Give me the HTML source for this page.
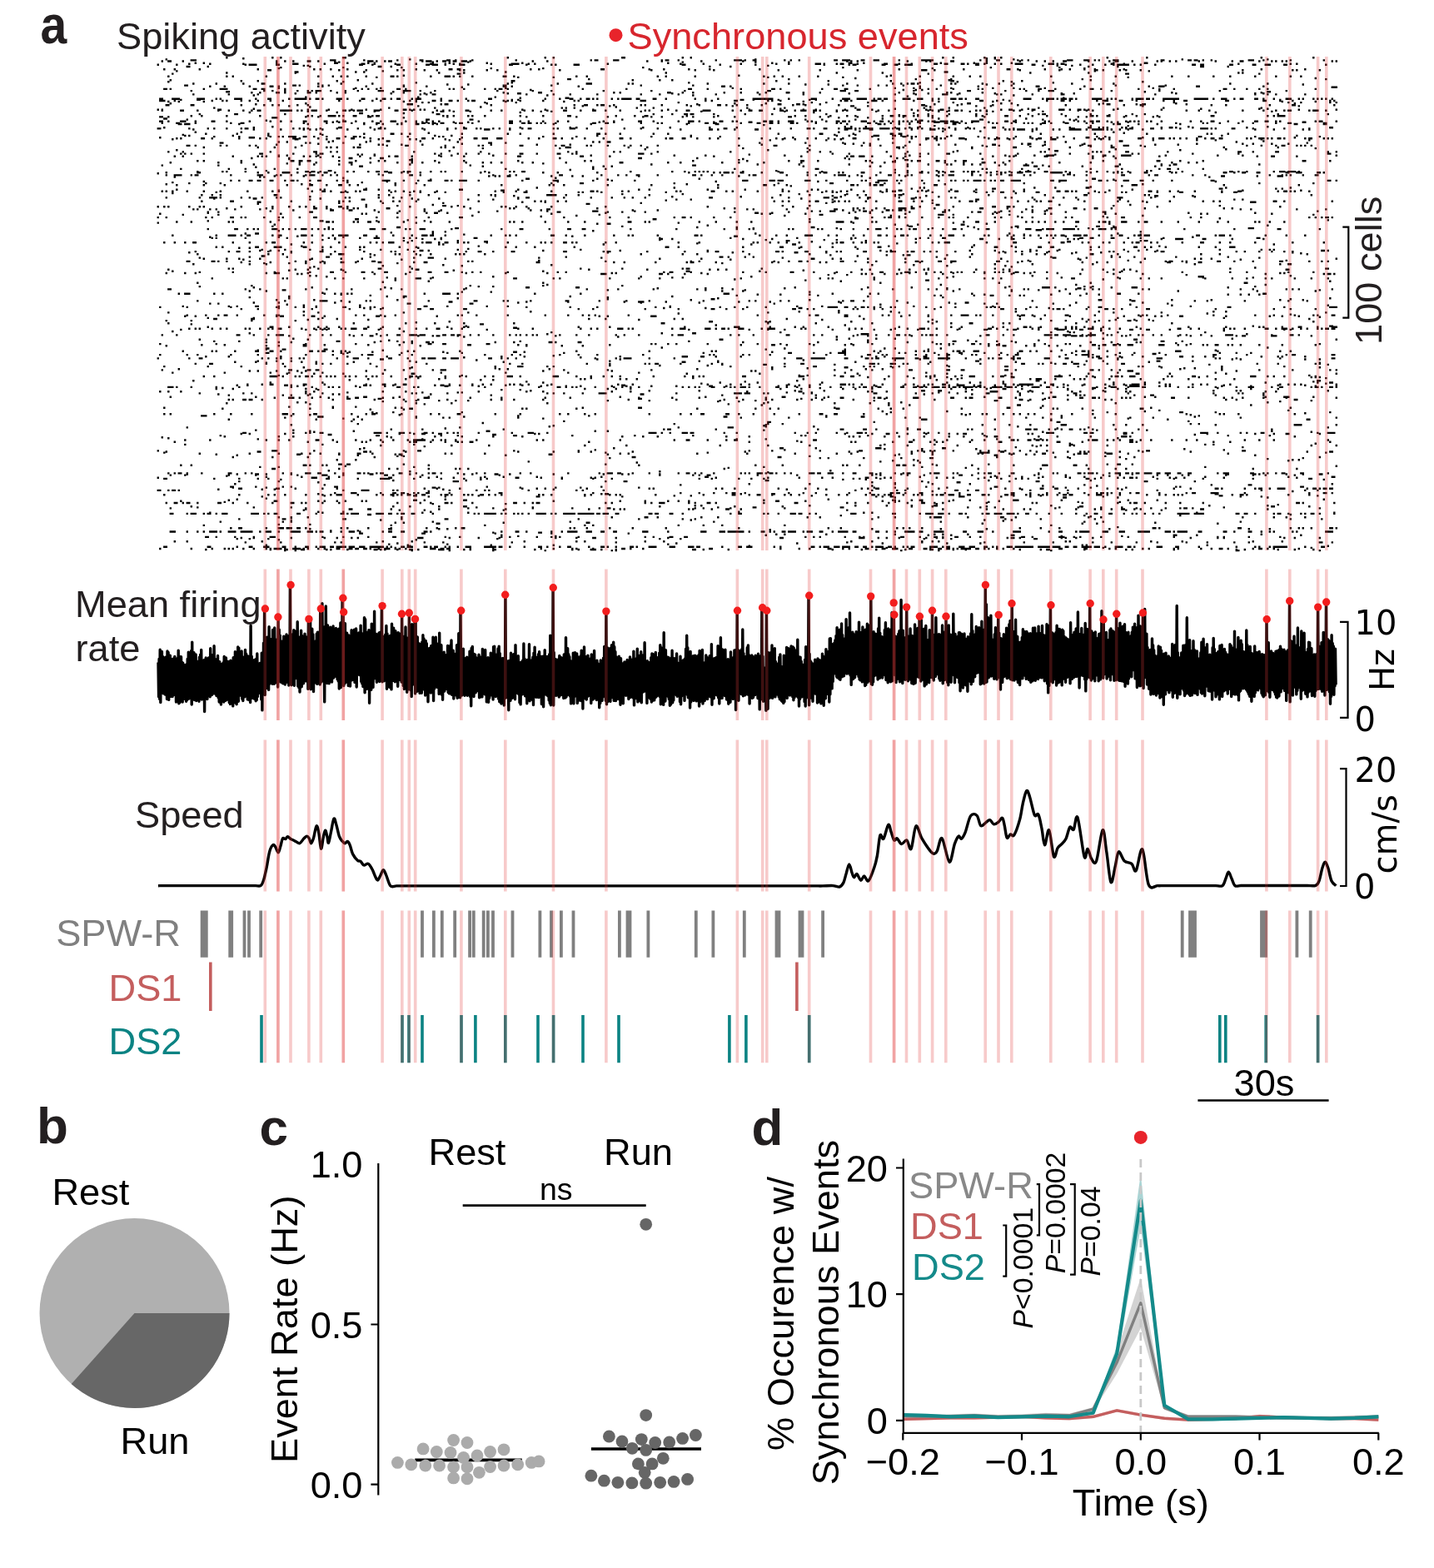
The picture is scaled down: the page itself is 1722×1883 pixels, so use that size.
<!DOCTYPE html><html><head><meta charset="utf-8"><title>Figure</title><style>html,body{margin:0;padding:0;background:#fff;}svg text{white-space:pre;}</style></head><body><svg width="1722" height="1883" viewBox="0 0 1722 1883" style="display:block">
<rect width="1722" height="1883" fill="#fff"/>
<g transform="translate(188.6 69.2)"><path d="M82.5 0h2.4m52.6 0h2.4m7.6 0h2.4m72.6 0h4.9m192.6 0h2.4m42.6 0h2.4m7.6 0h2.4m80.1 0h4.9m67.6 0h2.4m7.6 0h2.4m300.1 0h2.4m10.1 0h2.4m35.1 0h2.4m10.1 0h2.4m5.1 0h2.4m125.1 0h2.4m45.1 0h2.4m135.1 0h2.4m60.1 0h2.4M102.5 1.1h2.4m890.1 0h2.4m7.6 0h2.4M10 2.2h2.4m290.1 0h2.4m412.6 0h2.4m275.1 0h2.4m30.1 0h2.4m200.1 0h2.4m100.1 0h2.4M40 3.2h7.4m160.1 0h7.4m32.6 0h2.4m37.6 0h2.4m25.1 0h4.9m27.6 0h4.9m5.1 0h2.4m17.6 0h2.4m50.1 0h2.4m87.6 0h2.4m2.6 0h4.9m17.6 0h7.4m50.1 0h2.4m2.6 0h4.9m10.1 0h2.4m42.6 0h2.4m20.1 0h9.9m2.6 0h2.4m7.6 0h4.9m32.6 0h2.4m5.1 0h2.4m7.6 0h2.4m40.1 0h4.9m5.1 0h9.9m12.6 0h4.9m10.1 0h7.4m22.6 0h2.4m25.1 0h14.9m55.1 0h2.4m17.6 0h4.9m20.1 0h2.4m2.6 0h2.4m5.1 0h2.4m45.1 0h7.4m12.6 0h7.4m5.1 0h2.4m2.6 0h2.4m15.1 0h7.4m50.1 0h4.9m27.6 0h4.9m2.6 0h4.9m5.1 0h2.4m7.6 0h2.4m42.6 0h7.4m10.1 0h2.4m30.1 0h2.4m37.6 0h2.4M5 4.3h2.4m5.1 0h4.9m12.6 0h2.4m110.1 0h2.4m7.6 0h2.4m7.6 0h2.4m15.1 0h4.9m7.6 0h2.4m17.6 0h2.4m37.6 0h7.4m2.6 0h2.4m7.6 0h2.4m2.6 0h4.9m35.1 0h2.4m2.6 0h7.4m5.1 0h2.4m5.1 0h4.9m2.6 0h2.4m2.6 0h4.9m5.1 0h7.4m2.6 0h2.4m72.6 0h2.4m15.1 0h2.4m117.6 0h2.4m15.1 0h2.4m45.1 0h2.4m47.6 0h2.4m122.6 0h2.4m2.6 0h2.4m5.1 0h2.4m57.6 0h2.4m20.1 0h2.4m2.6 0h2.4m22.6 0h4.9m37.6 0h2.4m37.6 0h2.4m17.6 0h2.4m7.6 0h2.4m7.6 0h2.4m10.1 0h4.9m25.1 0h2.4m22.6 0h2.4m5.1 0h4.9m15.1 0h2.4m27.6 0h2.4m2.6 0h2.4m7.6 0h2.4m5.1 0h2.4m25.1 0h2.4m17.6 0h2.4m17.6 0h2.4m7.6 0h4.9m17.6 0h2.4m12.6 0h2.4m2.6 0h2.4m5.1 0h2.4m2.6 0h2.4m52.6 0h2.4m2.6 0h2.4M217.5 5.4h2.4m110.1 0h2.4m40.1 0h2.4m255.1 0h2.4m85.1 0h2.4m37.6 0h2.4M45 6.5h2.4m7.6 0h2.4m85.1 0h2.4m67.6 0h4.9m10.1 0h2.4m22.6 0h2.4m5.1 0h2.4m87.6 0h2.4m42.6 0h2.4m40.1 0h2.4m172.6 0h2.4m122.6 0h2.4m90.1 0h4.9m12.6 0h2.4m90.1 0h2.4m37.6 0h2.4m12.6 0h2.4m27.6 0h2.4m120.1 0h2.4m35.1 0h4.9M37.5 7.5h2.4m22.6 0h2.4m37.6 0h2.4m57.6 0h7.4m30.1 0h2.4m42.6 0h4.9m10.1 0h2.4m22.6 0h2.4m22.6 0h2.4m15.1 0h4.9m12.6 0h2.4m7.6 0h2.4m5.1 0h2.4m35.1 0h2.4m22.6 0h9.9m10.1 0h2.4m5.1 0h2.4m85.1 0h2.4m85.1 0h2.4m25.1 0h2.4m42.6 0h2.4m40.1 0h2.4m12.6 0h2.4m30.1 0h7.4m2.6 0h2.4m12.6 0h2.4m2.6 0h4.9m15.1 0h2.4m30.1 0h4.9m12.6 0h2.4m12.6 0h2.4m25.1 0h4.9m7.6 0h4.9m15.1 0h4.9m2.6 0h2.4m7.6 0h4.9m5.1 0h2.4m10.1 0h2.4m5.1 0h2.4m15.1 0h9.9m30.1 0h7.4m2.6 0h2.4m2.6 0h4.9m55.1 0h2.4m12.6 0h2.4m135.1 0h2.4m60.1 0h2.4m5.1 0h2.4M0 8.6h2.4m20.1 0h2.4m80.1 0h2.4m2.6 0h9.9m22.6 0h4.9m95.1 0h4.9m10.1 0h2.4m27.6 0h4.9m30.1 0h4.9m2.6 0h7.4m7.6 0h2.4m15.1 0h7.4m52.6 0h4.9m15.1 0h2.4m27.6 0h2.4m2.6 0h2.4m20.1 0h7.4m122.6 0h4.9m40.1 0h2.4m40.1 0h2.4m80.1 0h2.4m27.6 0h2.4m2.6 0h4.9m30.1 0h4.9m10.1 0h4.9m7.6 0h9.9m75.1 0h4.9m62.6 0h4.9m35.1 0h2.4m15.1 0h2.4m12.6 0h2.4m12.6 0h2.4m7.6 0h2.4m2.6 0h14.9m5.1 0h2.4m5.1 0h2.4m15.1 0h2.4m42.6 0h4.9m5.1 0h4.9m30.1 0h4.9m22.6 0h4.9m10.1 0h7.4m15.1 0h4.9m45.1 0h2.4M175 9.7h2.4m2.6 0h2.4m550.1 0h2.4m327.6 0h2.4m15.1 0h2.4m15.1 0h2.4M35 10.8h4.9m20.1 0h2.4m120.1 0h2.4m80.1 0h4.9m10.1 0h2.4m380.1 0h2.4m22.6 0h2.4m427.6 0h2.4m32.6 0h2.4m97.6 0h4.9m27.6 0h2.4M147.5 11.9h2.4m72.6 0h2.4m67.6 0h2.4m287.6 0h2.4m237.6 0h2.4m175.1 0h2.4m80.1 0h2.4M145 12.9h2.4m252.6 0h2.4m60.1 0h2.4m465.1 0h2.4m180.1 0h2.4M7.5 14h2.4m10.1 0h2.4m27.6 0h2.4m67.6 0h2.4m65.1 0h2.4m5.1 0h2.4m10.1 0h2.4m17.6 0h2.4m80.1 0h2.4m37.6 0h4.9m5.1 0h4.9m82.6 0h2.4m7.6 0h2.4m72.6 0h4.9m52.6 0h2.4m15.1 0h2.4m27.6 0h2.4m22.6 0h2.4m57.6 0h2.4m165.1 0h2.4m75.1 0h2.4m50.1 0h4.9m7.6 0h2.4m30.1 0h2.4m17.6 0h2.4m7.6 0h2.4m15.1 0h2.4m10.1 0h2.4m32.6 0h2.4m162.6 0h2.4m50.1 0h2.4M132.5 15.1h4.9m80.1 0h2.4m30.1 0h2.4m35.1 0h2.4m5.1 0h2.4m22.6 0h2.4m12.6 0h2.4m25.1 0h2.4m2.6 0h2.4m25.1 0h2.4m10.1 0h2.4m72.6 0h2.4m107.6 0h2.4m50.1 0h2.4m20.1 0h2.4m75.1 0h2.4m47.6 0h2.4m42.6 0h2.4m75.1 0h7.4m7.6 0h2.4m100.1 0h2.4m45.1 0h2.4m42.6 0h2.4m5.1 0h2.4m17.6 0h2.4m5.1 0h2.4m15.1 0h2.4m120.1 0h2.4m57.6 0h2.4m2.6 0h2.4m25.1 0h2.4M22.5 16.2h2.4m245.1 0h2.4m852.6 0h2.4m62.6 0h2.4M165 17.3h4.9m67.6 0h2.4m7.6 0h2.4m167.6 0h2.4m525.1 0h4.9M82.5 18.3h2.4m80.1 0h2.4m170.1 0h2.4m27.6 0h2.4m240.1 0h2.4m202.6 0h2.4m52.6 0h2.4m175.1 0h2.4m67.6 0h2.4m177.6 0h2.4m2.6 0h2.4M17.5 19.4h2.4m340.1 0h4.9m560.1 0h2.4m235.1 0h4.9m155.1 0h2.4M295 21.6h2.4m400.1 0h2.4m180.1 0h2.4M12.5 22.6h2.4m67.6 0h2.4m5.1 0h2.4m37.6 0h2.4m60.1 0h2.4m15.1 0h2.4m7.6 0h2.4m5.1 0h2.4m20.1 0h2.4m27.6 0h4.9m2.6 0h2.4m37.6 0h2.4m15.1 0h7.4m2.6 0h2.4m5.1 0h2.4m12.6 0h2.4m35.1 0h4.9m7.6 0h2.4m72.6 0h2.4m10.1 0h2.4m82.6 0h2.4m7.6 0h2.4m32.6 0h2.4m80.1 0h2.4m10.1 0h2.4m7.6 0h2.4m17.6 0h2.4m20.1 0h2.4m80.1 0h2.4m37.6 0h2.4m37.6 0h2.4m17.6 0h2.4m10.1 0h2.4m82.6 0h2.4m45.1 0h2.4m27.6 0h2.4m65.1 0h2.4m17.6 0h2.4m27.6 0h2.4m17.6 0h2.4m27.6 0h2.4m22.6 0h2.4m15.1 0h2.4m10.1 0h2.4M262.5 23.7h2.4m167.6 0h2.4m40.1 0h2.4m255.1 0h2.4m87.6 0h2.4m340.1 0h2.4M837.5 24.8h2.4m550.1 0h2.4M492.5 25.9h4.9m20.1 0h2.4m237.6 0h2.4m150.1 0h2.4m40.1 0h2.4m155.1 0h2.4m290.1 0h2.4M15 27h2.4m222.6 0h2.4m327.6 0h2.4m30.1 0h2.4m12.6 0h2.4m310.1 0h2.4m17.6 0h2.4m167.6 0h2.4M100 28h2.4m17.6 0h2.4m92.6 0h2.4m207.6 0h4.9m312.6 0h2.4m60.1 0h2.4m72.6 0h2.4m70.1 0h4.9m57.6 0h2.4m20.1 0h2.4M12.5 29.1h2.4m207.6 0h2.4m735.1 0h2.4m62.6 0h2.4m155.1 0h2.4M310 30.2h2.4m112.6 0h2.4m210.1 0h2.4m275.1 0h2.4m157.6 0h2.4M42.5 31.3h2.4m25.1 0h2.4m30.1 0h2.4m20.1 0h4.9m22.6 0h2.4m37.6 0h2.4m25.1 0h2.4m35.1 0h2.4m160.1 0h2.4m57.6 0h2.4m32.6 0h7.4m42.6 0h2.4m2.6 0h2.4m87.6 0h2.4m65.1 0h2.4m27.6 0h2.4m67.6 0h2.4m52.6 0h2.4m7.6 0h2.4m5.1 0h2.4m2.6 0h4.9m2.6 0h2.4m37.6 0h2.4m2.6 0h2.4m30.1 0h2.4m17.6 0h2.4m15.1 0h2.4m67.6 0h2.4m47.6 0h2.4m137.6 0h2.4m42.6 0h2.4M347.5 32.3h2.4m22.6 0h2.4m402.6 0h2.4m25.1 0h2.4m187.6 0h2.4m377.6 0h2.4M32.5 33.4h4.9m125.1 0h4.9m2.6 0h2.4m25.1 0h2.4m5.1 0h2.4m87.6 0h2.4m117.6 0h4.9m52.6 0h2.4m105.1 0h2.4m60.1 0h2.4m177.6 0h2.4m15.1 0h2.4m22.6 0h2.4m7.6 0h2.4m17.6 0h2.4m42.6 0h2.4m82.6 0h2.4m122.6 0h2.4m57.6 0h2.4M62.5 34.5h2.4m15.1 0h2.4m27.6 0h2.4m22.6 0h4.9m5.1 0h2.4m45.1 0h2.4m2.6 0h2.4m50.1 0h2.4m42.6 0h2.4m25.1 0h2.4m90.1 0h4.9m5.1 0h2.4m77.6 0h2.4m170.1 0h4.9m5.1 0h2.4m225.1 0h2.4m67.6 0h2.4m67.6 0h4.9m52.6 0h2.4m75.1 0h2.4m10.1 0h7.4m37.6 0h4.9m75.1 0h2.4M365 35.6h2.4m547.6 0h2.4m492.6 0h7.4M145 36.7h2.4m90.1 0h2.4m27.6 0h2.4m147.6 0h2.4m270.1 0h2.4m192.6 0h2.4m20.1 0h2.4m5.1 0h2.4m35.1 0h2.4m47.6 0h2.4m22.6 0h2.4m35.1 0h2.4m127.6 0h2.4M7.5 37.7h4.9m2.6 0h2.4m37.6 0h2.4m17.6 0h9.9m30.1 0h4.9m5.1 0h4.9m22.6 0h2.4m80.1 0h2.4m7.6 0h2.4m5.1 0h2.4m7.6 0h2.4m22.6 0h4.9m5.1 0h2.4m50.1 0h2.4m2.6 0h2.4m10.1 0h2.4m22.6 0h2.4m10.1 0h2.4m2.6 0h4.9m5.1 0h2.4m87.6 0h2.4m50.1 0h2.4m72.6 0h4.9m17.6 0h2.4m37.6 0h2.4m35.1 0h4.9m5.1 0h2.4m47.6 0h2.4m12.6 0h4.9m7.6 0h4.9m25.1 0h2.4m67.6 0h2.4m7.6 0h2.4m17.6 0h2.4m27.6 0h2.4m2.6 0h2.4m42.6 0h2.4m2.6 0h2.4m15.1 0h4.9m15.1 0h2.4m27.6 0h2.4m10.1 0h4.9m7.6 0h2.4m42.6 0h2.4m22.6 0h2.4m15.1 0h2.4m57.6 0h4.9m7.6 0h2.4m12.6 0h2.4m12.6 0h2.4m7.6 0h2.4m55.1 0h2.4M447.5 38.8h2.4m445.1 0h2.4m12.6 0h2.4m5.1 0h2.4M40 39.9h2.4m85.1 0h2.4m7.6 0h2.4m12.6 0h2.4m12.6 0h2.4m10.1 0h2.4m2.6 0h2.4m2.6 0h7.4m10.1 0h2.4m15.1 0h2.4m12.6 0h2.4m22.6 0h7.4m22.6 0h9.9m10.1 0h2.4m15.1 0h2.4m72.6 0h2.4m40.1 0h2.4m20.1 0h2.4m60.1 0h2.4m55.1 0h2.4m37.6 0h2.4m97.6 0h4.9m82.6 0h7.4m10.1 0h4.9m65.1 0h2.4m62.6 0h4.9m40.1 0h2.4m22.6 0h2.4m12.6 0h2.4m10.1 0h7.4m67.6 0h2.4m55.1 0h2.4m70.1 0h2.4m77.6 0h2.4M82.5 41h4.9m195.1 0h2.4m900.1 0h2.4m145.1 0h4.9M112.5 42h2.4m7.6 0h2.4m17.6 0h4.9m5.1 0h2.4m25.1 0h4.9m5.1 0h2.4m22.6 0h2.4m7.6 0h2.4m67.6 0h2.4m30.1 0h2.4m85.1 0h2.4m40.1 0h4.9m85.1 0h2.4m5.1 0h2.4m55.1 0h4.9m12.6 0h2.4m10.1 0h2.4m35.1 0h2.4m17.6 0h2.4m17.6 0h2.4m7.6 0h2.4m22.6 0h4.9m15.1 0h2.4m17.6 0h2.4m92.6 0h2.4m55.1 0h2.4m2.6 0h2.4m35.1 0h2.4m225.1 0h2.4m105.1 0h2.4M165 43.1h2.4m112.6 0h2.4m37.6 0h2.4m97.6 0h2.4m10.1 0h4.9m180.1 0h2.4m210.1 0h2.4m75.1 0h2.4m15.1 0h2.4m35.1 0h2.4m40.1 0h2.4m77.6 0h2.4m12.6 0h2.4m120.1 0h2.4m92.6 0h2.4m7.6 0h2.4M42.5 44.2h2.4m40.1 0h2.4m32.6 0h2.4m192.6 0h2.4m5.1 0h2.4m5.1 0h4.9m107.6 0h2.4m30.1 0h2.4m17.6 0h2.4m30.1 0h2.4m50.1 0h2.4m20.1 0h2.4m20.1 0h2.4m42.6 0h2.4m50.1 0h2.4m50.1 0h2.4m107.6 0h2.4m22.6 0h2.4m30.1 0h7.4m10.1 0h2.4m45.1 0h2.4m2.6 0h2.4m35.1 0h2.4m32.6 0h4.9m107.6 0h2.4m117.6 0h2.4m12.6 0h2.4m7.6 0h2.4m32.6 0h2.4M115 45.3h2.4m350.1 0h2.4m172.6 0h2.4m382.6 0h2.4M900 46.4h2.4M177.5 47.4h2.4m132.6 0h2.4m90.1 0h2.4M435 48.5h2.4m52.6 0h4.9m592.6 0h2.4M2.5 49.6h4.9m10.1 0h9.9m20.1 0h9.9m12.6 0h2.4m2.6 0h2.4m15.1 0h9.9m15.1 0h2.4m12.6 0h4.9m20.1 0h2.4m5.1 0h14.9m2.6 0h2.4m5.1 0h4.9m2.6 0h2.4m15.1 0h7.4m5.1 0h2.4m15.1 0h4.9m12.6 0h2.4m5.1 0h4.9m5.1 0h2.4m5.1 0h4.9m12.6 0h2.4m2.6 0h7.4m22.6 0h2.4m27.6 0h2.4m25.1 0h4.9m62.6 0h2.4m15.1 0h2.4m10.1 0h4.9m7.6 0h2.4m5.1 0h4.9m2.6 0h2.4m2.6 0h2.4m15.1 0h2.4m5.1 0h2.4m2.6 0h12.4m5.1 0h4.9m15.1 0h4.9m10.1 0h2.4m32.6 0h2.4m10.1 0h2.4m12.6 0h2.4m40.1 0h24.9m17.6 0h2.4m25.1 0h7.4m17.6 0h2.4m10.1 0h9.9m7.6 0h12.4m7.6 0h2.4m2.6 0h4.9m2.6 0h4.9m17.6 0h9.9m7.6 0h7.4m10.1 0h2.4m5.1 0h2.4m12.6 0h7.4m2.6 0h4.9m2.6 0h2.4m10.1 0h4.9m52.6 0h9.9m12.6 0h2.4m2.6 0h9.9m2.6 0h2.4m2.6 0h7.4m2.6 0h4.9m2.6 0h2.4m17.6 0h12.4m5.1 0h2.4m2.6 0h2.4m2.6 0h2.4m17.6 0h2.4m2.6 0h9.9m2.6 0h4.9m2.6 0h2.4m10.1 0h19.9m17.6 0h17.4m5.1 0h2.4m7.6 0h7.4m7.6 0h2.4m5.1 0h4.9m12.6 0h4.9m5.1 0h2.4m10.1 0h2.4m12.6 0h7.4m7.6 0h2.4m2.6 0h2.4m10.1 0h2.4m2.6 0h2.4m2.6 0h2.4m2.6 0h2.4m5.1 0h2.4M27.5 50.7h2.4m17.6 0h4.9m372.6 0h2.4m5.1 0h2.4m265.1 0h4.9m10.1 0h2.4m27.6 0h2.4m35.1 0h2.4m5.1 0h2.4m222.6 0h2.4m152.6 0h2.4m175.1 0h2.4M2.5 51.8h7.4m10.1 0h2.4m42.6 0h2.4m10.1 0h2.4m2.6 0h2.4m15.1 0h2.4m7.6 0h2.4m7.6 0h2.4m12.6 0h2.4m12.6 0h2.4m65.1 0h2.4m22.6 0h2.4m12.6 0h2.4m7.6 0h2.4m32.6 0h2.4m5.1 0h2.4m17.6 0h4.9m5.1 0h2.4m7.6 0h4.9m5.1 0h2.4m10.1 0h2.4m2.6 0h4.9m32.6 0h2.4m2.6 0h2.4m2.6 0h2.4m7.6 0h2.4m25.1 0h2.4m35.1 0h2.4m2.6 0h2.4m72.6 0h7.4m70.1 0h2.4m5.1 0h2.4m25.1 0h4.9m35.1 0h2.4m2.6 0h2.4m7.6 0h2.4m70.1 0h2.4m2.6 0h4.9m2.6 0h2.4m22.6 0h7.4m5.1 0h2.4m12.6 0h2.4m20.1 0h2.4m20.1 0h2.4m55.1 0h4.9m15.1 0h2.4m12.6 0h2.4m42.6 0h2.4m15.1 0h4.9m5.1 0h2.4m30.1 0h2.4m5.1 0h7.4m12.6 0h4.9m15.1 0h2.4m30.1 0h2.4m10.1 0h2.4m10.1 0h4.9m45.1 0h4.9m40.1 0h4.9m15.1 0h2.4m12.6 0h2.4m42.6 0h2.4m2.6 0h2.4M12.5 52.8h2.4m10.1 0h2.4m27.6 0h2.4m237.6 0h2.4m12.6 0h2.4m105.1 0h2.4m67.6 0h2.4m285.1 0h2.4m160.1 0h2.4m62.6 0h2.4m345.1 0h2.4m37.6 0h2.4M317.5 53.9h2.4m5.1 0h2.4m65.1 0h2.4m35.1 0h2.4m192.6 0h2.4m157.6 0h2.4m15.1 0h2.4m47.6 0h2.4m100.1 0h2.4m262.6 0h2.4m135.1 0h2.4m12.6 0h2.4m32.6 0h2.4m5.1 0h2.4M15 55h2.4m160.1 0h2.4m215.1 0h2.4m295.1 0h2.4m35.1 0h2.4m240.1 0h4.9m35.1 0h2.4m10.1 0h2.4m107.6 0h2.4m85.1 0h2.4m140.1 0h2.4M117.5 56.1h2.4m180.1 0h7.4m32.6 0h2.4m2.6 0h4.9m297.6 0h2.4m95.1 0h4.9m17.6 0h4.9m2.6 0h2.4m17.6 0h2.4m135.1 0h2.4m30.1 0h2.4m162.6 0h2.4m7.6 0h4.9m30.1 0h2.4m5.1 0h4.9m47.6 0h2.4M10 57.1h4.9m25.1 0h4.9m55.1 0h2.4m25.1 0h2.4m7.6 0h2.4m5.1 0h2.4m20.1 0h2.4m10.1 0h2.4m217.6 0h2.4m97.6 0h2.4m10.1 0h4.9m10.1 0h2.4m2.6 0h4.9m10.1 0h2.4m30.1 0h2.4m2.6 0h2.4m17.6 0h2.4m27.6 0h2.4m12.6 0h2.4m20.1 0h4.9m5.1 0h2.4m10.1 0h2.4m10.1 0h2.4m15.1 0h2.4m35.1 0h2.4m12.6 0h2.4m37.6 0h2.4m97.6 0h4.9m37.6 0h2.4m40.1 0h2.4m27.6 0h2.4m55.1 0h2.4m67.6 0h2.4m17.6 0h2.4m82.6 0h2.4m15.1 0h2.4m50.1 0h2.4m25.1 0h4.9m45.1 0h2.4M157.5 58.2h2.4m152.6 0h2.4m195.1 0h2.4m30.1 0h2.4m95.1 0h2.4m47.6 0h2.4m140.1 0h4.9m15.1 0h2.4m67.6 0h2.4m57.6 0h2.4m15.1 0h2.4m180.1 0h2.4m185.1 0h2.4M182.5 59.3h2.4m202.6 0h2.4m160.1 0h2.4m375.1 0h2.4M67.5 60.4h2.4m207.6 0h2.4m52.6 0h2.4m150.1 0h2.4m2.6 0h2.4m7.6 0h2.4m72.6 0h2.4m17.6 0h2.4m110.1 0h2.4m42.6 0h2.4m82.6 0h2.4m80.1 0h2.4m27.6 0h2.4m40.1 0h2.4m62.6 0h2.4m147.6 0h2.4m115.1 0h2.4M115 61.5h2.4m622.6 0h2.4m5.1 0h2.4m135.1 0h2.4m157.6 0h2.4m105.1 0h2.4m97.6 0h2.4m67.6 0h2.4m7.6 0h2.4M0 62.5h2.4m2.6 0h2.4m65.1 0h4.9m102.6 0h2.4m22.6 0h2.4m25.1 0h2.4m15.1 0h2.4m15.1 0h2.4m25.1 0h4.9m2.6 0h2.4m2.6 0h2.4m5.1 0h2.4m2.6 0h2.4m115.1 0h2.4m25.1 0h2.4m55.1 0h2.4m87.6 0h2.4m95.1 0h2.4m62.6 0h2.4m12.6 0h2.4m32.6 0h2.4m12.6 0h4.9m12.6 0h2.4m45.1 0h2.4m15.1 0h2.4m2.6 0h2.4m10.1 0h4.9m67.6 0h2.4m7.6 0h4.9m10.1 0h2.4m10.1 0h4.9m27.6 0h7.4m5.1 0h2.4m7.6 0h4.9m2.6 0h2.4m2.6 0h2.4m27.6 0h2.4m55.1 0h2.4m162.6 0h2.4m42.6 0h2.4M5 63.6h2.4m20.1 0h4.9m15.1 0h2.4m22.6 0h2.4m10.1 0h2.4m15.1 0h2.4m7.6 0h2.4m5.1 0h4.9m22.6 0h14.9m5.1 0h2.4m2.6 0h2.4m10.1 0h7.4m10.1 0h2.4m17.6 0h4.9m2.6 0h2.4m2.6 0h2.4m2.6 0h7.4m12.6 0h7.4m17.6 0h4.9m15.1 0h2.4m27.6 0h2.4m5.1 0h2.4m5.1 0h2.4m17.6 0h4.9m25.1 0h2.4m10.1 0h2.4m25.1 0h2.4m7.6 0h2.4m15.1 0h2.4m17.6 0h4.9m15.1 0h2.4m12.6 0h4.9m10.1 0h2.4m15.1 0h2.4m27.6 0h2.4m2.6 0h2.4m12.6 0h2.4m15.1 0h2.4m10.1 0h4.9m15.1 0h9.9m25.1 0h2.4m7.6 0h2.4m7.6 0h4.9m7.6 0h4.9m20.1 0h4.9m2.6 0h2.4m7.6 0h2.4m5.1 0h7.4m7.6 0h4.9m2.6 0h2.4m17.6 0h2.4m5.1 0h2.4m2.6 0h2.4m35.1 0h2.4m10.1 0h2.4m32.6 0h2.4m10.1 0h2.4m2.6 0h2.4m5.1 0h2.4m10.1 0h2.4m5.1 0h4.9m2.6 0h2.4m15.1 0h2.4m2.6 0h2.4m5.1 0h2.4m30.1 0h2.4m5.1 0h2.4m12.6 0h2.4m52.6 0h2.4m7.6 0h2.4m5.1 0h2.4m110.1 0h2.4m12.6 0h2.4m10.1 0h2.4m37.6 0h2.4m22.6 0h2.4m12.6 0h2.4m7.6 0h2.4m2.6 0h4.9m20.1 0h2.4m2.6 0h7.4m7.6 0h2.4M180 64.7h2.4m77.6 0h2.4m77.6 0h4.9m10.1 0h2.4m17.6 0h2.4m82.6 0h2.4m10.1 0h2.4m105.1 0h2.4m70.1 0h2.4m97.6 0h2.4m60.1 0h2.4m45.1 0h2.4m72.6 0h2.4m7.6 0h2.4m25.1 0h2.4m17.6 0h2.4m5.1 0h2.4m57.6 0h2.4m272.6 0h2.4M110 65.8h2.4m102.6 0h2.4m112.6 0h2.4m102.6 0h2.4m350.1 0h2.4m480.1 0h2.4M242.5 66.8h4.9m47.6 0h2.4m610.1 0h2.4M50 67.9h2.4m40.1 0h4.9m55.1 0h2.4m180.1 0h4.9m255.1 0h2.4m20.1 0h2.4m12.6 0h4.9m2.6 0h4.9m22.6 0h2.4m35.1 0h2.4m30.1 0h2.4m62.6 0h2.4m120.1 0h2.4m22.6 0h2.4m30.1 0h2.4m10.1 0h2.4m47.6 0h2.4m10.1 0h2.4m2.6 0h4.9m17.6 0h2.4m32.6 0h2.4m47.6 0h2.4m12.6 0h2.4m157.6 0h2.4m57.6 0h2.4M890 69h2.4m20.1 0h2.4m227.6 0h2.4M40 70.1h2.4m10.1 0h2.4m27.6 0h2.4m37.6 0h2.4m55.1 0h2.4m2.6 0h2.4m7.6 0h2.4m7.6 0h9.9m2.6 0h2.4m2.6 0h2.4m10.1 0h4.9m12.6 0h2.4m2.6 0h2.4m2.6 0h4.9m75.1 0h2.4m2.6 0h2.4m5.1 0h2.4m15.1 0h2.4m2.6 0h2.4m12.6 0h2.4m40.1 0h2.4m25.1 0h2.4m27.6 0h4.9m52.6 0h2.4m20.1 0h2.4m10.1 0h4.9m45.1 0h2.4m35.1 0h2.4m90.1 0h2.4m10.1 0h2.4m27.6 0h2.4m17.6 0h2.4m7.6 0h2.4m30.1 0h2.4m7.6 0h4.9m5.1 0h2.4m2.6 0h4.9m7.6 0h2.4m2.6 0h2.4m10.1 0h2.4m2.6 0h2.4m15.1 0h2.4m32.6 0h2.4m5.1 0h2.4m25.1 0h4.9m12.6 0h2.4m12.6 0h2.4m15.1 0h2.4m20.1 0h2.4m27.6 0h4.9m2.6 0h2.4m10.1 0h4.9m17.6 0h2.4m10.1 0h2.4m22.6 0h2.4m62.6 0h4.9m62.6 0h2.4m5.1 0h2.4m2.6 0h9.9M2.5 71.2h4.9m5.1 0h2.4m162.6 0h2.4m12.6 0h2.4m57.6 0h4.9m90.1 0h2.4m92.6 0h2.4m57.6 0h2.4m35.1 0h2.4m40.1 0h2.4m7.6 0h2.4m10.1 0h2.4m22.6 0h2.4m10.1 0h2.4m22.6 0h2.4m22.6 0h2.4m62.6 0h4.9m32.6 0h2.4m7.6 0h2.4m32.6 0h2.4m52.6 0h2.4m95.1 0h2.4m110.1 0h2.4m7.6 0h2.4m42.6 0h2.4m32.6 0h2.4m5.1 0h2.4M137.5 72.2h7.4m150.1 0h2.4m520.1 0h2.4m32.6 0h2.4m75.1 0h2.4M7.5 73.3h4.9m857.6 0h2.4m65.1 0h2.4m102.6 0h2.4M35 74.4h2.4m285.1 0h4.9m47.6 0h4.9m177.6 0h2.4m217.6 0h2.4m17.6 0h2.4m37.6 0h2.4m70.1 0h2.4m75.1 0h4.9m70.1 0h2.4m30.1 0h2.4m5.1 0h2.4M130 75.5h2.4m90.1 0h2.4m690.1 0h4.9m110.1 0h2.4m67.6 0h2.4M2.5 76.6h4.9m5.1 0h2.4m12.6 0h7.4m10.1 0h2.4m17.6 0h4.9m12.6 0h2.4m25.1 0h2.4m22.6 0h2.4m10.1 0h2.4m10.1 0h2.4m12.6 0h4.9m20.1 0h4.9m10.1 0h2.4m5.1 0h4.9m10.1 0h2.4m17.6 0h2.4m7.6 0h2.4m10.1 0h7.4m10.1 0h2.4m10.1 0h2.4m10.1 0h2.4m5.1 0h2.4m5.1 0h2.4m45.1 0h2.4m35.1 0h4.9m7.6 0h2.4m7.6 0h2.4m15.1 0h2.4m15.1 0h2.4m10.1 0h2.4m40.1 0h2.4m10.1 0h2.4m27.6 0h4.9m12.6 0h2.4m27.6 0h2.4m10.1 0h7.4m5.1 0h2.4m22.6 0h4.9m10.1 0h2.4m2.6 0h2.4m30.1 0h4.9m2.6 0h4.9m5.1 0h2.4m10.1 0h7.4m15.1 0h2.4m2.6 0h2.4m15.1 0h2.4m10.1 0h4.9m2.6 0h4.9m2.6 0h2.4m12.6 0h7.4m7.6 0h2.4m5.1 0h4.9m5.1 0h2.4m2.6 0h2.4m5.1 0h2.4m2.6 0h2.4m2.6 0h2.4m2.6 0h2.4m5.1 0h4.9m7.6 0h2.4m2.6 0h4.9m5.1 0h9.9m2.6 0h4.9m7.6 0h2.4m10.1 0h9.9m30.1 0h4.9m5.1 0h2.4m35.1 0h2.4m2.6 0h2.4m32.6 0h2.4m5.1 0h2.4m5.1 0h4.9m2.6 0h4.9m7.6 0h2.4m20.1 0h2.4m2.6 0h2.4m2.6 0h2.4m2.6 0h2.4m7.6 0h2.4m2.6 0h2.4m10.1 0h2.4m32.6 0h2.4m10.1 0h2.4m10.1 0h4.9m15.1 0h2.4m15.1 0h2.4m12.6 0h4.9m7.6 0h4.9m7.6 0h2.4m2.6 0h2.4m40.1 0h2.4m2.6 0h4.9m15.1 0h2.4M210 77.6h2.4m5.1 0h2.4m97.6 0h2.4m2.6 0h2.4m30.1 0h2.4m15.1 0h2.4m155.1 0h2.4m15.1 0h2.4m117.6 0h2.4m40.1 0h4.9m47.6 0h2.4m25.1 0h2.4m120.1 0h2.4m17.6 0h7.4m17.6 0h4.9m15.1 0h2.4m17.6 0h2.4m30.1 0h2.4m55.1 0h2.4m55.1 0h2.4m5.1 0h2.4m10.1 0h2.4m207.6 0h4.9M5 78.7h2.4m15.1 0h4.9m17.6 0h2.4m40.1 0h2.4m10.1 0h4.9m70.1 0h2.4m25.1 0h2.4m27.6 0h2.4m12.6 0h2.4m12.6 0h4.9m25.1 0h2.4m15.1 0h2.4m5.1 0h4.9m2.6 0h2.4m2.6 0h4.9m5.1 0h4.9m12.6 0h2.4m2.6 0h4.9m10.1 0h2.4m42.6 0h4.9m10.1 0h4.9m2.6 0h4.9m5.1 0h2.4m2.6 0h2.4m2.6 0h2.4m10.1 0h2.4m42.6 0h4.9m10.1 0h4.9m37.6 0h2.4m17.6 0h2.4m2.6 0h2.4m30.1 0h2.4m17.6 0h4.9m5.1 0h4.9m27.6 0h2.4m17.6 0h4.9m10.1 0h4.9m5.1 0h2.4m12.6 0h4.9m2.6 0h2.4m20.1 0h2.4m22.6 0h2.4m2.6 0h2.4m30.1 0h4.9m5.1 0h2.4m15.1 0h2.4m7.6 0h2.4m10.1 0h2.4m10.1 0h2.4m27.6 0h4.9m5.1 0h4.9m2.6 0h2.4m5.1 0h2.4m30.1 0h2.4m2.6 0h2.4m15.1 0h2.4m12.6 0h2.4m2.6 0h2.4m2.6 0h2.4m10.1 0h4.9m5.1 0h2.4m15.1 0h4.9m20.1 0h2.4m5.1 0h2.4m97.6 0h2.4m30.1 0h2.4m2.6 0h2.4m12.6 0h2.4m20.1 0h2.4m15.1 0h2.4m25.1 0h2.4m12.6 0h4.9m37.6 0h4.9M25 79.8h4.9m2.6 0h7.4m57.6 0h2.4m80.1 0h2.4m65.1 0h2.4m12.6 0h2.4m5.1 0h2.4m15.1 0h2.4m2.6 0h2.4m15.1 0h4.9m15.1 0h2.4m2.6 0h2.4m137.6 0h2.4m42.6 0h2.4m112.6 0h2.4m32.6 0h4.9m152.6 0h2.4m35.1 0h4.9m2.6 0h2.4m15.1 0h2.4m10.1 0h2.4m50.1 0h4.9m100.1 0h2.4m85.1 0h2.4m2.6 0h4.9m20.1 0h2.4m20.1 0h2.4m25.1 0h2.4m135.1 0h4.9m30.1 0h4.9M727.5 80.9h2.4M932.5 81.9h2.4m185.1 0h2.4m42.6 0h2.4M137.5 83h2.4m685.1 0h2.4m5.1 0h2.4m15.1 0h2.4m62.6 0h2.4m320.1 0h2.4m92.6 0h2.4M7.5 84.1h2.4m105.1 0h2.4m100.1 0h4.9m32.6 0h2.4m10.1 0h2.4m97.6 0h2.4m65.1 0h2.4m57.6 0h2.4m5.1 0h2.4m77.6 0h2.4m30.1 0h2.4m45.1 0h2.4m30.1 0h2.4m187.6 0h2.4m15.1 0h2.4m7.6 0h2.4m35.1 0h2.4m20.1 0h2.4m17.6 0h2.4m7.6 0h4.9m7.6 0h2.4m77.6 0h2.4m20.1 0h4.9m7.6 0h2.4m2.6 0h2.4m2.6 0h2.4m15.1 0h2.4m2.6 0h2.4m5.1 0h2.4m32.6 0h2.4m7.6 0h4.9m2.6 0h2.4m17.6 0h2.4m62.6 0h2.4m97.6 0h4.9M0 85.2h4.9m32.6 0h2.4m20.1 0h2.4m5.1 0h2.4m12.6 0h2.4m15.1 0h2.4m2.6 0h4.9m52.6 0h2.4m5.1 0h2.4m2.6 0h2.4m2.6 0h2.4m12.6 0h2.4m17.6 0h2.4m22.6 0h2.4m22.6 0h4.9m2.6 0h2.4m42.6 0h2.4m27.6 0h2.4m7.6 0h2.4m7.6 0h4.9m10.1 0h2.4m2.6 0h2.4m12.6 0h2.4m5.1 0h2.4m10.1 0h2.4m12.6 0h2.4m5.1 0h4.9m25.1 0h2.4m2.6 0h2.4m12.6 0h7.4m12.6 0h2.4m15.1 0h2.4m25.1 0h2.4m17.6 0h2.4m17.6 0h2.4m77.6 0h4.9m50.1 0h2.4m22.6 0h2.4m17.6 0h4.9m2.6 0h2.4m10.1 0h4.9m12.6 0h2.4m5.1 0h9.9m2.6 0h2.4m2.6 0h2.4m2.6 0h12.4m7.6 0h12.4m2.6 0h2.4m2.6 0h4.9m5.1 0h2.4m5.1 0h2.4m5.1 0h2.4m2.6 0h2.4m7.6 0h2.4m7.6 0h2.4m2.6 0h2.4m12.6 0h2.4m10.1 0h2.4m2.6 0h2.4m2.6 0h2.4m45.1 0h2.4m25.1 0h2.4m40.1 0h4.9m60.1 0h2.4m2.6 0h4.9m20.1 0h4.9m7.6 0h2.4m20.1 0h2.4m22.6 0h9.9m2.6 0h2.4m2.6 0h2.4m17.6 0h4.9m20.1 0h2.4m35.1 0h2.4m27.6 0h2.4M42.5 86.3h2.4m70.1 0h2.4m30.1 0h2.4m25.1 0h2.4m5.1 0h2.4m5.1 0h2.4m5.1 0h2.4m27.6 0h2.4m30.1 0h2.4m57.6 0h2.4m25.1 0h2.4m42.6 0h7.4m22.6 0h2.4m202.6 0h2.4m32.6 0h4.9m5.1 0h2.4m17.6 0h2.4m22.6 0h4.9m102.6 0h4.9m7.6 0h2.4m15.1 0h4.9m30.1 0h2.4m12.6 0h2.4m20.1 0h7.4m10.1 0h2.4m10.1 0h2.4m57.6 0h2.4m2.6 0h2.4m2.6 0h2.4m2.6 0h9.9m7.6 0h2.4m2.6 0h2.4m17.6 0h2.4m5.1 0h2.4m10.1 0h14.9m5.1 0h2.4m5.1 0h14.9m2.6 0h2.4m2.6 0h2.4m7.6 0h2.4m7.6 0h2.4m15.1 0h2.4m132.6 0h2.4m20.1 0h2.4m32.6 0h2.4m5.1 0h2.4M842.5 88.4h2.4m97.6 0h2.4m42.6 0h2.4m60.1 0h2.4M45 89.5h2.4m52.6 0h2.4m715.1 0h2.4m327.6 0h2.4M325 90.6h2.4m832.6 0h2.4M57.5 91.6h2.4m35.1 0h2.4m35.1 0h2.4m60.1 0h2.4m50.1 0h2.4m30.1 0h4.9m7.6 0h2.4m7.6 0h2.4m60.1 0h2.4m52.6 0h2.4m12.6 0h2.4m37.6 0h2.4m50.1 0h4.9m5.1 0h2.4m15.1 0h2.4m37.6 0h2.4m15.1 0h2.4m130.1 0h2.4m47.6 0h4.9m35.1 0h2.4m42.6 0h4.9m5.1 0h4.9m165.1 0h2.4m62.6 0h2.4m60.1 0h2.4m70.1 0h2.4m2.6 0h2.4m17.6 0h2.4M30 92.7h2.4m165.1 0h2.4m612.6 0h2.4m22.6 0h2.4M32.5 93.8h2.4m2.6 0h2.4m50.1 0h2.4m40.1 0h2.4m197.6 0h2.4m17.6 0h2.4m172.6 0h2.4m110.1 0h2.4m172.6 0h2.4m12.6 0h2.4m27.6 0h7.4m15.1 0h4.9m5.1 0h2.4m5.1 0h2.4m50.1 0h2.4m322.6 0h2.4m87.6 0h2.4M67.5 94.9h2.4m27.6 0h2.4m35.1 0h2.4m7.6 0h2.4m2.6 0h2.4m5.1 0h9.9m7.6 0h4.9m7.6 0h2.4m12.6 0h2.4m20.1 0h2.4m7.6 0h4.9m2.6 0h2.4m55.1 0h2.4m35.1 0h2.4m2.6 0h2.4m117.6 0h2.4m37.6 0h2.4m87.6 0h2.4m45.1 0h2.4m32.6 0h2.4m180.1 0h2.4m35.1 0h4.9m5.1 0h2.4m2.6 0h2.4m17.6 0h2.4m2.6 0h2.4m10.1 0h2.4m35.1 0h2.4m42.6 0h2.4m15.1 0h2.4m37.6 0h2.4m37.6 0h2.4m7.6 0h2.4m110.1 0h4.9m62.6 0h2.4m75.1 0h2.4M2.5 96h2.4m105.1 0h7.4m130.1 0h2.4m115.1 0h2.4m395.1 0h2.4m227.6 0h2.4m12.6 0h2.4m37.6 0h2.4m22.6 0h2.4m5.1 0h2.4m32.6 0h4.9m22.6 0h2.4m37.6 0h2.4m180.1 0h2.4M22.5 97h2.4m2.6 0h2.4m22.6 0h4.9m7.6 0h2.4m30.1 0h2.4m22.6 0h2.4m5.1 0h2.4m30.1 0h4.9m2.6 0h2.4m20.1 0h2.4m20.1 0h4.9m12.6 0h4.9m17.6 0h2.4m12.6 0h2.4m45.1 0h4.9m7.6 0h2.4m47.6 0h4.9m5.1 0h7.4m10.1 0h7.4m30.1 0h2.4m10.1 0h2.4m15.1 0h4.9m5.1 0h2.4m10.1 0h2.4m12.6 0h2.4m20.1 0h2.4m17.6 0h4.9m7.6 0h2.4m40.1 0h2.4m2.6 0h4.9m10.1 0h4.9m12.6 0h2.4m12.6 0h2.4m7.6 0h2.4m22.6 0h2.4m25.1 0h2.4m15.1 0h2.4m7.6 0h2.4m25.1 0h2.4m7.6 0h2.4m12.6 0h2.4m15.1 0h2.4m10.1 0h4.9m42.6 0h2.4m20.1 0h2.4m15.1 0h4.9m5.1 0h4.9m2.6 0h2.4m2.6 0h2.4m15.1 0h7.4m27.6 0h2.4m7.6 0h4.9m7.6 0h2.4m5.1 0h2.4m20.1 0h2.4m5.1 0h4.9m10.1 0h2.4m25.1 0h2.4m27.6 0h2.4m2.6 0h2.4m40.1 0h4.9m12.6 0h2.4m5.1 0h7.4m5.1 0h2.4m2.6 0h2.4m5.1 0h2.4m5.1 0h2.4m10.1 0h2.4m7.6 0h2.4m5.1 0h4.9m5.1 0h4.9m27.6 0h2.4m2.6 0h2.4m7.6 0h7.4m2.6 0h2.4m2.6 0h2.4m5.1 0h4.9m2.6 0h2.4m22.6 0h2.4m2.6 0h4.9m12.6 0h2.4m2.6 0h2.4m2.6 0h2.4M17.5 98.1h2.4m145.1 0h4.9m32.6 0h2.4m60.1 0h2.4m35.1 0h2.4m5.1 0h2.4m32.6 0h2.4m15.1 0h2.4m385.1 0h2.4m12.6 0h2.4m45.1 0h2.4m5.1 0h2.4m42.6 0h2.4m55.1 0h2.4m45.1 0h2.4m32.6 0h2.4m15.1 0h2.4m30.1 0h2.4m15.1 0h7.4m45.1 0h2.4m5.1 0h2.4m7.6 0h2.4m50.1 0h2.4m127.6 0h2.4M350 99.2h2.4m382.6 0h2.4m65.1 0h2.4m130.1 0h2.4m257.6 0h2.4m50.1 0h2.4m20.1 0h2.4m110.1 0h2.4M210 100.3h2.4m42.6 0h2.4m17.6 0h4.9m35.1 0h2.4m837.6 0h4.9m167.6 0h2.4M145 101.3h2.4m7.6 0h2.4m47.6 0h2.4m42.6 0h2.4m107.6 0h2.4m160.1 0h2.4m5.1 0h2.4m7.6 0h4.9m357.6 0h2.4m160.1 0h2.4m22.6 0h2.4m202.6 0h2.4M75 102.4h4.9m97.6 0h2.4m2.6 0h2.4m37.6 0h2.4m172.6 0h4.9m15.1 0h2.4m302.6 0h2.4m52.6 0h2.4m42.6 0h2.4m22.6 0h2.4m32.6 0h2.4m495.1 0h2.4M192.5 103.5h2.4m170.1 0h2.4m457.6 0h2.4m7.6 0h2.4m17.6 0h2.4m180.1 0h2.4m5.1 0h4.9m62.6 0h2.4m132.6 0h2.4m52.6 0h2.4m10.1 0h2.4m20.1 0h2.4m17.6 0h2.4M142.5 104.6h2.4m97.6 0h2.4m20.1 0h2.4m2.6 0h2.4m20.1 0h2.4m22.6 0h2.4m80.1 0h2.4m52.6 0h2.4m37.6 0h2.4m227.6 0h2.4m187.6 0h2.4m20.1 0h2.4m17.6 0h2.4m42.6 0h4.9m37.6 0h2.4m17.6 0h2.4m42.6 0h2.4m85.1 0h2.4m25.1 0h2.4M35 105.7h4.9m5.1 0h2.4m27.6 0h2.4m5.1 0h2.4m25.1 0h2.4m5.1 0h2.4m52.6 0h2.4m100.1 0h2.4m20.1 0h4.9m42.6 0h2.4m37.6 0h2.4m2.6 0h2.4m42.6 0h4.9m37.6 0h2.4m5.1 0h4.9m25.1 0h2.4m2.6 0h2.4m17.6 0h2.4m17.6 0h2.4m5.1 0h2.4m10.1 0h2.4m17.6 0h2.4m95.1 0h2.4m40.1 0h4.9m37.6 0h2.4m60.1 0h2.4m7.6 0h2.4m10.1 0h2.4m27.6 0h2.4m90.1 0h2.4m17.6 0h2.4m50.1 0h2.4m42.6 0h2.4m7.6 0h4.9m22.6 0h2.4m12.6 0h7.4m12.6 0h2.4m125.1 0h2.4m15.1 0h2.4m15.1 0h2.4m5.1 0h4.9m12.6 0h2.4m2.6 0h2.4m2.6 0h2.4m5.1 0h2.4M995 106.7h2.4m50.1 0h2.4m70.1 0h2.4m62.6 0h2.4M55 107.8h2.4m62.6 0h2.4m17.6 0h2.4m22.6 0h2.4m35.1 0h2.4m2.6 0h2.4m5.1 0h2.4m17.6 0h2.4m2.6 0h4.9m95.1 0h2.4m2.6 0h2.4m7.6 0h2.4m132.6 0h7.4m67.6 0h2.4m20.1 0h2.4m297.6 0h4.9m2.6 0h2.4m80.1 0h2.4m47.6 0h4.9m62.6 0h2.4m47.6 0h4.9m130.1 0h2.4m62.6 0h2.4M390 108.9h2.4m90.1 0h2.4m217.6 0h2.4m75.1 0h2.4m107.6 0h2.4m85.1 0h2.4m410.1 0h2.4M585 110h2.4m482.6 0h2.4m77.6 0h2.4m130.1 0h2.4M22.5 111.1h2.4m707.6 0h2.4m47.6 0h2.4m442.6 0h2.4M350 112.1h2.4m607.6 0h2.4m115.1 0h4.9M12.5 113.2h2.4m15.1 0h2.4m102.6 0h2.4m50.1 0h4.9m15.1 0h2.4m5.1 0h2.4m90.1 0h2.4m77.6 0h2.4m102.6 0h2.4m7.6 0h2.4m42.6 0h2.4m5.1 0h2.4m42.6 0h2.4m85.1 0h2.4m90.1 0h2.4m12.6 0h2.4m10.1 0h2.4m65.1 0h2.4m22.6 0h2.4m52.6 0h2.4m102.6 0h2.4m2.6 0h2.4m55.1 0h2.4m2.6 0h2.4m2.6 0h2.4m7.6 0h2.4m17.6 0h4.9m45.1 0h2.4m82.6 0h4.9m12.6 0h2.4m25.1 0h4.9m57.6 0h2.4m7.6 0h2.4M27.5 115.4h2.4m2.6 0h2.4m5.1 0h2.4m12.6 0h2.4m65.1 0h4.9m35.1 0h2.4m25.1 0h2.4m2.6 0h4.9m132.6 0h2.4m5.1 0h2.4m17.6 0h2.4m7.6 0h2.4m12.6 0h2.4m10.1 0h2.4m17.6 0h2.4m15.1 0h4.9m15.1 0h2.4m22.6 0h4.9m12.6 0h2.4m2.6 0h2.4m72.6 0h7.4m7.6 0h2.4m215.1 0h2.4m17.6 0h2.4m65.1 0h2.4m15.1 0h2.4m7.6 0h2.4m20.1 0h4.9m35.1 0h2.4m42.6 0h2.4m60.1 0h2.4m20.1 0h2.4m50.1 0h2.4m5.1 0h2.4m62.6 0h2.4m52.6 0h2.4m105.1 0h4.9M240 116.4h2.4m2.6 0h2.4m12.6 0h2.4m447.6 0h2.4m365.1 0h2.4M145 117.5h2.4m7.6 0h2.4m35.1 0h2.4m65.1 0h2.4m75.1 0h2.4m12.6 0h2.4m47.6 0h2.4m115.1 0h2.4m97.6 0h2.4m35.1 0h2.4m92.6 0h2.4m147.6 0h2.4m112.6 0h2.4m10.1 0h2.4m20.1 0h2.4m12.6 0h9.9m57.6 0h4.9m17.6 0h12.4m40.1 0h2.4m60.1 0h2.4m27.6 0h2.4m110.1 0h2.4M20 118.6h2.4m7.6 0h2.4m57.6 0h2.4m27.6 0h2.4m2.6 0h2.4m2.6 0h2.4m12.6 0h2.4m27.6 0h2.4m5.1 0h2.4m5.1 0h2.4m17.6 0h2.4m30.1 0h2.4m32.6 0h2.4m5.1 0h4.9m15.1 0h2.4m32.6 0h2.4m25.1 0h2.4m62.6 0h4.9m70.1 0h4.9m30.1 0h2.4m122.6 0h2.4m102.6 0h2.4m52.6 0h2.4m2.6 0h4.9m5.1 0h7.4m7.6 0h2.4m20.1 0h2.4m15.1 0h2.4m15.1 0h2.4m85.1 0h2.4m17.6 0h2.4m2.6 0h2.4m35.1 0h4.9m52.6 0h2.4m10.1 0h2.4m10.1 0h2.4m52.6 0h2.4m115.1 0h2.4m15.1 0h4.9m25.1 0h2.4M195 119.7h2.4m20.1 0h2.4M112.5 120.8h2.4m42.6 0h2.4m70.1 0h4.9m20.1 0h2.4m10.1 0h4.9m210.1 0h2.4m92.6 0h4.9m65.1 0h2.4m175.1 0h2.4m60.1 0h2.4m5.1 0h2.4m225.1 0h2.4m25.1 0h2.4M157.5 121.8h2.4m145.1 0h2.4m395.1 0h2.4m125.1 0h2.4m157.6 0h2.4M302.5 122.9h2.4m392.6 0h2.4m197.6 0h4.9M47.5 124h2.4m5.1 0h2.4m42.6 0h2.4m57.6 0h4.9m5.1 0h4.9m5.1 0h4.9m32.6 0h2.4m17.6 0h2.4m25.1 0h2.4m5.1 0h2.4m30.1 0h2.4m25.1 0h2.4m32.6 0h2.4m62.6 0h2.4m77.6 0h2.4m5.1 0h2.4m120.1 0h2.4m62.6 0h2.4m47.6 0h2.4m12.6 0h4.9m15.1 0h2.4m55.1 0h2.4m2.6 0h2.4m27.6 0h2.4m17.6 0h2.4m5.1 0h4.9m17.6 0h4.9m5.1 0h2.4m10.1 0h2.4m7.6 0h4.9m50.1 0h2.4m110.1 0h2.4m62.6 0h4.9m22.6 0h2.4m25.1 0h2.4m117.6 0h4.9m27.6 0h2.4M882.5 125.1h4.9M15 126.1h2.4m55.1 0h2.4m25.1 0h2.4m67.6 0h2.4m17.6 0h2.4m37.6 0h4.9m20.1 0h2.4m30.1 0h2.4m15.1 0h2.4m10.1 0h2.4m17.6 0h2.4m30.1 0h2.4m17.6 0h2.4m7.6 0h2.4m10.1 0h2.4m22.6 0h2.4m10.1 0h2.4m37.6 0h2.4m62.6 0h4.9m52.6 0h2.4m12.6 0h2.4m47.6 0h2.4m17.6 0h2.4m27.6 0h2.4m42.6 0h2.4m82.6 0h2.4m12.6 0h2.4m70.1 0h2.4m20.1 0h2.4m20.1 0h4.9m10.1 0h2.4m7.6 0h2.4m32.6 0h2.4m30.1 0h2.4m35.1 0h2.4m95.1 0h2.4m17.6 0h2.4m7.6 0h2.4M155 127.2h2.4m305.1 0h2.4M115 128.3h2.4m52.6 0h2.4m15.1 0h2.4m27.6 0h2.4m12.6 0h2.4m67.6 0h2.4m287.6 0h2.4m125.1 0h2.4m47.6 0h2.4m57.6 0h2.4m67.6 0h2.4m22.6 0h2.4m20.1 0h2.4m2.6 0h2.4m12.6 0h2.4m7.6 0h2.4m7.6 0h2.4m27.6 0h2.4m22.6 0h2.4m110.1 0h2.4m47.6 0h2.4m12.6 0h4.9m97.6 0h2.4M5 129.4h2.4m65.1 0h2.4m300.1 0h2.4m265.1 0h4.9m362.6 0h2.4m27.6 0h7.4m15.1 0h2.4m140.1 0h2.4m7.6 0h2.4M242.5 130.5h4.9m142.6 0h2.4m142.6 0h2.4m7.6 0h2.4m227.6 0h2.4m77.6 0h2.4m10.1 0h2.4m30.1 0h2.4m150.1 0h4.9m12.6 0h2.4m37.6 0h2.4m37.6 0h4.9m42.6 0h2.4M117.5 131.5h2.4m402.6 0h2.4M27.5 133.7h2.4m55.1 0h2.4m17.6 0h2.4m32.6 0h2.4m25.1 0h2.4m247.6 0h2.4m102.6 0h2.4m12.6 0h2.4m152.6 0h2.4m95.1 0h4.9m195.1 0h2.4m2.6 0h2.4m40.1 0h2.4m17.6 0h2.4m60.1 0h2.4m35.1 0h2.4m42.6 0h2.4m7.6 0h4.9m7.6 0h2.4m27.6 0h2.4M495 134.8h2.4m387.6 0h2.4M130 135.9h2.4m72.6 0h4.9m532.6 0h2.4m155.1 0h2.4m32.6 0h2.4m107.6 0h2.4m140.1 0h2.4m2.6 0h2.4M47.5 136.9h2.4m27.6 0h2.4m2.6 0h2.4m20.1 0h2.4m70.1 0h4.9m2.6 0h4.9m5.1 0h2.4m30.1 0h2.4m5.1 0h2.4m15.1 0h2.4m7.6 0h4.9m5.1 0h4.9m17.6 0h2.4m2.6 0h4.9m22.6 0h2.4m10.1 0h2.4m2.6 0h2.4m17.6 0h2.4m25.1 0h2.4m27.6 0h2.4m2.6 0h2.4m7.6 0h4.9m125.1 0h2.4m47.6 0h2.4m12.6 0h2.4m10.1 0h2.4m2.6 0h2.4m2.6 0h2.4m2.6 0h2.4m40.1 0h2.4m40.1 0h2.4m50.1 0h2.4m117.6 0h2.4m17.6 0h2.4m2.6 0h2.4m7.6 0h4.9m10.1 0h2.4m2.6 0h2.4m2.6 0h4.9m2.6 0h2.4m20.1 0h2.4m12.6 0h2.4m10.1 0h2.4m5.1 0h7.4m15.1 0h4.9m20.1 0h2.4m22.6 0h2.4m10.1 0h2.4m10.1 0h2.4m10.1 0h2.4m10.1 0h2.4m47.6 0h2.4m12.6 0h2.4m55.1 0h4.9m5.1 0h2.4m7.6 0h2.4m30.1 0h2.4m5.1 0h7.4m2.6 0h9.9m2.6 0h2.4M10 138h2.4m35.1 0h4.9m67.6 0h2.4m10.1 0h2.4m15.1 0h9.9m7.6 0h2.4m12.6 0h2.4m7.6 0h2.4m5.1 0h4.9m7.6 0h2.4m62.6 0h4.9m10.1 0h2.4m5.1 0h2.4m12.6 0h2.4m70.1 0h2.4m7.6 0h2.4m62.6 0h2.4m15.1 0h2.4m45.1 0h2.4m107.6 0h2.4m27.6 0h2.4m5.1 0h2.4m2.6 0h7.4m2.6 0h2.4m7.6 0h4.9m20.1 0h2.4m20.1 0h4.9m27.6 0h2.4m12.6 0h2.4m2.6 0h4.9m12.6 0h2.4m2.6 0h2.4m20.1 0h4.9m17.6 0h2.4m15.1 0h2.4m12.6 0h2.4m12.6 0h4.9m5.1 0h2.4m10.1 0h2.4m5.1 0h2.4m47.6 0h2.4m2.6 0h2.4m10.1 0h2.4m2.6 0h2.4m5.1 0h2.4m5.1 0h7.4m12.6 0h2.4m17.6 0h14.9m7.6 0h2.4m22.6 0h2.4m25.1 0h2.4m2.6 0h2.4m2.6 0h2.4m7.6 0h2.4m15.1 0h4.9m27.6 0h2.4m2.6 0h2.4m55.1 0h4.9m7.6 0h2.4m7.6 0h4.9m12.6 0h4.9m30.1 0h4.9m7.6 0h7.4m17.6 0h4.9m2.6 0h2.4M0 139.1h2.4m975.1 0h2.4M265 140.2h2.4m740.1 0h2.4m2.6 0h2.4m77.6 0h4.9M10 141.2h2.4m7.6 0h9.9m10.1 0h2.4m2.6 0h4.9m37.6 0h2.4m30.1 0h7.4m15.1 0h2.4m2.6 0h2.4m10.1 0h2.4m15.1 0h2.4m2.6 0h7.4m7.6 0h2.4m7.6 0h2.4m5.1 0h2.4m52.6 0h2.4m30.1 0h4.9m7.6 0h2.4m85.1 0h2.4m17.6 0h2.4m5.1 0h2.4m50.1 0h4.9m45.1 0h2.4m17.6 0h2.4m7.6 0h2.4m10.1 0h4.9m20.1 0h2.4m40.1 0h4.9m5.1 0h2.4m10.1 0h2.4m10.1 0h2.4m30.1 0h2.4m2.6 0h4.9m35.1 0h2.4m22.6 0h2.4m7.6 0h2.4m20.1 0h2.4m2.6 0h9.9m12.6 0h2.4m20.1 0h2.4m12.6 0h4.9m7.6 0h2.4m7.6 0h2.4m2.6 0h2.4m27.6 0h2.4m5.1 0h2.4m5.1 0h7.4m20.1 0h2.4m7.6 0h2.4m10.1 0h2.4m20.1 0h4.9m12.6 0h2.4m5.1 0h2.4m37.6 0h2.4m10.1 0h2.4m12.6 0h2.4m40.1 0h4.9m27.6 0h2.4m5.1 0h4.9m40.1 0h2.4m12.6 0h2.4m75.1 0h2.4m12.6 0h2.4m2.6 0h2.4m2.6 0h2.4m12.6 0h2.4m12.6 0h4.9M140 142.3h2.4m32.6 0h2.4m220.1 0h2.4m5.1 0h2.4m2.6 0h2.4m7.6 0h4.9m47.6 0h2.4m22.6 0h2.4m10.1 0h2.4m65.1 0h2.4m117.6 0h2.4m130.1 0h2.4m12.6 0h2.4m50.1 0h2.4m37.6 0h2.4m337.6 0h4.9m37.6 0h2.4m22.6 0h7.4M20 143.4h2.4m100.1 0h2.4m2.6 0h2.4m1132.6 0h2.4M222.5 144.5h2.4m252.6 0h2.4m375.1 0h2.4M442.5 145.6h4.9m80.1 0h2.4m120.1 0h2.4m470.1 0h4.9M327.5 146.6h2.4m210.1 0h2.4m605.1 0h2.4M87.5 147.7h2.4m7.6 0h2.4m10.1 0h4.9m5.1 0h4.9m10.1 0h4.9m12.6 0h2.4m5.1 0h4.9m2.6 0h2.4m12.6 0h2.4m7.6 0h4.9m17.6 0h2.4m5.1 0h2.4m2.6 0h2.4m40.1 0h9.9m15.1 0h2.4m15.1 0h2.4m10.1 0h4.9m15.1 0h4.9m2.6 0h2.4m7.6 0h9.9m12.6 0h2.4m50.1 0h2.4m35.1 0h7.4m40.1 0h2.4m20.1 0h2.4m25.1 0h2.4m127.6 0h7.4m25.1 0h7.4m2.6 0h7.4m25.1 0h7.4m17.6 0h2.4m22.6 0h2.4m15.1 0h2.4m2.6 0h2.4m12.6 0h12.4m10.1 0h2.4m2.6 0h2.4m22.6 0h2.4m17.6 0h2.4m12.6 0h2.4m2.6 0h2.4m7.6 0h2.4m2.6 0h2.4m5.1 0h9.9m2.6 0h2.4m5.1 0h2.4m2.6 0h2.4m5.1 0h4.9m7.6 0h12.4m35.1 0h4.9m5.1 0h9.9m22.6 0h2.4m12.6 0h4.9m5.1 0h2.4m7.6 0h2.4m7.6 0h7.4m12.6 0h4.9m10.1 0h2.4m20.1 0h2.4m45.1 0h4.9m135.1 0h4.9m5.1 0h2.4M55 148.8h2.4m217.6 0h2.4m202.6 0h2.4m187.6 0h2.4m120.1 0h2.4m287.6 0h2.4m185.1 0h2.4M17.5 149.9h2.4m207.6 0h2.4m15.1 0h2.4m615.1 0h4.9M37.5 150.9h2.4m17.6 0h2.4m15.1 0h2.4m207.6 0h2.4m22.6 0h2.4m160.1 0h2.4m32.6 0h4.9m107.6 0h2.4m122.6 0h2.4m60.1 0h4.9m42.6 0h2.4m15.1 0h2.4m15.1 0h2.4m27.6 0h2.4m117.6 0h2.4m280.1 0h2.4m62.6 0h2.4M10 152h2.4m160.1 0h2.4m7.6 0h2.4m450.1 0h2.4m307.6 0h2.4m235.1 0h2.4M22.5 153.1h2.4m30.1 0h2.4m22.6 0h2.4m72.6 0h2.4m25.1 0h4.9m15.1 0h2.4m12.6 0h4.9m7.6 0h2.4m7.6 0h2.4m42.6 0h2.4m32.6 0h2.4m90.1 0h2.4m55.1 0h2.4m2.6 0h2.4m10.1 0h2.4m50.1 0h2.4m50.1 0h2.4m77.6 0h2.4m52.6 0h4.9m7.6 0h2.4m12.6 0h2.4m75.1 0h4.9m2.6 0h2.4m12.6 0h2.4m2.6 0h4.9m2.6 0h4.9m60.1 0h4.9m232.6 0h7.4m102.6 0h2.4m87.6 0h2.4M760 154.2h2.4m395.1 0h2.4M1120 155.3h2.4M455 156.3h2.4m162.6 0h2.4m50.1 0h2.4m240.1 0h2.4m2.6 0h2.4m130.1 0h2.4m22.6 0h2.4m35.1 0h4.9m162.6 0h2.4m75.1 0h2.4M180 157.4h2.4m67.6 0h2.4m652.6 0h2.4m95.1 0h4.9m267.6 0h4.9m62.6 0h2.4m5.1 0h2.4M22.5 158.5h2.4m170.1 0h2.4m2.6 0h2.4m45.1 0h4.9m12.6 0h2.4m95.1 0h4.9m65.1 0h2.4m142.6 0h2.4m10.1 0h2.4m67.6 0h2.4m42.6 0h2.4m42.6 0h2.4m32.6 0h2.4m5.1 0h2.4m37.6 0h2.4m40.1 0h2.4m75.1 0h2.4m27.6 0h2.4m55.1 0h2.4m127.6 0h2.4M145 159.6h2.4m130.1 0h2.4m132.6 0h4.9m472.6 0h4.9m22.6 0h2.4m5.1 0h2.4m215.1 0h2.4m157.6 0h2.4m67.6 0h2.4M5 160.6h2.4m2.6 0h2.4m5.1 0h2.4m15.1 0h2.4m17.6 0h2.4m17.6 0h2.4m30.1 0h2.4m27.6 0h2.4m5.1 0h2.4m37.6 0h2.4m10.1 0h4.9m5.1 0h2.4m15.1 0h2.4m10.1 0h2.4m2.6 0h2.4m40.1 0h2.4m7.6 0h2.4m10.1 0h2.4m5.1 0h2.4m17.6 0h2.4m67.6 0h2.4m22.6 0h2.4m10.1 0h2.4m27.6 0h2.4m45.1 0h4.9m2.6 0h2.4m27.6 0h2.4m5.1 0h2.4m55.1 0h2.4m2.6 0h2.4m35.1 0h4.9m12.6 0h2.4m5.1 0h2.4m27.6 0h2.4m27.6 0h2.4m5.1 0h2.4m20.1 0h2.4m20.1 0h2.4m5.1 0h2.4m7.6 0h2.4m5.1 0h2.4m17.6 0h2.4m17.6 0h2.4m5.1 0h2.4m5.1 0h4.9m25.1 0h2.4m7.6 0h2.4m25.1 0h2.4m5.1 0h4.9m17.6 0h2.4m20.1 0h2.4m22.6 0h2.4m10.1 0h2.4m37.6 0h4.9m5.1 0h4.9m2.6 0h2.4m2.6 0h2.4m20.1 0h2.4m62.6 0h4.9m5.1 0h2.4m12.6 0h2.4m7.6 0h2.4m17.6 0h2.4m30.1 0h2.4m17.6 0h4.9m42.6 0h2.4m5.1 0h4.9m2.6 0h2.4m2.6 0h2.4m15.1 0h2.4M70 161.7h2.4m147.6 0h4.9m2.6 0h2.4m50.1 0h2.4m20.1 0h2.4m10.1 0h2.4m15.1 0h2.4m10.1 0h2.4m67.6 0h2.4m22.6 0h4.9m60.1 0h2.4m2.6 0h2.4m20.1 0h2.4m75.1 0h2.4m185.1 0h2.4m10.1 0h2.4m2.6 0h2.4m52.6 0h2.4m57.6 0h2.4m50.1 0h2.4m10.1 0h2.4m15.1 0h4.9m37.6 0h4.9m70.1 0h2.4m5.1 0h2.4m17.6 0h2.4m2.6 0h2.4m35.1 0h2.4m25.1 0h4.9m45.1 0h2.4m12.6 0h4.9M17.5 162.8h2.4m1010.1 0h2.4m85.1 0h2.4M557.5 163.9h2.4m70.1 0h2.4m137.6 0h2.4m55.1 0h2.4m65.1 0h2.4M52.5 165h2.4m10.1 0h2.4m7.6 0h2.4m62.6 0h4.9m120.1 0h2.4m10.1 0h2.4m22.6 0h2.4m20.1 0h2.4m57.6 0h2.4m12.6 0h2.4m2.6 0h2.4m60.1 0h12.4m10.1 0h2.4m12.6 0h2.4m82.6 0h2.4m155.1 0h2.4m32.6 0h2.4m40.1 0h2.4m12.6 0h2.4m7.6 0h2.4m32.6 0h2.4m2.6 0h4.9m102.6 0h2.4m65.1 0h2.4m45.1 0h4.9m67.6 0h2.4m2.6 0h2.4m192.6 0h2.4M405 166h2.4m20.1 0h2.4m380.1 0h2.4m72.6 0h2.4m35.1 0h2.4m272.6 0h4.9m40.1 0h2.4M182.5 167.1h2.4m432.6 0h2.4m80.1 0h2.4m117.6 0h2.4m115.1 0h2.4m257.6 0h2.4m20.1 0h2.4m22.6 0h2.4M10 168.2h2.4m37.6 0h2.4m10.1 0h9.9m2.6 0h2.4m22.6 0h2.4m7.6 0h2.4m12.6 0h2.4m15.1 0h2.4m2.6 0h2.4m75.1 0h2.4m2.6 0h2.4m32.6 0h2.4m15.1 0h2.4m7.6 0h2.4m137.6 0h2.4m7.6 0h4.9m40.1 0h2.4m30.1 0h2.4m22.6 0h2.4m12.6 0h2.4m7.6 0h2.4m12.6 0h2.4m75.1 0h4.9m70.1 0h2.4m17.6 0h2.4m40.1 0h7.4m5.1 0h4.9m25.1 0h2.4m7.6 0h4.9m32.6 0h2.4m17.6 0h2.4m2.6 0h2.4m35.1 0h2.4m2.6 0h2.4m57.6 0h2.4m5.1 0h2.4m22.6 0h2.4m22.6 0h2.4m10.1 0h2.4m12.6 0h2.4m47.6 0h7.4m32.6 0h2.4M67.5 169.3h2.4m45.1 0h4.9m75.1 0h2.4m107.6 0h2.4m30.1 0h2.4m92.6 0h2.4m337.6 0h2.4m77.6 0h2.4m50.1 0h4.9M182.5 170.4h2.4m60.1 0h4.9m62.6 0h2.4m57.6 0h2.4m27.6 0h2.4m217.6 0h2.4m15.1 0h2.4m167.6 0h2.4m170.1 0h4.9m65.1 0h2.4m50.1 0h2.4m47.6 0h2.4m135.1 0h2.4m7.6 0h2.4M610 171.4h2.4m317.6 0h2.4M52.5 172.5h2.4m32.6 0h4.9m67.6 0h2.4m55.1 0h2.4m2.6 0h2.4m5.1 0h2.4m35.1 0h2.4m12.6 0h2.4m5.1 0h2.4m17.6 0h2.4m72.6 0h2.4m65.1 0h2.4m5.1 0h2.4m2.6 0h2.4m12.6 0h2.4m7.6 0h2.4m247.6 0h2.4m7.6 0h2.4m5.1 0h2.4m22.6 0h2.4m5.1 0h4.9m17.6 0h2.4m2.6 0h2.4m5.1 0h2.4m2.6 0h2.4m17.6 0h2.4m10.1 0h2.4m25.1 0h4.9m12.6 0h2.4m7.6 0h2.4m42.6 0h2.4m10.1 0h4.9m2.6 0h2.4m47.6 0h2.4m10.1 0h2.4m7.6 0h2.4m2.6 0h2.4m7.6 0h4.9m37.6 0h2.4m37.6 0h2.4m10.1 0h2.4m15.1 0h2.4m30.1 0h2.4m37.6 0h2.4m10.1 0h2.4m5.1 0h2.4m62.6 0h4.9m7.6 0h2.4m55.1 0h2.4M120 173.6h4.9m312.6 0h2.4m25.1 0h2.4m342.6 0h2.4m375.1 0h2.4m122.6 0h7.4M217.5 174.7h2.4m50.1 0h2.4m70.1 0h2.4m235.1 0h2.4m220.1 0h2.4m125.1 0h2.4M120 175.7h2.4m392.6 0h4.9M250 176.8h2.4m77.6 0h2.4m602.6 0h4.9m142.6 0h2.4m82.6 0h2.4M287.5 177.9h2.4m52.6 0h4.9m12.6 0h2.4m387.6 0h2.4m30.1 0h2.4m362.6 0h2.4m125.1 0h2.4M0 179h2.4m5.1 0h2.4m2.6 0h2.4m22.6 0h2.4m10.1 0h2.4m2.6 0h2.4m42.6 0h2.4m35.1 0h2.4m17.6 0h2.4m10.1 0h2.4m5.1 0h2.4m7.6 0h2.4m12.6 0h2.4m12.6 0h4.9m5.1 0h2.4m20.1 0h2.4m50.1 0h2.4m47.6 0h2.4m12.6 0h2.4m42.6 0h2.4m2.6 0h2.4m10.1 0h2.4m10.1 0h2.4m27.6 0h2.4m62.6 0h2.4m120.1 0h2.4m100.1 0h2.4m140.1 0h2.4m7.6 0h2.4m37.6 0h2.4m45.1 0h4.9m12.6 0h4.9m2.6 0h2.4m20.1 0h2.4m147.6 0h2.4m145.1 0h2.4M82.5 181.1h2.4m45.1 0h2.4m5.1 0h2.4m47.6 0h4.9m10.1 0h2.4m17.6 0h2.4m2.6 0h2.4m5.1 0h2.4m2.6 0h2.4m32.6 0h4.9m95.1 0h2.4m45.1 0h2.4m2.6 0h2.4m15.1 0h2.4m80.1 0h2.4m150.1 0h2.4m10.1 0h2.4m85.1 0h2.4m52.6 0h2.4m2.6 0h2.4m5.1 0h2.4m12.6 0h2.4m7.6 0h2.4m15.1 0h9.9m5.1 0h4.9m22.6 0h2.4m52.6 0h4.9m27.6 0h2.4m47.6 0h4.9m25.1 0h4.9m20.1 0h4.9m15.1 0h2.4m37.6 0h2.4m92.6 0h2.4m7.6 0h2.4M42.5 182.2h2.4m2.6 0h2.4m12.6 0h2.4m5.1 0h2.4m20.1 0h2.4m27.6 0h2.4m82.6 0h2.4m110.1 0h2.4m145.1 0h4.9m235.1 0h2.4m5.1 0h2.4m37.6 0h2.4m55.1 0h4.9m225.1 0h2.4m67.6 0h2.4m185.1 0h2.4m10.1 0h2.4m52.6 0h2.4m32.6 0h2.4M162.5 183.3h2.4m42.6 0h4.9m17.6 0h4.9m25.1 0h2.4m77.6 0h2.4m105.1 0h2.4m10.1 0h2.4m107.6 0h2.4m27.6 0h2.4m220.1 0h2.4m10.1 0h2.4m5.1 0h2.4m12.6 0h2.4m15.1 0h4.9m2.6 0h2.4m5.1 0h4.9m2.6 0h2.4m45.1 0h2.4m2.6 0h2.4m97.6 0h2.4m15.1 0h2.4M135 184.4h2.4m152.6 0h2.4m27.6 0h2.4m15.1 0h2.4m67.6 0h2.4m57.6 0h2.4m52.6 0h7.4m42.6 0h2.4m210.1 0h2.4m7.6 0h2.4m10.1 0h7.4m32.6 0h4.9m160.1 0h2.4m7.6 0h2.4m40.1 0h2.4m325.1 0h2.4M60 185.4h2.4m10.1 0h2.4m107.6 0h4.9m77.6 0h2.4m117.6 0h2.4m92.6 0h4.9m55.1 0h2.4m15.1 0h2.4m25.1 0h2.4m105.1 0h2.4m62.6 0h2.4m77.6 0h2.4m15.1 0h2.4m12.6 0h2.4m30.1 0h2.4m37.6 0h4.9m30.1 0h2.4m5.1 0h4.9m15.1 0h2.4m2.6 0h2.4m25.1 0h2.4m10.1 0h2.4m37.6 0h2.4m42.6 0h4.9M60 186.5h2.4m225.1 0h2.4m32.6 0h2.4m7.6 0h4.9m10.1 0h2.4m187.6 0h2.4m177.6 0h4.9m15.1 0h2.4m90.1 0h2.4m22.6 0h2.4m150.1 0h2.4m227.6 0h2.4m77.6 0h2.4M2.5 187.6h2.4m142.6 0h2.4m95.1 0h2.4m2.6 0h2.4m220.1 0h2.4m250.1 0h2.4m7.6 0h2.4m40.1 0h2.4m117.6 0h2.4m102.6 0h2.4m60.1 0h2.4m5.1 0h2.4m62.6 0h2.4m10.1 0h2.4m100.1 0h2.4m5.1 0h2.4m75.1 0h2.4M30 188.7h2.4m40.1 0h2.4m455.1 0h2.4m262.6 0h4.9m137.6 0h7.4m10.1 0h2.4m65.1 0h2.4m362.6 0h2.4M377.5 189.8h2.4m122.6 0h2.4m247.6 0h2.4m125.1 0h2.4m300.1 0h2.4M460 190.8h2.4m427.6 0h2.4m140.1 0h2.4m100.1 0h2.4M0 191.9h2.4m7.6 0h2.4m45.1 0h2.4m5.1 0h2.4m20.1 0h4.9m7.6 0h2.4m2.6 0h2.4m20.1 0h2.4m15.1 0h2.4m2.6 0h2.4m17.6 0h2.4m15.1 0h4.9m70.1 0h2.4m22.6 0h2.4m20.1 0h2.4m12.6 0h2.4m35.1 0h4.9m120.1 0h2.4m52.6 0h2.4m20.1 0h2.4m52.6 0h2.4m7.6 0h4.9m5.1 0h2.4m25.1 0h2.4m17.6 0h2.4m147.6 0h2.4m17.6 0h2.4m12.6 0h2.4m2.6 0h4.9m7.6 0h2.4m5.1 0h2.4m17.6 0h2.4m17.6 0h2.4m10.1 0h2.4m2.6 0h2.4m15.1 0h2.4m30.1 0h2.4m5.1 0h2.4m22.6 0h2.4m10.1 0h2.4m37.6 0h2.4m5.1 0h2.4m40.1 0h2.4m15.1 0h4.9m77.6 0h2.4m10.1 0h2.4m127.6 0h2.4m5.1 0h2.4m5.1 0h2.4m2.6 0h4.9m2.6 0h2.4M837.5 193h4.9m432.6 0h2.4M237.5 194.1h4.9m352.6 0h4.9m182.6 0h2.4M145 195.2h2.4m152.6 0h2.4m1102.6 0h2.4M60 196.2h2.4m132.6 0h4.9m62.6 0h2.4m55.1 0h2.4M22.5 197.3h2.4m15.1 0h2.4m42.6 0h2.4m2.6 0h2.4m42.6 0h2.4m65.1 0h4.9m2.6 0h2.4m22.6 0h2.4m2.6 0h2.4m10.1 0h4.9m7.6 0h2.4m27.6 0h2.4m30.1 0h2.4m20.1 0h2.4m70.1 0h2.4m2.6 0h2.4m7.6 0h2.4m25.1 0h2.4m25.1 0h2.4m17.6 0h2.4m50.1 0h4.9m15.1 0h2.4m2.6 0h2.4m57.6 0h2.4m17.6 0h2.4m22.6 0h2.4m15.1 0h2.4m67.6 0h2.4m30.1 0h9.9m7.6 0h2.4m22.6 0h2.4m2.6 0h2.4m102.6 0h2.4m12.6 0h4.9m17.6 0h2.4m35.1 0h2.4m5.1 0h2.4m5.1 0h2.4m5.1 0h2.4m10.1 0h2.4m7.6 0h2.4m12.6 0h4.9m22.6 0h2.4m2.6 0h4.9m2.6 0h2.4m12.6 0h7.4m12.6 0h2.4m5.1 0h4.9m15.1 0h2.4m17.6 0h2.4m22.6 0h2.4m20.1 0h2.4m10.1 0h2.4m30.1 0h2.4m2.6 0h2.4m10.1 0h2.4m15.1 0h2.4M0 198.4h2.4m307.6 0h2.4m312.6 0h2.4m207.6 0h2.4m117.6 0h2.4M527.5 199.5h2.4m10.1 0h4.9m450.1 0h2.4m145.1 0h2.4M140 200.5h2.4m742.6 0h2.4m25.1 0h2.4m50.1 0h4.9M660 201.6h2.4m237.6 0h2.4m430.1 0h2.4M137.5 202.7h2.4m417.6 0h2.4m342.6 0h4.9m65.1 0h2.4m55.1 0h4.9m67.6 0h2.4m22.6 0h4.9m15.1 0h2.4M205 203.8h2.4m80.1 0h4.9m355.1 0h2.4m45.1 0h2.4m87.6 0h4.9m190.1 0h2.4m42.6 0h2.4m5.1 0h2.4m112.6 0h4.9M357.5 204.9h4.9m352.6 0h2.4m97.6 0h2.4m57.6 0h2.4m52.6 0h2.4m185.1 0h2.4m25.1 0h2.4m162.6 0h7.4M60 205.9h2.4m30.1 0h4.9m10.1 0h2.4m5.1 0h2.4m2.6 0h2.4m15.1 0h7.4m5.1 0h2.4m5.1 0h2.4m5.1 0h2.4m5.1 0h7.4m5.1 0h2.4m5.1 0h2.4m5.1 0h2.4m2.6 0h2.4m2.6 0h2.4m42.6 0h7.4m7.6 0h4.9m22.6 0h2.4m2.6 0h2.4m10.1 0h7.4m30.1 0h2.4m57.6 0h2.4m20.1 0h4.9m30.1 0h2.4m20.1 0h4.9m12.6 0h4.9m52.6 0h2.4m52.6 0h2.4m55.1 0h2.4m12.6 0h2.4m12.6 0h2.4m2.6 0h2.4m40.1 0h2.4m2.6 0h2.4m27.6 0h2.4m2.6 0h2.4m20.1 0h2.4m12.6 0h2.4m15.1 0h2.4m7.6 0h7.4m17.6 0h2.4m2.6 0h2.4m7.6 0h2.4m2.6 0h4.9m12.6 0h2.4m15.1 0h2.4m10.1 0h4.9m5.1 0h2.4m17.6 0h2.4m7.6 0h4.9m42.6 0h7.4m12.6 0h2.4m2.6 0h9.9m10.1 0h14.9m2.6 0h2.4m15.1 0h2.4m5.1 0h9.9m5.1 0h2.4m2.6 0h2.4m80.1 0h2.4m57.6 0h2.4m50.1 0h4.9m45.1 0h2.4M1055 207h7.4M145 208.1h2.4m375.1 0h2.4M330 209.2h2.4m12.6 0h2.4m832.6 0h2.4M280 210.2h2.4M105 211.3h2.4m10.1 0h4.9m207.6 0h2.4m385.1 0h2.4m302.6 0h2.4m127.6 0h2.4M367.5 212.4h2.4m670.1 0h2.4m137.6 0h2.4M17.5 213.5h2.4m50.1 0h2.4m12.6 0h9.9m5.1 0h2.4m5.1 0h4.9m25.1 0h2.4m5.1 0h4.9m22.6 0h7.4m5.1 0h2.4m10.1 0h2.4m10.1 0h2.4m5.1 0h12.4m17.6 0h4.9m30.1 0h2.4m20.1 0h2.4m10.1 0h7.4m2.6 0h4.9m12.6 0h2.4m52.6 0h2.4m15.1 0h2.4m2.6 0h2.4m5.1 0h2.4m40.1 0h4.9m12.6 0h2.4m20.1 0h2.4m32.6 0h2.4m15.1 0h2.4m2.6 0h2.4m27.6 0h2.4m42.6 0h4.9m2.6 0h2.4m67.6 0h2.4m17.6 0h2.4m10.1 0h2.4m20.1 0h9.9m17.6 0h2.4m7.6 0h2.4m17.6 0h2.4m10.1 0h2.4m15.1 0h4.9m5.1 0h2.4m15.1 0h4.9m2.6 0h2.4m25.1 0h2.4m10.1 0h2.4m7.6 0h7.4m10.1 0h2.4m22.6 0h2.4m2.6 0h2.4m20.1 0h2.4m5.1 0h2.4m10.1 0h2.4m5.1 0h2.4m7.6 0h2.4m7.6 0h2.4m2.6 0h2.4m2.6 0h2.4m5.1 0h4.9m10.1 0h9.9m2.6 0h4.9m12.6 0h2.4m12.6 0h2.4m7.6 0h4.9m12.6 0h2.4m2.6 0h4.9m2.6 0h7.4m55.1 0h4.9m17.6 0h2.4m2.6 0h7.4m5.1 0h2.4m40.1 0h2.4m22.6 0h2.4m20.1 0h2.4M167.5 214.6h2.4m92.6 0h2.4m232.6 0h2.4m192.6 0h4.9m187.6 0h2.4m202.6 0h2.4M62.5 215.6h2.4m80.1 0h2.4m75.1 0h2.4m37.6 0h2.4m760.1 0h2.4m215.1 0h2.4M65 216.7h2.4m2.6 0h2.4m32.6 0h2.4m47.6 0h2.4m47.6 0h2.4m5.1 0h2.4m27.6 0h2.4m15.1 0h7.4m27.6 0h2.4m5.1 0h2.4m5.1 0h2.4m27.6 0h2.4m37.6 0h4.9m217.6 0h2.4m82.6 0h2.4m77.6 0h2.4m62.6 0h2.4m2.6 0h2.4m75.1 0h2.4m7.6 0h2.4m15.1 0h4.9m92.6 0h2.4m17.6 0h2.4m12.6 0h2.4m30.1 0h4.9m7.6 0h4.9m20.1 0h4.9m15.1 0h2.4m12.6 0h2.4m25.1 0h2.4m110.1 0h4.9M212.5 217.8h2.4m102.6 0h2.4m12.6 0h2.4m5.1 0h2.4m262.6 0h2.4m10.1 0h2.4m82.6 0h2.4m32.6 0h2.4m92.6 0h2.4m75.1 0h2.4m75.1 0h4.9m17.6 0h2.4m12.6 0h4.9m62.6 0h2.4m5.1 0h2.4m2.6 0h2.4m97.6 0h2.4m15.1 0h9.9m22.6 0h4.9m30.1 0h2.4m35.1 0h2.4M197.5 218.9h2.4m402.6 0h2.4m125.1 0h2.4m67.6 0h2.4m12.6 0h2.4M295 219.9h2.4m7.6 0h2.4m52.6 0h2.4m392.6 0h4.9m90.1 0h2.4m327.6 0h2.4m2.6 0h4.9M392.5 221h4.9m387.6 0h2.4m305.1 0h4.9M7.5 222.1h2.4m10.1 0h2.4m10.1 0h2.4m7.6 0h4.9m42.6 0h2.4m17.6 0h2.4m17.6 0h2.4m5.1 0h4.9m32.6 0h2.4m7.6 0h2.4m30.1 0h2.4m35.1 0h2.4m5.1 0h2.4m5.1 0h2.4m5.1 0h7.4m15.1 0h2.4m15.1 0h2.4m2.6 0h7.4m7.6 0h2.4m5.1 0h4.9m10.1 0h2.4m5.1 0h2.4m2.6 0h2.4m20.1 0h2.4m22.6 0h2.4m20.1 0h2.4m15.1 0h2.4m2.6 0h2.4m5.1 0h2.4m12.6 0h4.9m5.1 0h2.4m2.6 0h2.4m32.6 0h2.4m10.1 0h2.4m72.6 0h2.4m22.6 0h2.4m62.6 0h2.4m2.6 0h2.4m12.6 0h2.4m7.6 0h2.4m7.6 0h2.4m12.6 0h2.4m42.6 0h2.4m2.6 0h4.9m10.1 0h2.4m7.6 0h2.4m2.6 0h2.4m7.6 0h2.4m2.6 0h2.4m42.6 0h2.4m17.6 0h2.4m5.1 0h2.4m5.1 0h7.4m42.6 0h2.4m30.1 0h4.9m37.6 0h2.4m12.6 0h4.9m20.1 0h2.4m5.1 0h2.4m15.1 0h2.4m5.1 0h2.4m15.1 0h2.4m7.6 0h2.4m2.6 0h4.9m12.6 0h2.4m5.1 0h2.4m27.6 0h2.4m20.1 0h4.9m17.6 0h2.4m10.1 0h2.4m27.6 0h2.4m42.6 0h2.4m35.1 0h2.4M647.5 223.2h2.4m160.1 0h2.4m75.1 0h2.4M160 224.3h2.4m175.1 0h2.4m2.6 0h2.4m190.1 0h2.4m175.1 0h2.4m47.6 0h4.9m572.6 0h2.4M980 225.3h2.4M172.5 226.4h2.4m210.1 0h2.4m490.1 0h2.4m145.1 0h2.4m175.1 0h2.4M70 227.5h2.4m5.1 0h2.4m37.6 0h4.9m17.6 0h9.9m25.1 0h4.9m17.6 0h2.4m7.6 0h2.4m15.1 0h2.4m15.1 0h2.4m2.6 0h2.4m40.1 0h2.4m17.6 0h2.4m105.1 0h2.4m10.1 0h2.4m20.1 0h2.4m45.1 0h2.4m107.6 0h4.9m10.1 0h2.4m75.1 0h2.4m42.6 0h4.9m20.1 0h2.4m20.1 0h2.4m12.6 0h2.4m25.1 0h2.4m25.1 0h4.9m107.6 0h2.4m25.1 0h4.9m20.1 0h2.4m25.1 0h4.9m10.1 0h4.9m42.6 0h2.4m7.6 0h2.4m40.1 0h4.9m7.6 0h2.4m5.1 0h2.4m15.1 0h2.4m37.6 0h2.4m17.6 0h2.4m15.1 0h7.4M97.5 228.6h2.4m10.1 0h2.4m200.1 0h2.4m455.1 0h2.4M372.5 229.7h2.4m465.1 0h2.4M125 230.7h2.4m25.1 0h2.4m27.6 0h2.4m12.6 0h2.4m42.6 0h2.4m22.6 0h2.4m30.1 0h2.4m57.6 0h2.4m145.1 0h2.4m537.6 0h2.4m32.6 0h2.4m35.1 0h2.4m37.6 0h2.4m25.1 0h2.4m85.1 0h2.4m47.6 0h2.4m7.6 0h2.4m2.6 0h2.4M122.5 231.8h2.4m10.1 0h2.4m7.6 0h2.4m167.6 0h4.9m5.1 0h2.4m135.1 0h2.4m90.1 0h2.4m102.6 0h2.4m205.1 0h2.4m10.1 0h2.4m92.6 0h2.4m27.6 0h2.4m47.6 0h2.4m22.6 0h2.4m95.1 0h2.4m20.1 0h2.4m195.1 0h4.9m2.6 0h2.4M45 232.9h2.4m37.6 0h2.4m7.6 0h4.9m10.1 0h2.4m20.1 0h2.4m25.1 0h2.4m32.6 0h4.9m12.6 0h2.4m32.6 0h2.4m30.1 0h2.4m2.6 0h2.4m20.1 0h2.4m60.1 0h2.4m12.6 0h4.9m12.6 0h2.4m20.1 0h4.9m57.6 0h4.9m42.6 0h2.4m2.6 0h4.9m42.6 0h2.4m42.6 0h2.4m25.1 0h2.4m7.6 0h4.9m27.6 0h2.4m37.6 0h4.9m2.6 0h2.4m25.1 0h4.9m20.1 0h2.4m10.1 0h2.4m2.6 0h2.4m25.1 0h4.9m22.6 0h2.4m2.6 0h7.4m12.6 0h2.4m2.6 0h4.9m10.1 0h2.4m5.1 0h2.4m5.1 0h2.4m20.1 0h2.4m55.1 0h2.4m12.6 0h2.4m5.1 0h2.4m7.6 0h2.4m20.1 0h2.4m70.1 0h2.4m2.6 0h2.4m15.1 0h2.4m30.1 0h2.4m5.1 0h4.9m85.1 0h2.4m7.6 0h2.4m15.1 0h2.4m12.6 0h2.4m12.6 0h2.4m7.6 0h2.4M37.5 234h2.4m120.1 0h2.4m377.6 0h2.4m147.6 0h2.4m72.6 0h4.9m32.6 0h2.4m205.1 0h2.4m5.1 0h2.4m47.6 0h2.4m32.6 0h2.4m27.6 0h2.4m227.6 0h2.4M1097.5 235h2.4m272.6 0h2.4M47.5 236.1h2.4m82.6 0h2.4m15.1 0h2.4m55.1 0h2.4m7.6 0h7.4m30.1 0h2.4m27.6 0h2.4m2.6 0h2.4m17.6 0h2.4m15.1 0h2.4m27.6 0h2.4m2.6 0h2.4m2.6 0h2.4m22.6 0h2.4m185.1 0h2.4m47.6 0h2.4m15.1 0h2.4m60.1 0h2.4m70.1 0h2.4m192.6 0h2.4m57.6 0h2.4m15.1 0h2.4m7.6 0h2.4m52.6 0h4.9m27.6 0h2.4m97.6 0h2.4m20.1 0h2.4m102.6 0h2.4M260 237.2h2.4m52.6 0h2.4m490.1 0h2.4m65.1 0h2.4m17.6 0h2.4m2.6 0h4.9m42.6 0h2.4M125 238.3h4.9m710.1 0h2.4m302.6 0h2.4M110 239.4h2.4m42.6 0h2.4m45.1 0h4.9m47.6 0h2.4m232.6 0h2.4m182.6 0h4.9m5.1 0h2.4m17.6 0h2.4m7.6 0h2.4m217.6 0h2.4m37.6 0h2.4m95.1 0h2.4m70.1 0h2.4m7.6 0h2.4m15.1 0h2.4m47.6 0h2.4m60.1 0h2.4M50 240.4h2.4m255.1 0h2.4m15.1 0h7.4m125.1 0h2.4m72.6 0h2.4m215.1 0h2.4m322.6 0h4.9m35.1 0h2.4m205.1 0h2.4M55 241.5h2.4m25.1 0h2.4m12.6 0h2.4m22.6 0h2.4m60.1 0h2.4m32.6 0h2.4m22.6 0h2.4m97.6 0h2.4m255.1 0h2.4m47.6 0h2.4m130.1 0h4.9m20.1 0h2.4m7.6 0h2.4m30.1 0h2.4m42.6 0h2.4m45.1 0h2.4m65.1 0h2.4m90.1 0h2.4m77.6 0h2.4m57.6 0h2.4m5.1 0h2.4m10.1 0h2.4m147.6 0h2.4M102.5 242.6h2.4m77.6 0h2.4m107.6 0h2.4m392.6 0h2.4m417.6 0h2.4m190.1 0h2.4M457.5 243.7h2.4m585.1 0h2.4m117.6 0h2.4m187.6 0h2.4M35 244.7h4.9m25.1 0h4.9m2.6 0h2.4m7.6 0h2.4m25.1 0h2.4m52.6 0h2.4m10.1 0h2.4m17.6 0h2.4m40.1 0h2.4m15.1 0h4.9m110.1 0h2.4m2.6 0h2.4m157.6 0h2.4m100.1 0h2.4m7.6 0h2.4m87.6 0h2.4m15.1 0h2.4m10.1 0h4.9m5.1 0h2.4m37.6 0h4.9m12.6 0h2.4m22.6 0h2.4m45.1 0h4.9m2.6 0h2.4m17.6 0h4.9m10.1 0h7.4m47.6 0h4.9m7.6 0h2.4m15.1 0h2.4m7.6 0h2.4m160.1 0h2.4m2.6 0h4.9m10.1 0h2.4m2.6 0h2.4m35.1 0h4.9m15.1 0h2.4m20.1 0h2.4m30.1 0h4.9m30.1 0h2.4m12.6 0h2.4m5.1 0h2.4M100 245.8h2.4m32.6 0h2.4m57.6 0h2.4m2.6 0h2.4m17.6 0h4.9m12.6 0h2.4m25.1 0h4.9m37.6 0h2.4m10.1 0h4.9m130.1 0h4.9m87.6 0h2.4m10.1 0h2.4m35.1 0h2.4m35.1 0h2.4m2.6 0h4.9m25.1 0h2.4m65.1 0h2.4m5.1 0h2.4m47.6 0h2.4m5.1 0h2.4m47.6 0h2.4m42.6 0h2.4m15.1 0h2.4m35.1 0h2.4m77.6 0h2.4m75.1 0h2.4m15.1 0h2.4m10.1 0h2.4m37.6 0h2.4m30.1 0h4.9m17.6 0h2.4m12.6 0h4.9M127.5 246.9h2.4m27.6 0h2.4m17.6 0h2.4m20.1 0h2.4m85.1 0h2.4m387.6 0h2.4M42.5 248h2.4m65.1 0h2.4m17.6 0h2.4m872.6 0h2.4m42.6 0h2.4m70.1 0h2.4m120.1 0h2.4m100.1 0h2.4m7.6 0h4.9M342.5 249.1h2.4m127.6 0h2.4m382.6 0h2.4m47.6 0h2.4M270 250.1h2.4m92.6 0h2.4m580.1 0h2.4m67.6 0h2.4M187.5 251.2h2.4m112.6 0h2.4m720.1 0h2.4M182.5 252.3h2.4m1132.6 0h2.4M85 253.4h2.4m2.6 0h2.4m100.1 0h2.4m70.1 0h4.9m35.1 0h2.4m200.1 0h2.4m47.6 0h2.4m70.1 0h2.4m2.6 0h4.9m85.1 0h2.4m197.6 0h2.4m77.6 0h2.4m280.1 0h2.4m112.6 0h4.9M12.5 254.5h2.4m150.1 0h2.4m12.6 0h2.4m37.6 0h2.4m87.6 0h4.9m202.6 0h2.4m67.6 0h2.4m72.6 0h2.4m7.6 0h2.4m7.6 0h2.4m160.1 0h2.4m7.6 0h2.4m32.6 0h2.4m10.1 0h2.4m15.1 0h2.4m2.6 0h2.4m55.1 0h2.4m30.1 0h2.4m5.1 0h2.4m85.1 0h2.4m22.6 0h2.4m10.1 0h2.4m10.1 0h2.4m5.1 0h2.4m185.1 0h4.9M157.5 255.5h2.4m62.6 0h2.4m130.1 0h2.4m417.6 0h2.4M17.5 256.6h2.4m442.6 0h2.4m170.1 0h4.9m82.6 0h2.4m297.6 0h2.4m132.6 0h2.4m15.1 0h2.4M50 257.7h2.4m37.6 0h2.4m47.6 0h2.4m40.1 0h2.4m22.6 0h4.9m12.6 0h2.4m17.6 0h4.9m7.6 0h2.4m12.6 0h4.9m25.1 0h2.4m20.1 0h4.9m15.1 0h4.9m15.1 0h2.4m10.1 0h2.4m7.6 0h2.4m30.1 0h2.4m57.6 0h2.4m7.6 0h2.4m115.1 0h2.4m5.1 0h4.9m20.1 0h2.4m60.1 0h2.4m25.1 0h2.4m27.6 0h4.9m22.6 0h2.4m25.1 0h2.4m15.1 0h2.4m32.6 0h4.9m25.1 0h7.4m5.1 0h2.4m20.1 0h2.4m5.1 0h2.4m10.1 0h2.4m5.1 0h2.4m2.6 0h2.4m12.6 0h2.4m10.1 0h2.4m10.1 0h2.4m2.6 0h2.4m2.6 0h2.4m12.6 0h4.9m17.6 0h2.4m12.6 0h2.4m70.1 0h2.4m12.6 0h2.4m72.6 0h2.4m55.1 0h2.4m17.6 0h2.4m47.6 0h2.4m27.6 0h2.4M10 258.8h2.4m20.1 0h2.4m10.1 0h2.4m82.6 0h2.4m7.6 0h7.4m32.6 0h2.4m187.6 0h2.4m45.1 0h2.4m47.6 0h2.4m75.1 0h2.4m2.6 0h2.4m100.1 0h2.4m157.6 0h2.4m77.6 0h2.4m7.6 0h2.4m17.6 0h2.4m30.1 0h2.4m35.1 0h2.4m32.6 0h2.4m10.1 0h2.4m5.1 0h2.4m30.1 0h2.4m265.1 0h2.4m2.6 0h2.4M167.5 259.8h2.4m2.6 0h2.4m85.1 0h2.4m35.1 0h2.4m232.6 0h7.4m62.6 0h4.9m5.1 0h2.4m17.6 0h2.4m25.1 0h2.4m182.6 0h2.4m2.6 0h2.4m5.1 0h2.4m12.6 0h2.4m12.6 0h2.4m32.6 0h2.4m17.6 0h2.4m80.1 0h2.4m80.1 0h2.4m37.6 0h2.4m32.6 0h2.4m145.1 0h2.4m67.6 0h2.4m2.6 0h4.9m2.6 0h2.4M805 260.9h2.4m20.1 0h2.4m405.1 0h2.4M182.5 262h2.4m5.1 0h2.4m857.6 0h2.4m307.6 0h2.4M202.5 263.1h2.4m197.6 0h2.4m175.1 0h2.4m130.1 0h2.4m240.1 0h2.4m292.6 0h7.4M275 264.2h2.4m52.6 0h2.4m285.1 0h2.4m10.1 0h2.4m227.6 0h2.4m85.1 0h2.4m135.1 0h2.4m65.1 0h2.4m100.1 0h2.4m57.6 0h2.4M65 265.2h2.4m82.6 0h2.4m2.6 0h2.4m55.1 0h2.4m7.6 0h2.4m22.6 0h2.4m35.1 0h2.4m22.6 0h7.4m10.1 0h2.4m97.6 0h4.9m42.6 0h2.4m5.1 0h2.4m57.6 0h2.4m32.6 0h2.4m22.6 0h2.4m95.1 0h2.4m92.6 0h2.4m7.6 0h2.4m2.6 0h2.4m125.1 0h2.4m52.6 0h2.4m7.6 0h2.4m7.6 0h2.4m52.6 0h2.4m27.6 0h4.9m52.6 0h2.4m22.6 0h2.4m7.6 0h2.4m12.6 0h2.4m50.1 0h2.4m30.1 0h2.4m15.1 0h2.4m20.1 0h2.4m5.1 0h2.4m25.1 0h2.4m17.6 0h2.4m17.6 0h2.4M692.5 266.3h2.4m165.1 0h2.4m272.6 0h2.4M285 267.4h2.4m490.1 0h2.4m142.6 0h4.9M325 268.5h2.4m492.6 0h2.4m585.1 0h2.4M270 269.5h2.4M47.5 270.6h2.4m412.6 0h2.4m402.6 0h2.4m140.1 0h2.4m107.6 0h2.4m182.6 0h4.9M467.5 272.8h2.4m470.1 0h2.4m160.1 0h2.4m225.1 0h2.4M112.5 273.9h2.4m260.1 0h2.4m85.1 0h2.4m92.6 0h2.4M50 274.9h2.4m332.6 0h2.4m15.1 0h2.4m617.6 0h2.4m87.6 0h2.4m7.6 0h2.4m192.6 0h2.4M115 276h2.4m67.6 0h2.4m85.1 0h2.4m167.6 0h4.9m55.1 0h4.9m257.6 0h2.4m85.1 0h2.4m50.1 0h2.4m110.1 0h2.4m42.6 0h9.9m5.1 0h2.4m40.1 0h2.4m22.6 0h2.4m22.6 0h7.4m107.6 0h2.4M280 277.1h2.4m87.6 0h2.4m227.6 0h2.4m55.1 0h2.4m17.6 0h2.4m72.6 0h2.4m192.6 0h2.4m155.1 0h4.9M12.5 278.2h4.9m87.6 0h2.4m15.1 0h2.4m52.6 0h2.4m22.6 0h2.4m27.6 0h2.4m32.6 0h2.4m22.6 0h2.4m72.6 0h2.4m145.1 0h2.4m35.1 0h2.4m40.1 0h2.4m50.1 0h2.4m40.1 0h2.4m152.6 0h2.4m35.1 0h2.4m40.1 0h2.4m7.6 0h2.4m10.1 0h2.4m12.6 0h2.4m75.1 0h2.4m2.6 0h2.4m42.6 0h2.4m10.1 0h2.4m7.6 0h2.4m7.6 0h2.4m5.1 0h2.4m50.1 0h2.4m5.1 0h2.4m107.6 0h2.4m12.6 0h2.4m37.6 0h2.4m5.1 0h2.4m5.1 0h2.4m37.6 0h2.4M150 279.2h4.9m385.1 0h2.4m115.1 0h2.4m45.1 0h2.4m317.6 0h2.4m30.1 0h2.4m335.1 0h2.4M110 280.3h2.4m17.6 0h2.4m545.1 0h2.4m22.6 0h2.4m250.1 0h2.4m67.6 0h2.4m55.1 0h2.4m140.1 0h2.4m92.6 0h2.4m67.6 0h2.4M365 281.4h2.4m32.6 0h2.4m380.1 0h2.4M197.5 282.5h2.4M25 283.6h2.4m5.1 0h7.4m27.6 0h2.4m7.6 0h2.4m120.1 0h2.4m10.1 0h2.4m5.1 0h2.4m5.1 0h2.4m2.6 0h2.4m85.1 0h2.4m20.1 0h9.9m7.6 0h2.4m90.1 0h2.4m52.6 0h2.4m170.1 0h7.4m122.6 0h2.4m42.6 0h2.4m7.6 0h2.4m110.1 0h2.4m115.1 0h2.4m17.6 0h2.4m35.1 0h4.9m20.1 0h2.4m147.6 0h4.9M220 284.6h2.4m497.6 0h2.4m25.1 0h2.4m32.6 0h2.4m207.6 0h2.4m77.6 0h2.4m55.1 0h2.4m152.6 0h2.4m12.6 0h2.4m7.6 0h2.4m10.1 0h2.4M255 285.7h2.4m437.6 0h2.4m95.1 0h2.4m137.6 0h2.4m5.1 0h2.4m37.6 0h2.4m17.6 0h4.9m17.6 0h2.4m10.1 0h2.4m2.6 0h2.4m65.1 0h2.4M157.5 286.8h2.4m115.1 0h2.4m17.6 0h4.9m195.1 0h2.4m120.1 0h2.4m232.6 0h2.4M110 287.9h2.4m182.6 0h2.4m242.6 0h2.4m400.1 0h2.4M157.5 289h2.4m200.1 0h2.4m310.1 0h2.4m732.6 0h2.4M540 290h2.4m122.6 0h4.9m690.1 0h2.4M142.5 291.1h2.4m42.6 0h2.4m97.6 0h2.4m350.1 0h2.4m140.1 0h2.4m345.1 0h4.9m32.6 0h2.4m47.6 0h2.4m45.1 0h2.4m80.1 0h2.4m25.1 0h2.4M47.5 292.2h2.4m102.6 0h2.4m40.1 0h9.9m15.1 0h2.4m27.6 0h2.4m2.6 0h2.4m67.6 0h2.4m52.6 0h4.9m30.1 0h2.4m2.6 0h2.4m25.1 0h2.4m40.1 0h4.9m35.1 0h2.4m30.1 0h2.4m25.1 0h2.4m62.6 0h2.4m52.6 0h2.4m5.1 0h2.4m27.6 0h2.4m7.6 0h2.4m62.6 0h2.4m7.6 0h4.9m10.1 0h2.4m37.6 0h2.4m160.1 0h2.4m117.6 0h4.9m70.1 0h2.4m12.6 0h2.4m42.6 0h2.4m50.1 0h2.4m20.1 0h2.4M230 293.3h2.4m117.6 0h4.9m87.6 0h2.4m47.6 0h2.4m65.1 0h2.4m15.1 0h7.4m25.1 0h2.4m85.1 0h2.4m35.1 0h2.4m80.1 0h2.4M115 294.3h2.4m27.6 0h2.4m65.1 0h2.4m217.6 0h2.4m145.1 0h2.4m67.6 0h2.4m167.6 0h2.4m77.6 0h2.4m47.6 0h2.4m17.6 0h4.9m127.6 0h2.4m77.6 0h2.4M62.5 295.4h2.4m7.6 0h2.4m225.1 0h4.9m70.1 0h4.9m360.1 0h2.4m215.1 0h2.4m32.6 0h2.4m12.6 0h2.4m65.1 0h2.4m135.1 0h2.4M155 296.5h2.4m710.1 0h2.4m297.6 0h2.4M175 297.6h2.4m65.1 0h2.4m850.1 0h2.4m120.1 0h2.4m185.1 0h2.4M30 298.7h2.4m52.6 0h2.4m7.6 0h2.4m20.1 0h4.9m22.6 0h2.4m42.6 0h2.4m127.6 0h4.9m22.6 0h2.4m45.1 0h2.4m22.6 0h2.4m192.6 0h2.4m150.1 0h2.4m27.6 0h2.4m107.6 0h2.4m92.6 0h2.4m235.1 0h2.4M2.5 299.7h2.4m30.1 0h2.4m50.1 0h2.4m52.6 0h2.4m20.1 0h2.4m7.6 0h2.4m12.6 0h2.4m30.1 0h4.9m15.1 0h2.4m10.1 0h2.4m2.6 0h2.4m180.1 0h2.4m50.1 0h2.4m30.1 0h2.4m67.6 0h2.4m15.1 0h2.4m57.6 0h2.4m15.1 0h2.4m12.6 0h2.4m20.1 0h2.4m72.6 0h12.4m7.6 0h4.9m7.6 0h2.4m5.1 0h4.9m2.6 0h2.4m5.1 0h2.4m5.1 0h2.4m10.1 0h2.4m2.6 0h2.4m35.1 0h2.4m15.1 0h2.4m15.1 0h2.4m35.1 0h2.4m2.6 0h2.4m2.6 0h2.4m2.6 0h2.4m35.1 0h2.4m5.1 0h2.4m60.1 0h2.4m10.1 0h4.9m40.1 0h2.4m107.6 0h4.9m62.6 0h2.4m52.6 0h9.9M145 300.8h2.4m100.1 0h2.4m20.1 0h2.4m335.1 0h2.4m47.6 0h2.4m110.1 0h4.9m295.1 0h2.4M100 301.9h2.4m17.6 0h2.4m62.6 0h2.4m42.6 0h2.4m22.6 0h2.4m10.1 0h2.4m42.6 0h4.9m10.1 0h4.9m35.1 0h4.9m132.6 0h2.4m15.1 0h2.4m60.1 0h2.4m37.6 0h2.4m37.6 0h4.9m12.6 0h2.4m17.6 0h2.4m57.6 0h4.9m12.6 0h2.4m5.1 0h2.4m45.1 0h2.4m2.6 0h2.4m17.6 0h2.4m7.6 0h2.4m60.1 0h2.4m77.6 0h4.9m12.6 0h2.4m10.1 0h2.4m30.1 0h2.4m2.6 0h4.9m2.6 0h2.4m25.1 0h2.4m20.1 0h4.9m5.1 0h2.4m7.6 0h2.4m27.6 0h4.9m77.6 0h2.4m67.6 0h2.4m17.6 0h2.4m27.6 0h2.4M817.5 304h2.4M175 305.1h2.4m270.1 0h2.4m320.1 0h2.4m107.6 0h2.4m147.6 0h2.4m97.6 0h2.4m135.1 0h2.4m12.6 0h2.4M12.5 306.2h2.4m177.6 0h2.4m100.1 0h2.4m75.1 0h2.4m357.6 0h2.4m82.6 0h2.4m70.1 0h2.4m255.1 0h2.4m55.1 0h2.4m195.1 0h2.4M625 307.3h2.4m632.6 0h2.4M1360 308.4h2.4M35 309.4h2.4m20.1 0h2.4m12.6 0h2.4m5.1 0h4.9m10.1 0h2.4m30.1 0h2.4m12.6 0h4.9m27.6 0h2.4m60.1 0h2.4m7.6 0h2.4m17.6 0h2.4m15.1 0h2.4m72.6 0h2.4m2.6 0h2.4m15.1 0h2.4m35.1 0h2.4m42.6 0h2.4m25.1 0h2.4m15.1 0h2.4m5.1 0h2.4m5.1 0h2.4m37.6 0h2.4m152.6 0h2.4m60.1 0h2.4m5.1 0h4.9m30.1 0h4.9m40.1 0h2.4m5.1 0h2.4m22.6 0h2.4m20.1 0h2.4m25.1 0h2.4m10.1 0h9.9m7.6 0h2.4m2.6 0h2.4m12.6 0h2.4m27.6 0h2.4m2.6 0h4.9m7.6 0h2.4m12.6 0h2.4m22.6 0h4.9m30.1 0h2.4m50.1 0h2.4m2.6 0h2.4m2.6 0h2.4m22.6 0h2.4m52.6 0h2.4m47.6 0h2.4m20.1 0h2.4m22.6 0h2.4m20.1 0h2.4m2.6 0h2.4m15.1 0h4.9M32.5 310.5h2.4m10.1 0h2.4m95.1 0h2.4m2.6 0h4.9m32.6 0h4.9m10.1 0h2.4m60.1 0h4.9m5.1 0h2.4m60.1 0h2.4m192.6 0h2.4m7.6 0h2.4m50.1 0h7.4m225.1 0h4.9m12.6 0h2.4m47.6 0h2.4m30.1 0h2.4m107.6 0h2.4m15.1 0h2.4m40.1 0h2.4m62.6 0h2.4m17.6 0h2.4m15.1 0h2.4m5.1 0h2.4m20.1 0h4.9m50.1 0h2.4m50.1 0h2.4m12.6 0h2.4m17.6 0h2.4M1395 311.6h2.4M60 312.7h2.4m52.6 0h2.4m80.1 0h2.4m952.6 0h2.4m125.1 0h2.4M67.5 313.8h4.9m40.1 0h4.9m75.1 0h2.4m20.1 0h2.4m300.1 0h2.4m17.6 0h2.4m80.1 0h2.4m7.6 0h2.4m122.6 0h2.4m90.1 0h2.4m185.1 0h2.4m22.6 0h2.4m47.6 0h2.4m270.1 0h2.4M180 314.8h2.4m70.1 0h2.4m322.6 0h2.4m217.6 0h2.4m130.1 0h2.4m185.1 0h2.4m30.1 0h2.4m20.1 0h2.4m15.1 0h2.4M10 315.9h2.4m27.6 0h2.4m70.1 0h2.4m50.1 0h2.4m905.1 0h2.4m15.1 0h2.4m37.6 0h2.4m10.1 0h2.4m20.1 0h4.9m5.1 0h2.4m17.6 0h2.4M350 317h2.4m310.1 0h4.9m62.6 0h2.4m2.6 0h2.4m95.1 0h2.4m90.1 0h2.4m7.6 0h2.4m177.6 0h2.4m7.6 0h2.4m260.1 0h2.4M310 318.1h2.4m420.1 0h2.4M12.5 319.1h2.4m220.1 0h2.4m60.1 0h2.4m32.6 0h2.4m32.6 0h2.4m57.6 0h2.4m175.1 0h4.9m122.6 0h2.4m55.1 0h2.4m65.1 0h2.4m70.1 0h2.4m20.1 0h2.4m20.1 0h4.9m35.1 0h2.4m5.1 0h2.4m77.6 0h2.4m112.6 0h2.4M40 320.2h2.4m345.1 0h4.9M670 321.3h2.4m152.6 0h2.4M370 322.4h2.4m942.6 0h2.4m90.1 0h4.9M60 323.5h2.4m72.6 0h4.9m17.6 0h2.4m32.6 0h2.4m7.6 0h2.4m12.6 0h2.4m32.6 0h2.4m15.1 0h2.4m75.1 0h2.4m17.6 0h2.4m2.6 0h2.4m130.1 0h2.4m35.1 0h2.4m87.6 0h2.4m57.6 0h7.4m35.1 0h2.4m27.6 0h2.4m7.6 0h2.4m27.6 0h2.4m82.6 0h2.4m60.1 0h2.4m10.1 0h2.4m35.1 0h2.4m10.1 0h2.4m22.6 0h4.9m2.6 0h2.4m10.1 0h2.4m27.6 0h2.4m5.1 0h2.4m2.6 0h2.4m7.6 0h2.4m7.6 0h2.4m10.1 0h2.4m37.6 0h2.4m60.1 0h2.4m42.6 0h2.4m37.6 0h2.4m2.6 0h2.4m20.1 0h2.4m17.6 0h4.9m17.6 0h2.4m15.1 0h7.4M427.5 324.5h4.9m625.1 0h2.4M37.5 325.6h2.4m5.1 0h2.4m2.6 0h2.4m12.6 0h2.4m7.6 0h2.4m5.1 0h2.4m20.1 0h2.4m2.6 0h2.4m10.1 0h2.4m7.6 0h2.4m2.6 0h2.4m5.1 0h4.9m22.6 0h2.4m12.6 0h2.4m5.1 0h2.4m2.6 0h2.4m2.6 0h2.4m12.6 0h2.4m2.6 0h2.4m5.1 0h7.4m7.6 0h4.9m15.1 0h2.4m20.1 0h2.4m17.6 0h2.4m10.1 0h2.4m10.1 0h4.9m12.6 0h2.4m10.1 0h2.4m65.1 0h2.4m15.1 0h2.4m55.1 0h2.4m10.1 0h2.4m5.1 0h2.4m22.6 0h7.4m5.1 0h2.4m2.6 0h2.4m45.1 0h2.4m7.6 0h7.4m22.6 0h7.4m5.1 0h2.4m5.1 0h4.9m2.6 0h2.4m10.1 0h7.4m20.1 0h2.4m5.1 0h9.9m30.1 0h2.4m2.6 0h2.4m50.1 0h2.4m5.1 0h2.4m5.1 0h2.4m37.6 0h2.4m12.6 0h2.4m12.6 0h7.4m2.6 0h2.4m7.6 0h2.4m25.1 0h2.4m32.6 0h4.9m5.1 0h2.4m22.6 0h2.4m15.1 0h2.4m25.1 0h4.9m7.6 0h2.4m5.1 0h2.4m2.6 0h2.4m12.6 0h7.4m7.6 0h2.4m7.6 0h2.4m10.1 0h2.4m22.6 0h2.4m42.6 0h4.9m10.1 0h2.4m7.6 0h2.4m27.6 0h2.4m5.1 0h2.4m2.6 0h2.4m10.1 0h2.4m22.6 0h4.9m7.6 0h2.4m5.1 0h7.4m5.1 0h2.4m7.6 0h2.4m5.1 0h2.4m10.1 0h2.4m2.6 0h2.4m2.6 0h4.9m2.6 0h4.9M27.5 326.7h2.4m147.6 0h2.4m10.1 0h2.4m5.1 0h2.4m2.6 0h2.4m60.1 0h2.4m127.6 0h2.4m240.1 0h2.4m70.1 0h2.4m20.1 0h2.4m17.6 0h2.4m55.1 0h2.4m17.6 0h2.4m27.6 0h2.4m17.6 0h2.4m30.1 0h2.4m45.1 0h2.4m30.1 0h4.9m22.6 0h2.4m5.1 0h4.9m25.1 0h2.4m20.1 0h9.9m17.6 0h4.9m55.1 0h4.9m15.1 0h4.9m22.6 0h2.4m135.1 0h2.4m5.1 0h2.4M1132.5 327.8h2.4m145.1 0h2.4M17.5 328.8h2.4m275.1 0h2.4m795.1 0h2.4M472.5 329.9h2.4m272.6 0h2.4m322.6 0h2.4m20.1 0h2.4m2.6 0h2.4m50.1 0h2.4m102.6 0h2.4M110 331h2.4m492.6 0h2.4m35.1 0h4.9m472.6 0h2.4m12.6 0h2.4M262.5 332.1h2.4m202.6 0h2.4m375.1 0h9.9m452.6 0h2.4M5 333.2h2.4m15.1 0h2.4m70.1 0h4.9m15.1 0h2.4m15.1 0h2.4m7.6 0h9.9m30.1 0h2.4m12.6 0h2.4m7.6 0h2.4m20.1 0h2.4m12.6 0h2.4m27.6 0h2.4m10.1 0h4.9m10.1 0h9.9m2.6 0h7.4m20.1 0h4.9m5.1 0h4.9m2.6 0h4.9m10.1 0h2.4m7.6 0h2.4m15.1 0h2.4m17.6 0h2.4m5.1 0h2.4m2.6 0h2.4m5.1 0h2.4m5.1 0h2.4m2.6 0h2.4m25.1 0h2.4m17.6 0h2.4m12.6 0h2.4m30.1 0h2.4m7.6 0h2.4m15.1 0h2.4m37.6 0h2.4m5.1 0h7.4m55.1 0h2.4m7.6 0h2.4m15.1 0h2.4m37.6 0h4.9m27.6 0h2.4m7.6 0h2.4m40.1 0h2.4m20.1 0h2.4m12.6 0h2.4m7.6 0h4.9m5.1 0h2.4m2.6 0h2.4m12.6 0h2.4m2.6 0h2.4m2.6 0h4.9m2.6 0h2.4m10.1 0h2.4m45.1 0h4.9m15.1 0h2.4m10.1 0h2.4m35.1 0h9.9m2.6 0h4.9m5.1 0h9.9m12.6 0h2.4m5.1 0h9.9m12.6 0h2.4m2.6 0h2.4m20.1 0h2.4m7.6 0h2.4m2.6 0h2.4m10.1 0h2.4m7.6 0h2.4m20.1 0h2.4m5.1 0h2.4m15.1 0h2.4m27.6 0h9.9m45.1 0h2.4m20.1 0h4.9m5.1 0h2.4M157.5 334.2h2.4m75.1 0h2.4m17.6 0h4.9m7.6 0h2.4m42.6 0h2.4m15.1 0h2.4m2.6 0h4.9m20.1 0h2.4m115.1 0h2.4m355.1 0h2.4m15.1 0h2.4m50.1 0h2.4m80.1 0h2.4m100.1 0h2.4m5.1 0h7.4m2.6 0h4.9m2.6 0h2.4m2.6 0h2.4m35.1 0h2.4m2.6 0h2.4m60.1 0h2.4m12.6 0h2.4m22.6 0h2.4m27.6 0h2.4m5.1 0h4.9m30.1 0h7.4m40.1 0h2.4M367.5 335.3h2.4m182.6 0h2.4m260.1 0h2.4M1072.5 336.4h2.4M162.5 337.5h2.4m665.1 0h2.4m30.1 0h2.4m20.1 0h2.4m247.6 0h2.4m152.6 0h2.4M50 338.5h2.4m77.6 0h2.4m47.6 0h2.4m492.6 0h4.9m135.1 0h2.4m355.1 0h4.9m237.6 0h2.4M277.5 339.6h2.4m572.6 0h2.4m117.6 0h2.4m82.6 0h2.4M67.5 340.7h2.4m27.6 0h2.4m115.1 0h4.9m47.6 0h2.4m17.6 0h2.4m15.1 0h2.4m127.6 0h2.4m200.1 0h2.4m315.1 0h4.9m22.6 0h2.4m22.6 0h2.4m15.1 0h2.4m177.6 0h4.9m20.1 0h2.4M130 341.8h2.4m12.6 0h2.4m12.6 0h2.4m97.6 0h2.4m32.6 0h2.4m25.1 0h4.9m2.6 0h2.4m72.6 0h2.4m20.1 0h2.4m40.1 0h4.9m2.6 0h2.4m25.1 0h4.9m192.6 0h2.4m87.6 0h2.4m57.6 0h2.4m45.1 0h2.4m27.6 0h2.4m97.6 0h2.4m87.6 0h2.4m22.6 0h2.4m27.6 0h2.4m2.6 0h2.4M305 342.9h2.4m915.1 0h2.4M2.5 343.9h2.4m65.1 0h2.4m105.1 0h2.4m57.6 0h2.4m85.1 0h4.9m12.6 0h4.9m47.6 0h4.9m192.6 0h2.4m2.6 0h2.4m12.6 0h2.4m7.6 0h2.4m35.1 0h2.4m57.6 0h2.4m25.1 0h2.4m32.6 0h2.4m47.6 0h2.4m22.6 0h2.4m75.1 0h2.4m2.6 0h2.4m7.6 0h2.4m2.6 0h2.4m20.1 0h4.9m5.1 0h2.4m7.6 0h2.4m10.1 0h2.4m40.1 0h2.4m10.1 0h2.4m22.6 0h2.4m2.6 0h2.4m55.1 0h2.4m85.1 0h2.4m152.6 0h2.4M52.5 345h2.4m25.1 0h2.4m92.6 0h2.4m22.6 0h2.4m50.1 0h2.4m35.1 0h2.4m80.1 0h4.9m55.1 0h2.4m7.6 0h2.4m97.6 0h2.4m155.1 0h2.4m35.1 0h4.9m12.6 0h2.4m30.1 0h2.4m35.1 0h2.4m7.6 0h2.4m112.6 0h2.4m55.1 0h4.9m110.1 0h4.9m7.6 0h4.9m7.6 0h4.9m2.6 0h2.4m7.6 0h7.4m30.1 0h7.4m15.1 0h2.4m7.6 0h2.4m17.6 0h2.4m2.6 0h2.4m7.6 0h4.9m10.1 0h2.4m2.6 0h2.4m7.6 0h2.4m20.1 0h2.4m25.1 0h2.4m37.6 0h2.4M10 346.1h2.4m117.6 0h2.4m12.6 0h2.4m27.6 0h4.9m135.1 0h2.4m125.1 0h2.4m40.1 0h2.4m22.6 0h2.4m485.1 0h2.4m15.1 0h4.9m22.6 0h2.4m7.6 0h2.4m15.1 0h2.4m7.6 0h2.4m25.1 0h2.4m20.1 0h2.4M605 348.3h2.4m725.1 0h2.4M130 349.3h4.9m617.6 0h2.4m117.6 0h2.4m10.1 0h2.4m52.6 0h2.4m187.6 0h2.4M130 350.4h2.4m17.6 0h4.9m45.1 0h4.9m525.1 0h2.4m92.6 0h2.4m97.6 0h2.4M120 351.5h2.4m147.6 0h2.4m812.6 0h2.4m182.6 0h2.4M30 352.6h2.4m32.6 0h2.4m2.6 0h2.4m20.1 0h2.4m22.6 0h4.9m12.6 0h4.9m7.6 0h2.4m32.6 0h4.9m5.1 0h2.4m2.6 0h4.9m7.6 0h2.4m7.6 0h2.4m2.6 0h2.4m72.6 0h2.4m5.1 0h2.4m52.6 0h2.4m137.6 0h2.4m85.1 0h2.4m72.6 0h2.4m2.6 0h2.4m150.1 0h4.9m32.6 0h2.4m5.1 0h2.4m40.1 0h2.4m7.6 0h2.4m2.6 0h2.4m27.6 0h2.4m2.6 0h4.9m2.6 0h2.4m10.1 0h7.4m47.6 0h4.9m7.6 0h2.4m5.1 0h2.4m15.1 0h2.4m27.6 0h2.4m5.1 0h4.9m2.6 0h2.4m20.1 0h2.4m80.1 0h7.4m42.6 0h2.4m72.6 0h2.4m10.1 0h2.4M230 353.6h2.4m25.1 0h2.4m82.6 0h2.4m82.6 0h4.9m7.6 0h2.4m295.1 0h2.4M130 354.7h4.9m85.1 0h2.4m5.1 0h2.4m62.6 0h2.4m52.6 0h2.4m15.1 0h2.4m120.1 0h2.4m165.1 0h2.4m100.1 0h4.9m25.1 0h2.4m17.6 0h2.4m7.6 0h9.9m37.6 0h2.4m22.6 0h2.4m5.1 0h2.4m32.6 0h2.4m27.6 0h4.9m25.1 0h2.4m17.6 0h2.4m17.6 0h2.4m62.6 0h2.4m17.6 0h2.4m35.1 0h2.4m15.1 0h2.4m27.6 0h2.4m70.1 0h2.4m17.6 0h2.4m15.1 0h2.4M222.5 355.8h2.4m722.6 0h2.4m15.1 0h2.4m227.6 0h4.9M2.5 356.9h2.4m30.1 0h2.4m10.1 0h2.4m37.6 0h2.4m30.1 0h2.4m55.1 0h2.4m30.1 0h2.4m32.6 0h2.4m5.1 0h7.4m30.1 0h2.4m12.6 0h2.4m85.1 0h2.4m30.1 0h2.4m7.6 0h2.4m45.1 0h2.4m20.1 0h2.4m20.1 0h2.4m52.6 0h2.4m77.6 0h2.4m2.6 0h2.4m32.6 0h2.4m5.1 0h2.4m22.6 0h2.4m65.1 0h2.4m20.1 0h2.4m25.1 0h4.9m12.6 0h2.4m2.6 0h2.4m32.6 0h2.4m10.1 0h2.4m12.6 0h2.4m7.6 0h4.9m25.1 0h2.4m2.6 0h2.4m25.1 0h2.4m7.6 0h2.4m7.6 0h4.9m55.1 0h2.4m10.1 0h2.4m5.1 0h9.9m2.6 0h2.4m25.1 0h2.4m17.6 0h2.4m37.6 0h2.4m55.1 0h4.9m35.1 0h2.4m45.1 0h2.4m5.1 0h4.9m42.6 0h4.9M475 358h2.4M57.5 359h2.4m25.1 0h2.4m60.1 0h2.4m77.6 0h2.4m45.1 0h2.4m135.1 0h2.4m25.1 0h2.4m112.6 0h2.4m72.6 0h7.4m15.1 0h4.9m12.6 0h2.4m27.6 0h2.4m142.6 0h2.4m15.1 0h2.4m7.6 0h2.4m45.1 0h4.9m22.6 0h2.4m77.6 0h2.4m52.6 0h2.4m32.6 0h2.4m7.6 0h4.9m7.6 0h2.4m12.6 0h2.4m25.1 0h2.4m42.6 0h4.9m10.1 0h2.4m12.6 0h2.4m7.6 0h2.4m55.1 0h2.4m17.6 0h2.4m2.6 0h2.4m25.1 0h2.4M367.5 360.1h2.4m137.6 0h2.4m612.6 0h2.4m32.6 0h2.4M0 361.2h2.4m35.1 0h2.4m10.1 0h4.9m70.1 0h2.4m5.1 0h2.4m7.6 0h2.4m2.6 0h2.4m10.1 0h2.4m7.6 0h2.4m2.6 0h2.4m37.6 0h2.4m17.6 0h7.4m10.1 0h2.4m22.6 0h4.9m17.6 0h2.4m15.1 0h4.9m2.6 0h9.9m7.6 0h4.9m5.1 0h9.9m35.1 0h4.9m10.1 0h2.4m5.1 0h2.4m7.6 0h2.4m92.6 0h2.4m22.6 0h2.4m7.6 0h9.9m20.1 0h2.4m27.6 0h2.4m130.1 0h2.4m12.6 0h7.4m10.1 0h17.4m22.6 0h4.9m20.1 0h4.9m2.6 0h2.4m2.6 0h4.9m15.1 0h14.9m12.6 0h4.9m5.1 0h7.4m10.1 0h14.9m17.6 0h2.4m25.1 0h2.4m2.6 0h2.4m5.1 0h4.9m10.1 0h4.9m2.6 0h4.9m27.6 0h7.4m17.6 0h4.9m35.1 0h4.9m17.6 0h2.4m45.1 0h7.4m62.6 0h2.4m2.6 0h2.4m17.6 0h2.4m50.1 0h2.4m60.1 0h4.9M267.5 362.3h4.9m255.1 0h2.4m25.1 0h2.4m357.6 0h2.4m30.1 0h2.4m37.6 0h2.4m37.6 0h2.4m122.6 0h2.4m135.1 0h2.4m7.6 0h2.4m75.1 0h2.4m15.1 0h2.4M382.5 363.3h2.4m390.1 0h2.4m107.6 0h2.4M120 364.4h2.4m20.1 0h2.4m15.1 0h2.4m140.1 0h2.4m237.6 0h2.4m105.1 0h2.4m20.1 0h2.4m307.6 0h4.9m127.6 0h2.4m17.6 0h2.4m62.6 0h4.9m37.6 0h2.4M92.5 365.5h2.4m22.6 0h2.4m52.6 0h2.4m15.1 0h2.4m42.6 0h2.4m72.6 0h2.4m102.6 0h2.4m212.6 0h4.9m37.6 0h2.4m162.6 0h2.4m87.6 0h2.4m100.1 0h2.4m65.1 0h2.4m90.1 0h2.4M130 366.6h2.4m940.1 0h2.4m320.1 0h2.4M45 367.7h2.4m15.1 0h4.9m62.6 0h2.4m17.6 0h2.4m37.6 0h2.4m5.1 0h2.4m7.6 0h2.4m17.6 0h2.4m25.1 0h2.4m65.1 0h2.4m97.6 0h2.4m12.6 0h2.4m75.1 0h2.4m25.1 0h2.4m40.1 0h2.4m2.6 0h2.4m5.1 0h4.9m25.1 0h2.4m35.1 0h2.4m10.1 0h2.4m72.6 0h2.4m17.6 0h4.9m77.6 0h7.4m2.6 0h2.4m12.6 0h7.4m7.6 0h2.4m2.6 0h2.4m22.6 0h2.4m60.1 0h2.4m47.6 0h4.9m15.1 0h2.4m2.6 0h2.4m12.6 0h2.4m7.6 0h4.9m7.6 0h7.4m32.6 0h2.4m15.1 0h4.9m157.6 0h2.4m22.6 0h2.4m42.6 0h2.4m2.6 0h2.4M677.5 368.7h2.4m47.6 0h4.9m80.1 0h2.4m297.6 0h2.4m147.6 0h2.4m140.1 0h2.4M542.5 369.8h2.4m57.6 0h2.4m55.1 0h2.4m285.1 0h2.4M7.5 370.9h2.4m50.1 0h2.4m37.6 0h2.4m50.1 0h2.4m107.6 0h2.4m140.1 0h2.4m25.1 0h7.4m27.6 0h2.4m5.1 0h2.4m210.1 0h2.4m62.6 0h2.4m32.6 0h4.9m55.1 0h2.4m5.1 0h2.4m2.6 0h2.4m17.6 0h2.4m7.6 0h2.4m57.6 0h2.4m65.1 0h4.9m82.6 0h2.4m70.1 0h2.4m2.6 0h2.4m17.6 0h2.4m72.6 0h2.4m72.6 0h2.4M175 372h2.4m127.6 0h2.4m430.1 0h2.4m85.1 0h4.9m52.6 0h2.4m320.1 0h2.4m187.6 0h2.4M302.5 373.1h2.4m100.1 0h2.4m372.6 0h2.4m450.1 0h2.4m10.1 0h2.4m30.1 0h2.4M25 374.1h2.4m382.6 0h2.4m7.6 0h2.4m47.6 0h2.4m175.1 0h2.4m87.6 0h2.4m110.1 0h2.4m17.6 0h2.4m355.1 0h2.4M5 375.2h2.4m150.1 0h4.9m17.6 0h4.9m5.1 0h4.9m77.6 0h2.4m20.1 0h2.4m32.6 0h2.4m7.6 0h7.4m140.1 0h2.4m50.1 0h2.4m50.1 0h2.4m217.6 0h2.4m17.6 0h2.4m22.6 0h2.4m42.6 0h4.9m40.1 0h4.9m12.6 0h4.9m47.6 0h4.9m7.6 0h2.4m87.6 0h4.9m5.1 0h2.4m12.6 0h2.4m7.6 0h2.4m120.1 0h2.4m42.6 0h2.4m37.6 0h2.4m42.6 0h2.4m5.1 0h2.4M110 376.3h2.4m7.6 0h2.4m20.1 0h2.4m22.6 0h2.4m7.6 0h2.4m70.1 0h2.4m210.1 0h2.4m80.1 0h2.4m165.1 0h2.4m2.6 0h2.4m445.1 0h7.4m122.6 0h2.4M17.5 378.4h2.4m60.1 0h2.4m52.6 0h2.4m20.1 0h2.4m12.6 0h2.4m22.6 0h2.4m140.1 0h2.4m75.1 0h2.4m72.6 0h2.4m82.6 0h2.4m245.1 0h2.4m95.1 0h2.4m227.6 0h2.4m115.1 0h2.4M155 379.5h2.4m30.1 0h2.4m32.6 0h2.4m45.1 0h2.4m32.6 0h4.9m325.1 0h2.4m85.1 0h2.4m115.1 0h2.4m105.1 0h2.4m75.1 0h2.4m90.1 0h2.4m55.1 0h4.9m35.1 0h2.4m65.1 0h2.4m130.1 0h2.4M145 381.7h2.4m217.6 0h2.4m402.6 0h2.4m7.6 0h2.4m30.1 0h2.4m27.6 0h2.4m87.6 0h2.4m30.1 0h2.4m50.1 0h2.4m62.6 0h2.4m10.1 0h2.4m285.1 0h2.4M55 382.8h2.4m10.1 0h2.4m65.1 0h9.9m5.1 0h2.4m12.6 0h2.4m2.6 0h2.4m5.1 0h4.9m2.6 0h2.4m7.6 0h2.4m5.1 0h2.4m2.6 0h2.4m2.6 0h2.4m10.1 0h2.4m2.6 0h2.4m5.1 0h2.4m10.1 0h2.4m5.1 0h2.4m2.6 0h2.4m15.1 0h2.4m20.1 0h4.9m2.6 0h2.4m2.6 0h2.4m27.6 0h2.4m15.1 0h2.4m5.1 0h2.4m20.1 0h2.4m7.6 0h2.4m15.1 0h7.4m7.6 0h2.4m37.6 0h7.4m20.1 0h2.4m15.1 0h2.4m12.6 0h2.4m7.6 0h2.4m7.6 0h2.4m37.6 0h2.4m35.1 0h2.4m7.6 0h2.4m5.1 0h2.4m2.6 0h2.4m45.1 0h4.9m62.6 0h7.4m42.6 0h4.9m7.6 0h4.9m40.1 0h2.4m20.1 0h2.4m20.1 0h2.4m2.6 0h2.4m2.6 0h2.4m22.6 0h2.4m15.1 0h7.4m20.1 0h2.4m7.6 0h4.9m7.6 0h2.4m50.1 0h9.9m27.6 0h2.4m5.1 0h2.4m20.1 0h2.4m2.6 0h4.9m2.6 0h2.4m7.6 0h7.4m37.6 0h2.4m2.6 0h2.4m22.6 0h4.9m12.6 0h2.4m50.1 0h7.4m12.6 0h2.4m5.1 0h2.4m10.1 0h2.4m35.1 0h2.4M302.5 383.8h2.4m7.6 0h2.4m537.6 0h2.4m92.6 0h2.4m75.1 0h4.9m95.1 0h2.4m122.6 0h2.4m132.6 0h2.4m2.6 0h2.4m2.6 0h2.4M312.5 384.9h2.4m30.1 0h2.4m172.6 0h2.4m120.1 0h2.4m262.6 0h2.4m17.6 0h2.4m35.1 0h2.4m435.1 0h2.4M252.5 386h2.4m42.6 0h2.4m37.6 0h2.4m167.6 0h2.4m2.6 0h2.4m40.1 0h2.4m5.1 0h2.4m10.1 0h2.4m197.6 0h2.4m95.1 0h2.4m77.6 0h2.4m5.1 0h2.4m85.1 0h2.4m5.1 0h7.4m15.1 0h2.4m20.1 0h2.4m5.1 0h2.4m2.6 0h2.4m27.6 0h2.4m35.1 0h2.4m25.1 0h2.4m27.6 0h2.4m30.1 0h2.4m20.1 0h2.4M230 387.1h2.4m155.1 0h2.4m12.6 0h2.4m530.1 0h2.4M42.5 388.1h2.4m722.6 0h2.4m285.1 0h4.9m332.6 0h4.9M442.5 389.2h2.4m260.1 0h2.4m307.6 0h2.4m370.1 0h2.4M135 390.3h2.4m60.1 0h2.4m262.6 0h2.4m210.1 0h2.4m42.6 0h2.4m75.1 0h2.4m147.6 0h2.4m25.1 0h2.4m10.1 0h2.4m75.1 0h2.4m80.1 0h2.4m35.1 0h2.4m15.1 0h2.4m125.1 0h2.4m60.1 0h2.4m12.6 0h4.9M652.5 391.4h2.4m360.1 0h2.4m385.1 0h2.4M107.5 392.5h2.4m15.1 0h2.4m7.6 0h4.9m35.1 0h4.9m20.1 0h2.4m47.6 0h2.4m17.6 0h4.9m10.1 0h2.4m7.6 0h4.9m50.1 0h2.4m25.1 0h2.4m10.1 0h2.4m7.6 0h2.4m20.1 0h2.4m2.6 0h2.4m5.1 0h2.4m7.6 0h2.4m25.1 0h2.4m77.6 0h2.4m15.1 0h2.4m87.6 0h2.4m25.1 0h2.4m10.1 0h2.4m7.6 0h2.4m45.1 0h2.4m35.1 0h2.4m22.6 0h7.4m2.6 0h2.4m2.6 0h2.4m7.6 0h2.4m22.6 0h2.4m25.1 0h2.4m7.6 0h2.4m15.1 0h2.4m2.6 0h2.4m10.1 0h4.9m12.6 0h2.4m55.1 0h2.4m7.6 0h2.4m5.1 0h17.4m20.1 0h4.9m10.1 0h2.4m22.6 0h2.4m22.6 0h2.4m7.6 0h2.4m10.1 0h2.4m7.6 0h9.9m5.1 0h2.4m22.6 0h2.4m2.6 0h2.4m25.1 0h2.4m7.6 0h2.4m5.1 0h2.4m25.1 0h2.4m57.6 0h2.4m7.6 0h2.4m5.1 0h2.4m5.1 0h2.4m40.1 0h2.4M95 393.5h2.4m10.1 0h2.4m42.6 0h4.9m2.6 0h2.4m12.6 0h2.4m70.1 0h4.9m2.6 0h2.4m15.1 0h2.4m7.6 0h2.4m47.6 0h2.4m5.1 0h4.9m5.1 0h2.4m10.1 0h2.4m12.6 0h2.4m37.6 0h2.4m17.6 0h2.4m27.6 0h2.4m87.6 0h4.9m192.6 0h2.4m12.6 0h2.4m10.1 0h2.4m75.1 0h2.4m57.6 0h2.4m27.6 0h2.4m7.6 0h9.9m10.1 0h2.4m5.1 0h2.4m15.1 0h2.4m10.1 0h2.4m12.6 0h2.4m10.1 0h2.4m12.6 0h2.4m12.6 0h2.4m15.1 0h2.4m15.1 0h2.4m50.1 0h2.4m2.6 0h2.4m110.1 0h2.4m62.6 0h2.4m30.1 0h2.4M167.5 394.6h2.4m67.6 0h2.4m32.6 0h2.4m70.1 0h4.9m35.1 0h2.4m72.6 0h2.4m27.6 0h2.4m15.1 0h2.4m35.1 0h2.4m15.1 0h2.4m27.6 0h2.4m27.6 0h2.4m37.6 0h4.9m15.1 0h2.4m60.1 0h2.4m17.6 0h2.4m15.1 0h2.4m77.6 0h2.4m30.1 0h2.4m15.1 0h2.4m5.1 0h2.4m57.6 0h2.4m2.6 0h4.9m15.1 0h2.4m10.1 0h2.4m17.6 0h2.4m102.6 0h2.4m22.6 0h12.4m22.6 0h2.4m5.1 0h2.4m2.6 0h2.4m60.1 0h2.4m32.6 0h2.4m75.1 0h2.4m22.6 0h2.4M12.5 395.7h7.4m2.6 0h2.4m15.1 0h2.4m27.6 0h2.4m25.1 0h2.4m60.1 0h2.4m22.6 0h2.4m17.6 0h2.4m2.6 0h2.4m5.1 0h2.4m22.6 0h2.4m42.6 0h4.9m15.1 0h2.4m2.6 0h2.4m77.6 0h2.4m62.6 0h2.4m20.1 0h4.9m5.1 0h2.4m5.1 0h2.4m2.6 0h2.4m20.1 0h2.4m20.1 0h2.4m7.6 0h2.4m7.6 0h2.4m7.6 0h2.4m50.1 0h2.4m5.1 0h2.4m5.1 0h2.4m2.6 0h2.4m12.6 0h4.9m10.1 0h2.4m5.1 0h2.4m2.6 0h2.4m5.1 0h7.4m2.6 0h2.4m10.1 0h2.4m17.6 0h4.9m7.6 0h2.4m10.1 0h2.4m12.6 0h2.4m22.6 0h2.4m10.1 0h2.4m12.6 0h2.4m5.1 0h2.4m2.6 0h4.9m5.1 0h2.4m5.1 0h4.9m22.6 0h4.9m10.1 0h4.9m2.6 0h4.9m2.6 0h2.4m5.1 0h9.9m2.6 0h4.9m2.6 0h2.4m2.6 0h4.9m2.6 0h2.4m2.6 0h12.4m2.6 0h2.4m2.6 0h2.4m2.6 0h2.4m7.6 0h12.4m5.1 0h7.4m2.6 0h2.4m17.6 0h9.9m7.6 0h4.9m7.6 0h2.4m5.1 0h2.4m37.6 0h2.4m15.1 0h7.4m12.6 0h2.4m15.1 0h4.9m37.6 0h2.4m10.1 0h2.4m2.6 0h2.4m25.1 0h2.4m22.6 0h2.4m12.6 0h7.4m20.1 0h2.4m7.6 0h4.9m32.6 0h2.4m2.6 0h4.9m2.6 0h2.4m7.6 0h4.9m2.6 0h2.4M77.5 396.8h2.4m715.1 0h2.4m202.6 0h2.4m120.1 0h4.9m10.1 0h2.4m132.6 0h2.4M70 397.8h2.4m17.6 0h2.4m85.1 0h2.4m10.1 0h2.4m320.1 0h2.4m25.1 0h2.4m7.6 0h2.4m15.1 0h2.4m177.6 0h2.4m22.6 0h2.4m47.6 0h2.4m12.6 0h2.4m17.6 0h2.4m92.6 0h2.4m15.1 0h2.4m22.6 0h2.4m17.6 0h4.9m17.6 0h2.4m52.6 0h2.4m27.6 0h2.4m27.6 0h2.4m7.6 0h2.4m147.6 0h2.4m30.1 0h2.4M192.5 398.9h2.4m217.6 0h2.4m20.1 0h2.4m540.1 0h2.4m112.6 0h2.4M447.5 400h2.4m140.1 0h2.4m57.6 0h2.4m112.6 0h2.4m32.6 0h2.4m115.1 0h4.9m15.1 0h4.9m105.1 0h2.4m85.1 0h2.4m130.1 0h2.4m25.1 0h2.4m2.6 0h2.4m102.6 0h2.4M2.5 401.1h2.4m7.6 0h2.4m12.6 0h2.4m147.6 0h2.4m7.6 0h2.4m80.1 0h2.4m25.1 0h2.4m85.1 0h2.4m55.1 0h2.4m17.6 0h2.4m80.1 0h2.4m20.1 0h2.4m137.6 0h2.4m60.1 0h4.9m77.6 0h2.4m2.6 0h2.4m15.1 0h2.4m92.6 0h2.4m27.6 0h9.9m22.6 0h2.4m10.1 0h2.4m2.6 0h2.4m45.1 0h2.4m7.6 0h2.4m27.6 0h2.4m22.6 0h2.4m2.6 0h2.4m160.1 0h2.4m10.1 0h2.4M227.5 402.2h2.4m87.6 0h2.4m40.1 0h2.4m2.6 0h2.4m387.6 0h2.4m27.6 0h2.4m150.1 0h2.4m10.1 0h2.4m120.1 0h2.4M50 403.2h2.4m50.1 0h2.4m7.6 0h2.4m62.6 0h2.4m17.6 0h2.4m105.1 0h2.4m2.6 0h2.4m35.1 0h2.4m117.6 0h2.4m5.1 0h2.4m10.1 0h2.4m20.1 0h2.4m17.6 0h9.9m82.6 0h2.4m67.6 0h9.9m2.6 0h7.4m15.1 0h2.4m2.6 0h2.4m40.1 0h2.4m7.6 0h2.4m72.6 0h4.9m45.1 0h2.4m17.6 0h2.4m27.6 0h2.4m32.6 0h4.9m35.1 0h2.4m25.1 0h2.4m35.1 0h4.9m60.1 0h2.4m100.1 0h2.4m27.6 0h2.4m2.6 0h2.4m22.6 0h2.4M72.5 404.3h2.4m107.6 0h2.4m25.1 0h2.4m5.1 0h2.4m107.6 0h2.4m250.1 0h4.9m335.1 0h2.4m55.1 0h2.4M85 405.4h2.4m62.6 0h2.4m7.6 0h2.4m17.6 0h2.4m217.6 0h2.4m275.1 0h2.4m110.1 0h2.4m242.6 0h2.4m55.1 0h2.4m7.6 0h2.4m2.6 0h2.4m2.6 0h2.4m57.6 0h2.4m17.6 0h4.9m72.6 0h2.4m55.1 0h2.4M15 407.6h2.4m100.1 0h2.4m75.1 0h2.4m30.1 0h2.4m17.6 0h4.9m37.6 0h2.4m32.6 0h2.4m227.6 0h2.4m100.1 0h2.4m90.1 0h4.9m50.1 0h2.4m185.1 0h2.4m80.1 0h4.9m105.1 0h2.4m10.1 0h2.4m130.1 0h2.4m20.1 0h7.4m27.6 0h2.4M140 408.6h2.4m15.1 0h7.4m5.1 0h2.4m12.6 0h2.4m17.6 0h2.4m30.1 0h4.9m27.6 0h2.4m10.1 0h2.4m35.1 0h7.4m47.6 0h2.4m35.1 0h2.4m50.1 0h2.4m27.6 0h2.4m80.1 0h2.4m37.6 0h2.4m30.1 0h2.4m42.6 0h2.4m32.6 0h2.4m57.6 0h2.4m7.6 0h2.4m17.6 0h4.9m35.1 0h2.4m2.6 0h4.9m5.1 0h2.4m30.1 0h7.4m37.6 0h4.9m12.6 0h2.4m2.6 0h4.9m30.1 0h4.9m15.1 0h2.4m37.6 0h2.4m35.1 0h4.9m10.1 0h4.9m2.6 0h2.4m25.1 0h2.4m2.6 0h2.4m2.6 0h2.4m47.6 0h4.9m15.1 0h2.4m40.1 0h2.4m7.6 0h2.4m10.1 0h2.4m22.6 0h2.4m25.1 0h2.4m57.6 0h2.4M227.5 409.7h4.9m32.6 0h4.9m307.6 0h4.9m190.1 0h2.4m97.6 0h2.4m190.1 0h2.4M85 410.8h2.4m2.6 0h2.4m10.1 0h4.9m2.6 0h4.9m10.1 0h2.4m82.6 0h2.4m47.6 0h2.4m32.6 0h2.4m15.1 0h2.4m32.6 0h2.4m50.1 0h2.4m10.1 0h2.4m12.6 0h2.4m32.6 0h2.4m100.1 0h2.4m55.1 0h2.4m55.1 0h2.4m20.1 0h2.4m25.1 0h2.4m5.1 0h2.4m27.6 0h2.4m15.1 0h2.4m10.1 0h2.4m35.1 0h2.4m95.1 0h2.4m100.1 0h4.9m7.6 0h2.4m12.6 0h2.4m27.6 0h2.4m42.6 0h2.4m5.1 0h2.4m135.1 0h2.4m10.1 0h2.4m67.6 0h4.9M310 411.9h2.4m25.1 0h2.4m17.6 0h2.4m12.6 0h2.4m165.1 0h2.4m47.6 0h2.4m82.6 0h2.4m40.1 0h2.4m140.1 0h2.4m142.6 0h4.9m35.1 0h2.4m337.6 0h2.4M270 412.9h2.4m25.1 0h2.4m372.6 0h2.4m22.6 0h2.4m647.6 0h2.4M167.5 414h2.4m7.6 0h2.4m552.6 0h2.4m157.6 0h2.4m437.6 0h2.4M82.5 415.1h2.4m225.1 0h2.4m40.1 0h2.4m112.6 0h2.4m257.6 0h2.4m82.6 0h2.4m40.1 0h2.4m20.1 0h2.4m270.1 0h2.4M182.5 416.2h2.4m135.1 0h2.4m362.6 0h2.4M725 417.3h2.4m150.1 0h2.4m22.6 0h2.4m127.6 0h4.9m275.1 0h2.4M1062.5 418.3h2.4M157.5 419.4h2.4m50.1 0h2.4m25.1 0h2.4M7.5 420.5h2.4m200.1 0h2.4m72.6 0h2.4m5.1 0h2.4m215.1 0h2.4m65.1 0h4.9m230.1 0h2.4m205.1 0h4.9m35.1 0h2.4m130.1 0h2.4m165.1 0h2.4M77.5 421.6h2.4m102.6 0h2.4m117.6 0h4.9m130.1 0h2.4m2.6 0h2.4m57.6 0h2.4m142.6 0h2.4m67.6 0h2.4m15.1 0h2.4m7.6 0h2.4m67.6 0h4.9m45.1 0h2.4m12.6 0h2.4m12.6 0h2.4m67.6 0h2.4m107.6 0h2.4m2.6 0h2.4m27.6 0h2.4m67.6 0h4.9M255 422.6h2.4m37.6 0h2.4M1122.5 423.7h2.4m77.6 0h2.4m152.6 0h2.4M870 424.8h2.4m75.1 0h2.4m235.1 0h2.4M257.5 425.9h2.4m22.6 0h2.4m80.1 0h2.4m512.6 0h2.4m257.6 0h2.4m85.1 0h4.9m37.6 0h2.4m135.1 0h2.4M262.5 427h2.4m1112.6 0h2.4M7.5 428h2.4m5.1 0h2.4m50.1 0h2.4m17.6 0h2.4m22.6 0h2.4m35.1 0h7.4m5.1 0h2.4m22.6 0h4.9m40.1 0h2.4m15.1 0h2.4m5.1 0h4.9m30.1 0h2.4m32.6 0h2.4m7.6 0h2.4m20.1 0h4.9m40.1 0h2.4m27.6 0h2.4m45.1 0h2.4m7.6 0h2.4m17.6 0h2.4m10.1 0h2.4m62.6 0h2.4m35.1 0h2.4m10.1 0h2.4m10.1 0h4.9m25.1 0h4.9m10.1 0h2.4m15.1 0h2.4m22.6 0h2.4m27.6 0h2.4m22.6 0h4.9m12.6 0h4.9m30.1 0h2.4m25.1 0h2.4m87.6 0h2.4m7.6 0h2.4m12.6 0h2.4m2.6 0h2.4m17.6 0h2.4m10.1 0h2.4m5.1 0h2.4m7.6 0h2.4m5.1 0h2.4m17.6 0h2.4m22.6 0h2.4m22.6 0h2.4m25.1 0h2.4m82.6 0h2.4m37.6 0h2.4m2.6 0h2.4m15.1 0h2.4m65.1 0h2.4M182.5 429.1h2.4m105.1 0h2.4m677.6 0h2.4m267.6 0h2.4M52.5 430.2h7.4m100.1 0h2.4m270.1 0h2.4m82.6 0h2.4m282.6 0h2.4m280.1 0h2.4m162.6 0h2.4M192.5 431.3h7.4m40.1 0h2.4m67.6 0h2.4m55.1 0h2.4m310.1 0h4.9m117.6 0h2.4m40.1 0h4.9m395.1 0h2.4M152.5 432.4h2.4m155.1 0h2.4m30.1 0h2.4m5.1 0h2.4m80.1 0h2.4m265.1 0h2.4m55.1 0h2.4m137.6 0h2.4m15.1 0h2.4m125.1 0h2.4m17.6 0h2.4m20.1 0h2.4m37.6 0h2.4m40.1 0h2.4m25.1 0h2.4m102.6 0h2.4m112.6 0h2.4M222.5 433.4h2.4m237.6 0h2.4m700.1 0h2.4M85 434.5h2.4m102.6 0h2.4m42.6 0h2.4m7.6 0h2.4m670.1 0h7.4m80.1 0h2.4m65.1 0h2.4m137.6 0h2.4m165.1 0h4.9M1072.5 435.6h2.4M232.5 436.7h2.4m252.6 0h2.4m747.6 0h2.4M732.5 437.7h4.9m122.6 0h2.4m217.6 0h4.9M390 438.8h2.4M240 439.9h2.4m377.6 0h2.4m110.1 0h2.4m15.1 0h2.4m487.6 0h2.4m7.6 0h2.4M160 441h2.4m567.6 0h2.4m257.6 0h2.4m30.1 0h2.4m22.6 0h2.4m35.1 0h7.4m55.1 0h2.4m12.6 0h2.4m17.6 0h2.4m85.1 0h2.4m92.6 0h9.9m40.1 0h2.4M475 442.1h2.4m250.1 0h2.4M470 443.1h2.4m257.6 0h2.4m55.1 0h2.4m242.6 0h2.4M35 444.2h2.4m325.1 0h2.4m260.1 0h2.4m57.6 0h7.4m425.1 0h2.4m285.1 0h2.4M345 445.3h2.4m552.6 0h2.4m177.6 0h2.4M280 446.4h2.4m35.1 0h2.4m95.1 0h2.4m190.1 0h2.4m2.6 0h4.9m52.6 0h2.4m120.1 0h2.4m25.1 0h4.9m22.6 0h4.9m10.1 0h2.4m35.1 0h2.4m10.1 0h4.9m55.1 0h2.4m2.6 0h2.4m25.1 0h2.4m35.1 0h7.4m2.6 0h4.9m12.6 0h2.4m5.1 0h2.4m5.1 0h2.4m7.6 0h4.9m7.6 0h2.4m2.6 0h2.4m7.6 0h2.4m25.1 0h2.4m25.1 0h2.4m157.6 0h2.4M117.5 447.4h2.4m42.6 0h2.4m562.6 0h2.4m397.6 0h2.4m57.6 0h2.4M182.5 448.5h2.4m50.1 0h2.4m157.6 0h4.9m125.1 0h2.4m12.6 0h2.4m795.1 0h2.4M187.5 449.6h2.4m872.6 0h2.4m320.1 0h2.4M102.5 450.7h4.9m55.1 0h2.4m12.6 0h2.4m2.6 0h2.4m10.1 0h4.9m60.1 0h9.9m5.1 0h2.4m12.6 0h7.4m5.1 0h2.4m15.1 0h4.9m5.1 0h2.4m15.1 0h2.4m5.1 0h2.4m2.6 0h2.4m22.6 0h2.4m37.6 0h2.4m17.6 0h7.4m15.1 0h2.4m120.1 0h9.9m5.1 0h2.4m7.6 0h2.4m12.6 0h7.4m2.6 0h4.9m35.1 0h2.4m12.6 0h2.4m67.6 0h2.4m12.6 0h2.4m7.6 0h2.4m22.6 0h2.4m10.1 0h2.4m10.1 0h7.4m2.6 0h2.4m35.1 0h2.4m30.1 0h2.4m2.6 0h2.4m10.1 0h2.4m127.6 0h9.9m35.1 0h4.9m2.6 0h4.9m35.1 0h4.9m5.1 0h2.4m80.1 0h9.9m10.1 0h2.4m25.1 0h2.4m5.1 0h2.4m15.1 0h4.9m62.6 0h2.4m10.1 0h9.9M100 451.8h2.4m7.6 0h2.4m40.1 0h2.4m135.1 0h2.4m15.1 0h2.4m7.6 0h4.9m15.1 0h4.9m110.1 0h2.4m2.6 0h2.4m365.1 0h2.4m30.1 0h2.4m15.1 0h4.9m20.1 0h2.4m20.1 0h2.4m25.1 0h2.4m7.6 0h2.4m5.1 0h4.9m17.6 0h2.4m52.6 0h2.4m2.6 0h2.4m107.6 0h4.9m95.1 0h2.4m55.1 0h2.4m20.1 0h2.4m12.6 0h4.9m35.1 0h2.4M205 452.8h4.9m192.6 0h4.9m837.6 0h2.4M75 453.9h2.4m185.1 0h4.9m72.6 0h2.4m17.6 0h2.4m65.1 0h4.9m65.1 0h2.4m72.6 0h2.4m67.6 0h2.4m127.6 0h2.4m2.6 0h2.4m72.6 0h2.4m137.6 0h2.4m290.1 0h2.4m47.6 0h2.4M80 455h2.4m62.6 0h2.4m15.1 0h2.4m110.1 0h2.4m55.1 0h2.4m30.1 0h2.4m35.1 0h2.4m32.6 0h2.4m117.6 0h2.4m22.6 0h2.4m15.1 0h2.4m80.1 0h2.4m25.1 0h2.4m117.6 0h2.4m2.6 0h2.4m5.1 0h2.4m27.6 0h2.4m15.1 0h2.4m27.6 0h2.4m27.6 0h2.4m15.1 0h2.4m25.1 0h2.4m7.6 0h4.9m47.6 0h2.4m20.1 0h2.4m37.6 0h2.4m35.1 0h7.4m2.6 0h2.4m195.1 0h2.4M5 456.1h2.4m272.6 0h2.4m740.1 0h2.4M12.5 457.1h2.4m1137.6 0h2.4M120 458.2h2.4m195.1 0h2.4m375.1 0h2.4m32.6 0h2.4m275.1 0h2.4m42.6 0h2.4m5.1 0h2.4M32.5 459.3h2.4m27.6 0h2.4m65.1 0h2.4m12.6 0h2.4m10.1 0h2.4m30.1 0h4.9m15.1 0h2.4m25.1 0h2.4m15.1 0h2.4m10.1 0h2.4m12.6 0h2.4m15.1 0h2.4m5.1 0h14.9m7.6 0h2.4m7.6 0h2.4m2.6 0h2.4m10.1 0h2.4m22.6 0h2.4m70.1 0h2.4m5.1 0h2.4m90.1 0h2.4m62.6 0h2.4m12.6 0h4.9m20.1 0h2.4m20.1 0h2.4m7.6 0h4.9m90.1 0h4.9m115.1 0h2.4m22.6 0h2.4m12.6 0h2.4m27.6 0h2.4m12.6 0h2.4m30.1 0h4.9m2.6 0h2.4m10.1 0h4.9m5.1 0h4.9m2.6 0h2.4m2.6 0h2.4m47.6 0h2.4m2.6 0h7.4m10.1 0h2.4m5.1 0h2.4m5.1 0h2.4m10.1 0h4.9m7.6 0h2.4m10.1 0h2.4m22.6 0h2.4m15.1 0h2.4m10.1 0h2.4m55.1 0h2.4m15.1 0h2.4m15.1 0h2.4m62.6 0h2.4M357.5 460.4h2.4m407.6 0h2.4M20 461.5h2.4m157.6 0h2.4m32.6 0h2.4m27.6 0h2.4m2.6 0h2.4m17.6 0h2.4m30.1 0h2.4m2.6 0h4.9m15.1 0h2.4m15.1 0h2.4m12.6 0h2.4m2.6 0h2.4m7.6 0h4.9m137.6 0h2.4m190.1 0h2.4m60.1 0h2.4m57.6 0h2.4m2.6 0h2.4m42.6 0h2.4m17.6 0h4.9m20.1 0h2.4m5.1 0h2.4m5.1 0h2.4m30.1 0h2.4m32.6 0h4.9m65.1 0h4.9m25.1 0h2.4m55.1 0h4.9m2.6 0h2.4m90.1 0h2.4m17.6 0h2.4m117.6 0h2.4M1095 463.6h2.4m292.6 0h2.4M32.5 464.7h2.4m162.6 0h2.4m107.6 0h2.4m562.6 0h2.4m57.6 0h2.4m162.6 0h2.4m157.6 0h2.4m7.6 0h2.4M267.5 465.8h2.4m82.6 0h2.4m42.6 0h2.4m112.6 0h2.4m47.6 0h2.4m110.1 0h2.4m55.1 0h2.4m47.6 0h2.4m82.6 0h2.4m30.1 0h2.4m57.6 0h2.4m87.6 0h2.4m7.6 0h2.4m5.1 0h2.4m25.1 0h2.4m2.6 0h2.4m37.6 0h2.4m242.6 0h2.4m27.6 0h2.4M320 466.9h2.4m732.6 0h2.4M1030 467.9h2.4m270.1 0h2.4M247.5 469h2.4m297.6 0h2.4m197.6 0h4.9m37.6 0h2.4m70.1 0h7.4m72.6 0h4.9M242.5 470.1h2.4m627.6 0h2.4m42.6 0h2.4m62.6 0h2.4m247.6 0h2.4M525 471.2h2.4m225.1 0h2.4m525.1 0h2.4M0 472.2h2.4m135.1 0h7.4m42.6 0h2.4m105.1 0h2.4m15.1 0h4.9m110.1 0h2.4m75.1 0h2.4m202.6 0h2.4m25.1 0h2.4m55.1 0h2.4m45.1 0h4.9m65.1 0h2.4m2.6 0h2.4m7.6 0h2.4m2.6 0h2.4m20.1 0h2.4m30.1 0h2.4m7.6 0h2.4m10.1 0h2.4m5.1 0h2.4m15.1 0h2.4m10.1 0h2.4m17.6 0h2.4m107.6 0h2.4m7.6 0h4.9m110.1 0h4.9M10 473.3h2.4m107.6 0h4.9m122.6 0h4.9m2.6 0h2.4m40.1 0h2.4m132.6 0h2.4m40.1 0h2.4m27.6 0h2.4m12.6 0h2.4m47.6 0h2.4m132.6 0h2.4m122.6 0h2.4m7.6 0h2.4m62.6 0h2.4m12.6 0h2.4m7.6 0h2.4m80.1 0h4.9m37.6 0h2.4m35.1 0h2.4m12.6 0h2.4m2.6 0h2.4m2.6 0h2.4m35.1 0h2.4m25.1 0h2.4m55.1 0h2.4m137.6 0h2.4m25.1 0h4.9M7.5 474.4h2.4m527.6 0h2.4m120.1 0h2.4m267.6 0h2.4m55.1 0h12.4m75.1 0h2.4m60.1 0h2.4m262.6 0h2.4M50 475.5h2.4m57.6 0h2.4m32.6 0h2.4m25.1 0h2.4m7.6 0h2.4m10.1 0h2.4m20.1 0h2.4m20.1 0h4.9m12.6 0h2.4m85.1 0h2.4m5.1 0h2.4m37.6 0h2.4m160.1 0h2.4m7.6 0h2.4m80.1 0h2.4m57.6 0h2.4m55.1 0h2.4m47.6 0h2.4m15.1 0h2.4m70.1 0h2.4m77.6 0h2.4m2.6 0h2.4m30.1 0h2.4m2.6 0h2.4m32.6 0h4.9m37.6 0h4.9m2.6 0h4.9m22.6 0h7.4m17.6 0h2.4m117.6 0h2.4M70 476.6h2.4m95.1 0h4.9m45.1 0h2.4m65.1 0h2.4m2.6 0h4.9m175.1 0h4.9m65.1 0h2.4m347.6 0h2.4m37.6 0h2.4m92.6 0h2.4m15.1 0h2.4m7.6 0h2.4m45.1 0h2.4M95 477.6h2.4m142.6 0h2.4m50.1 0h2.4m122.6 0h2.4m465.1 0h2.4m117.6 0h4.9m307.6 0h2.4M287.5 478.7h2.4m5.1 0h2.4m485.1 0h2.4m352.6 0h2.4M90 479.8h2.4m45.1 0h2.4m40.1 0h2.4m77.6 0h2.4m307.6 0h4.9m170.1 0h4.9m257.6 0h2.4m67.6 0h2.4m12.6 0h2.4m60.1 0h2.4m15.1 0h2.4m220.1 0h2.4M542.5 480.9h2.4m250.1 0h2.4m7.6 0h2.4m40.1 0h2.4m42.6 0h2.4m32.6 0h4.9m162.6 0h2.4m277.6 0h2.4M1162.5 481.9h2.4m167.6 0h2.4M215 483h2.4m20.1 0h2.4m667.6 0h2.4m452.6 0h2.4m5.1 0h2.4M882.5 484.1h2.4m27.6 0h2.4m442.6 0h2.4M445 485.2h2.4m420.1 0h2.4M575 486.3h2.4m337.6 0h2.4M217.5 488.4h4.9m5.1 0h4.9m62.6 0h2.4m240.1 0h2.4m390.1 0h2.4m65.1 0h2.4m140.1 0h2.4m10.1 0h4.9m12.6 0h2.4M27.5 489.5h2.4m10.1 0h2.4m132.6 0h4.9m2.6 0h2.4m12.6 0h2.4m2.6 0h2.4m120.1 0h2.4m250.1 0h2.4m137.6 0h2.4m30.1 0h2.4m70.1 0h2.4m2.6 0h2.4m12.6 0h2.4m42.6 0h4.9m2.6 0h4.9m7.6 0h2.4m25.1 0h2.4m40.1 0h2.4m47.6 0h2.4m32.6 0h7.4m30.1 0h4.9m10.1 0h2.4M225 490.6h2.4m1187.6 0h2.4M122.5 491.7h2.4m20.1 0h2.4m160.1 0h2.4m417.6 0h2.4m187.6 0h2.4m337.6 0h2.4M685 492.7h2.4m282.6 0h2.4M137.5 493.8h4.9m75.1 0h2.4m57.6 0h2.4m7.6 0h2.4m35.1 0h2.4m30.1 0h2.4m2.6 0h2.4m7.6 0h2.4m305.1 0h2.4m302.6 0h2.4m72.6 0h2.4m55.1 0h2.4m30.1 0h2.4m10.1 0h2.4m150.1 0h2.4m50.1 0h2.4M205 496h2.4m600.1 0h2.4M302.5 497h2.4m297.6 0h2.4M732.5 498.1h2.4M12.5 499.2h2.4m5.1 0h2.4m2.6 0h4.9m5.1 0h2.4m15.1 0h2.4m30.1 0h4.9m15.1 0h2.4m5.1 0h2.4m35.1 0h2.4m7.6 0h2.4m15.1 0h7.4m7.6 0h4.9m15.1 0h2.4m7.6 0h2.4m15.1 0h4.9m2.6 0h2.4m2.6 0h2.4m7.6 0h2.4m2.6 0h4.9m17.6 0h4.9m15.1 0h2.4m12.6 0h2.4m2.6 0h4.9m5.1 0h2.4m17.6 0h2.4m20.1 0h2.4m7.6 0h2.4m40.1 0h2.4m10.1 0h2.4m42.6 0h2.4m35.1 0h2.4m7.6 0h7.4m5.1 0h4.9m12.6 0h2.4m17.6 0h2.4m32.6 0h2.4m7.6 0h4.9m5.1 0h2.4m5.1 0h2.4m12.6 0h2.4m30.1 0h2.4m2.6 0h2.4m2.6 0h2.4m7.6 0h7.4m2.6 0h2.4m2.6 0h4.9m2.6 0h2.4m7.6 0h2.4m5.1 0h2.4m20.1 0h7.4m2.6 0h4.9m7.6 0h7.4m10.1 0h2.4m10.1 0h4.9m15.1 0h4.9m7.6 0h2.4m15.1 0h2.4m7.6 0h2.4m2.6 0h4.9m22.6 0h2.4m2.6 0h7.4m15.1 0h2.4m2.6 0h2.4m22.6 0h2.4m5.1 0h2.4m2.6 0h4.9m7.6 0h2.4m12.6 0h4.9m27.6 0h2.4m15.1 0h2.4m2.6 0h2.4m22.6 0h4.9m2.6 0h2.4m2.6 0h7.4m2.6 0h2.4m12.6 0h2.4m5.1 0h7.4m5.1 0h4.9m2.6 0h2.4m2.6 0h4.9m5.1 0h9.9m5.1 0h4.9m5.1 0h7.4m7.6 0h4.9m7.6 0h4.9m30.1 0h2.4m5.1 0h7.4m25.1 0h4.9m10.1 0h2.4m2.6 0h2.4m7.6 0h2.4m5.1 0h4.9m17.6 0h4.9m27.6 0h2.4M35 500.3h2.4m57.6 0h2.4m20.1 0h4.9m7.6 0h2.4m27.6 0h2.4m92.6 0h4.9m42.6 0h2.4m62.6 0h2.4m7.6 0h2.4m25.1 0h4.9m12.6 0h2.4m50.1 0h2.4m57.6 0h2.4m20.1 0h2.4m5.1 0h2.4m35.1 0h2.4m257.6 0h2.4m27.6 0h2.4m162.6 0h2.4m110.1 0h2.4m112.6 0h2.4m30.1 0h2.4m2.6 0h2.4m30.1 0h2.4m17.6 0h2.4m17.6 0h4.9M15 501.4h2.4m15.1 0h2.4m50.1 0h2.4m30.1 0h2.4m47.6 0h2.4m27.6 0h7.4m17.6 0h2.4m47.6 0h4.9m5.1 0h2.4m32.6 0h2.4m90.1 0h2.4m190.1 0h2.4m37.6 0h2.4m5.1 0h2.4m7.6 0h4.9m55.1 0h2.4m45.1 0h2.4m87.6 0h2.4m7.6 0h2.4m30.1 0h2.4m17.6 0h2.4m40.1 0h4.9m10.1 0h2.4m72.6 0h2.4m35.1 0h2.4m42.6 0h2.4m17.6 0h2.4m42.6 0h2.4m10.1 0h2.4m15.1 0h2.4m5.1 0h2.4m42.6 0h2.4m30.1 0h2.4m12.6 0h2.4m32.6 0h2.4M82.5 502.4h2.4m920.1 0h2.4m15.1 0h2.4m117.6 0h2.4M130 503.5h2.4m40.1 0h2.4m30.1 0h2.4m10.1 0h2.4m95.1 0h2.4m17.6 0h2.4m55.1 0h2.4m20.1 0h2.4m37.6 0h2.4m75.1 0h2.4m122.6 0h4.9m252.6 0h2.4m82.6 0h2.4m5.1 0h2.4m27.6 0h2.4m22.6 0h2.4m25.1 0h2.4m20.1 0h2.4m80.1 0h2.4m60.1 0h2.4m97.6 0h2.4m50.1 0h4.9M0 504.6h2.4m182.6 0h7.4m85.1 0h4.9m42.6 0h2.4m27.6 0h2.4m30.1 0h2.4m40.1 0h4.9m25.1 0h2.4m22.6 0h2.4m32.6 0h2.4m2.6 0h2.4m142.6 0h2.4m60.1 0h2.4m35.1 0h2.4m25.1 0h2.4m10.1 0h2.4m37.6 0h4.9m7.6 0h2.4m7.6 0h2.4m5.1 0h2.4m52.6 0h2.4m10.1 0h2.4m5.1 0h2.4m35.1 0h2.4m12.6 0h2.4m47.6 0h2.4m35.1 0h2.4m35.1 0h2.4m17.6 0h2.4m5.1 0h2.4m5.1 0h4.9m2.6 0h2.4m37.6 0h2.4m5.1 0h2.4m7.6 0h2.4m45.1 0h2.4m85.1 0h2.4M7.5 505.7h4.9m55.1 0h2.4m27.6 0h2.4m20.1 0h2.4m10.1 0h2.4m67.6 0h4.9m32.6 0h2.4m25.1 0h12.4m27.6 0h2.4m30.1 0h2.4m25.1 0h2.4m25.1 0h2.4m87.6 0h2.4m35.1 0h2.4m20.1 0h2.4m102.6 0h2.4m12.6 0h2.4m30.1 0h2.4m12.6 0h2.4m12.6 0h2.4m105.1 0h2.4m5.1 0h2.4m22.6 0h2.4m115.1 0h2.4m25.1 0h2.4m15.1 0h2.4m5.1 0h2.4m5.1 0h2.4m67.6 0h4.9m5.1 0h2.4m72.6 0h2.4m17.6 0h2.4m32.6 0h2.4m57.6 0h2.4m65.1 0h4.9M147.5 506.7h2.4m237.6 0h2.4m432.6 0h2.4m25.1 0h2.4m547.6 0h2.4M282.5 507.8h2.4m85.1 0h2.4m357.6 0h4.9m262.6 0h2.4m120.1 0h2.4M97.5 508.9h2.4m45.1 0h2.4m207.6 0h7.4m175.1 0h2.4m20.1 0h4.9m352.6 0h2.4m102.6 0h2.4m30.1 0h4.9m125.1 0h4.9m55.1 0h2.4M192.5 510h2.4m662.6 0h2.4m65.1 0h2.4m32.6 0h4.9M885 511.1h2.4M92.5 512.1h2.4m615.1 0h2.4m70.1 0h2.4m100.1 0h2.4m42.6 0h2.4m42.6 0h2.4m432.6 0h2.4M200 513.2h2.4m425.1 0h2.4m482.6 0h2.4m150.1 0h2.4m42.6 0h4.9M857.5 514.3h2.4m202.6 0h2.4m62.6 0h2.4M87.5 515.4h4.9m25.1 0h2.4m30.1 0h2.4m7.6 0h2.4m50.1 0h4.9m177.6 0h2.4m135.1 0h2.4m387.6 0h2.4m80.1 0h4.9m65.1 0h2.4m145.1 0h2.4m2.6 0h2.4m142.6 0h4.9M90 516.4h2.4m37.6 0h2.4m197.6 0h4.9m2.6 0h2.4m95.1 0h2.4m40.1 0h2.4m27.6 0h2.4m67.6 0h2.4m280.1 0h2.4m22.6 0h2.4m60.1 0h2.4m140.1 0h2.4m27.6 0h2.4m40.1 0h2.4M97.5 517.5h4.9m40.1 0h4.9m17.6 0h2.4m30.1 0h2.4m15.1 0h2.4m102.6 0h2.4m12.6 0h2.4m25.1 0h2.4m72.6 0h2.4m15.1 0h2.4m7.6 0h2.4m47.6 0h2.4m72.6 0h2.4m2.6 0h2.4m72.6 0h2.4m5.1 0h2.4m12.6 0h2.4m50.1 0h2.4m30.1 0h2.4m12.6 0h2.4m50.1 0h2.4m5.1 0h2.4m7.6 0h4.9m32.6 0h2.4m35.1 0h2.4m60.1 0h2.4m15.1 0h2.4m15.1 0h2.4m22.6 0h4.9m12.6 0h4.9m22.6 0h2.4m32.6 0h2.4m10.1 0h2.4m65.1 0h2.4m17.6 0h2.4m27.6 0h4.9m2.6 0h2.4m25.1 0h2.4m10.1 0h2.4m2.6 0h4.9m7.6 0h2.4m7.6 0h9.9m25.1 0h2.4m5.1 0h4.9m2.6 0h2.4m2.6 0h4.9m2.6 0h4.9M72.5 518.6h2.4m50.1 0h2.4m12.6 0h2.4m200.1 0h2.4m130.1 0h2.4m277.6 0h2.4m45.1 0h2.4m232.6 0h2.4m117.6 0h2.4M0 519.7h4.9m7.6 0h2.4m2.6 0h4.9m2.6 0h2.4m195.1 0h2.4m20.1 0h9.9m27.6 0h2.4m2.6 0h2.4m60.1 0h2.4m30.1 0h2.4m7.6 0h2.4m2.6 0h2.4m45.1 0h2.4m55.1 0h2.4m5.1 0h2.4m22.6 0h2.4m300.1 0h2.4m17.6 0h2.4m27.6 0h2.4m7.6 0h2.4m57.6 0h4.9m10.1 0h2.4m7.6 0h4.9m60.1 0h2.4m42.6 0h2.4m105.1 0h2.4m122.6 0h2.4m50.1 0h2.4m12.6 0h2.4M325 520.8h2.4m602.6 0h2.4m430.1 0h2.4M212.5 522.9h2.4m17.6 0h7.4m27.6 0h2.4m12.6 0h4.9m5.1 0h4.9m10.1 0h2.4m2.6 0h2.4m7.6 0h4.9m22.6 0h2.4m57.6 0h4.9m107.6 0h2.4m102.6 0h2.4m20.1 0h2.4m15.1 0h2.4m12.6 0h2.4m5.1 0h4.9m10.1 0h2.4m50.1 0h2.4m15.1 0h2.4m12.6 0h2.4m37.6 0h2.4m22.6 0h2.4m22.6 0h4.9m2.6 0h4.9m5.1 0h2.4m15.1 0h4.9m25.1 0h2.4m15.1 0h2.4m60.1 0h4.9m17.6 0h2.4m17.6 0h2.4m12.6 0h2.4m7.6 0h2.4m17.6 0h2.4m12.6 0h2.4m2.6 0h4.9m2.6 0h2.4m2.6 0h2.4m7.6 0h2.4m10.1 0h2.4m5.1 0h4.9m22.6 0h2.4m30.1 0h2.4m5.1 0h4.9m17.6 0h9.9m30.1 0h2.4m75.1 0h2.4m15.1 0h4.9m5.1 0h2.4M192.5 524h2.4m105.1 0h2.4m230.1 0h2.4m2.6 0h4.9m157.6 0h2.4m35.1 0h4.9m527.6 0h4.9M7.5 525.1h2.4m87.6 0h2.4m32.6 0h2.4m5.1 0h2.4m10.1 0h2.4m22.6 0h2.4m17.6 0h2.4m7.6 0h2.4m5.1 0h7.4m17.6 0h2.4m20.1 0h2.4m5.1 0h2.4m7.6 0h4.9m2.6 0h2.4m2.6 0h2.4m5.1 0h4.9m5.1 0h2.4m5.1 0h4.9m17.6 0h2.4m2.6 0h4.9m2.6 0h2.4m12.6 0h2.4m2.6 0h2.4m2.6 0h2.4m7.6 0h4.9m5.1 0h2.4m5.1 0h2.4m5.1 0h2.4m42.6 0h2.4m2.6 0h2.4m7.6 0h2.4m37.6 0h2.4m5.1 0h2.4m20.1 0h2.4m5.1 0h2.4m2.6 0h2.4m40.1 0h2.4m55.1 0h2.4m32.6 0h4.9m15.1 0h2.4m7.6 0h4.9m12.6 0h2.4m12.6 0h2.4m5.1 0h2.4m7.6 0h2.4m30.1 0h2.4m12.6 0h2.4m7.6 0h2.4m20.1 0h2.4m5.1 0h4.9m2.6 0h2.4m5.1 0h2.4m2.6 0h4.9m12.6 0h2.4m10.1 0h2.4m2.6 0h2.4m2.6 0h2.4m10.1 0h2.4m2.6 0h2.4m2.6 0h4.9m5.1 0h7.4m5.1 0h2.4m7.6 0h4.9m12.6 0h4.9m2.6 0h2.4m17.6 0h4.9m2.6 0h4.9m12.6 0h2.4m2.6 0h2.4m7.6 0h2.4m2.6 0h2.4m2.6 0h2.4m10.1 0h2.4m5.1 0h4.9m2.6 0h4.9m17.6 0h2.4m7.6 0h7.4m5.1 0h2.4m12.6 0h2.4m30.1 0h2.4m12.6 0h2.4m5.1 0h2.4m7.6 0h2.4m2.6 0h2.4m2.6 0h2.4m57.6 0h2.4m7.6 0h4.9m2.6 0h2.4m47.6 0h2.4m22.6 0h2.4M200 526.2h2.4m80.1 0h2.4m22.6 0h4.9m72.6 0h2.4m125.1 0h2.4m105.1 0h2.4m17.6 0h2.4m142.6 0h2.4m240.1 0h2.4m30.1 0h2.4m212.6 0h4.9m112.6 0h2.4M125 527.2h2.4m197.6 0h2.4m17.6 0h2.4m107.6 0h4.9m97.6 0h2.4m302.6 0h2.4m5.1 0h2.4m7.6 0h4.9m77.6 0h7.4m42.6 0h2.4m32.6 0h2.4m85.1 0h2.4m162.6 0h2.4m22.6 0h2.4M885 528.3h2.4m200.1 0h4.9m60.1 0h2.4m177.6 0h2.4M130 529.4h2.4M95 530.5h2.4m247.6 0h2.4m457.6 0h2.4m592.6 0h2.4M85 531.5h2.4m220.1 0h4.9m7.6 0h2.4m45.1 0h4.9m355.1 0h2.4m152.6 0h4.9m17.6 0h2.4m7.6 0h4.9m35.1 0h2.4m17.6 0h2.4m50.1 0h7.4m50.1 0h2.4m77.6 0h2.4m32.6 0h2.4M27.5 532.6h2.4m110.1 0h4.9m47.6 0h2.4m5.1 0h2.4m12.6 0h2.4m7.6 0h2.4m17.6 0h2.4m2.6 0h2.4m222.6 0h2.4m77.6 0h2.4m27.6 0h2.4m25.1 0h2.4m10.1 0h2.4m10.1 0h2.4m102.6 0h4.9m30.1 0h2.4m90.1 0h2.4m17.6 0h2.4m25.1 0h2.4m30.1 0h2.4m57.6 0h2.4M80 533.7h2.4m802.6 0h2.4m110.1 0h2.4m105.1 0h2.4m47.6 0h2.4M10 534.8h2.4m7.6 0h4.9m5.1 0h2.4m2.6 0h4.9m7.6 0h2.4m22.6 0h4.9m12.6 0h2.4m15.1 0h2.4m27.6 0h2.4m20.1 0h4.9m7.6 0h2.4m2.6 0h2.4m17.6 0h2.4m17.6 0h2.4m67.6 0h2.4m25.1 0h2.4m10.1 0h2.4m15.1 0h4.9m2.6 0h2.4m22.6 0h2.4m47.6 0h4.9m7.6 0h2.4m7.6 0h2.4m2.6 0h4.9m77.6 0h2.4m5.1 0h2.4m37.6 0h2.4m5.1 0h2.4m7.6 0h7.4m27.6 0h2.4m5.1 0h2.4m12.6 0h4.9m5.1 0h2.4m55.1 0h2.4m35.1 0h4.9m57.6 0h2.4m7.6 0h2.4m12.6 0h2.4m22.6 0h2.4m20.1 0h2.4m15.1 0h4.9m10.1 0h2.4m7.6 0h2.4m50.1 0h2.4m52.6 0h2.4m2.6 0h2.4m52.6 0h2.4m40.1 0h2.4m12.6 0h2.4m2.6 0h4.9m7.6 0h2.4m22.6 0h2.4m15.1 0h2.4m25.1 0h2.4m110.1 0h4.9m2.6 0h2.4m35.1 0h2.4M330 535.9h2.4m85.1 0h2.4m515.1 0h2.4M1345 536.9h2.4M645 538h2.4m5.1 0h2.4m127.6 0h2.4m52.6 0h2.4m35.1 0h2.4m27.6 0h2.4m25.1 0h4.9m135.1 0h2.4m187.6 0h2.4m67.6 0h2.4M40 539.1h2.4m240.1 0h2.4m17.6 0h2.4m32.6 0h2.4m27.6 0h4.9m230.1 0h2.4m87.6 0h2.4m55.1 0h2.4m152.6 0h2.4m22.6 0h2.4m62.6 0h2.4m110.1 0h4.9m225.1 0h4.9m40.1 0h2.4M47.5 540.2h2.4m65.1 0h2.4m42.6 0h2.4m220.1 0h2.4m65.1 0h2.4m220.1 0h2.4m40.1 0h4.9m100.1 0h4.9m147.6 0h2.4m12.6 0h2.4m15.1 0h2.4m75.1 0h2.4m20.1 0h2.4m25.1 0h2.4m22.6 0h2.4m120.1 0h2.4M15 541.2h2.4m160.1 0h2.4m192.6 0h2.4m27.6 0h2.4m45.1 0h2.4m45.1 0h2.4m30.1 0h2.4m7.6 0h4.9m100.1 0h2.4m7.6 0h2.4m30.1 0h2.4m62.6 0h2.4m322.6 0h2.4m95.1 0h2.4m15.1 0h2.4m15.1 0h2.4m15.1 0h2.4m2.6 0h4.9m5.1 0h2.4m150.1 0h2.4M177.5 542.3h2.4m50.1 0h4.9m17.6 0h4.9m22.6 0h2.4m55.1 0h2.4m77.6 0h2.4m97.6 0h2.4m27.6 0h2.4m5.1 0h2.4m2.6 0h2.4m75.1 0h2.4m2.6 0h2.4m20.1 0h2.4m15.1 0h4.9m12.6 0h2.4m240.1 0h2.4m50.1 0h2.4m17.6 0h2.4m22.6 0h2.4m5.1 0h2.4m52.6 0h2.4m20.1 0h2.4m5.1 0h2.4m10.1 0h2.4m10.1 0h4.9m10.1 0h2.4m5.1 0h2.4m70.1 0h4.9m75.1 0h2.4M175 543.4h2.4m112.6 0h2.4m27.6 0h2.4m92.6 0h2.4m410.1 0h2.4m332.6 0h2.4m40.1 0h2.4M192.5 545.6h2.4m27.6 0h2.4m102.6 0h2.4m367.6 0h2.4M62.5 546.6h2.4m132.6 0h2.4m117.6 0h2.4m52.6 0h2.4m472.6 0h2.4m7.6 0h2.4m387.6 0h2.4m162.6 0h2.4M15 547.7h4.9m15.1 0h2.4m2.6 0h7.4m7.6 0h2.4m2.6 0h4.9m5.1 0h2.4m5.1 0h7.4m27.6 0h9.9m5.1 0h2.4m2.6 0h2.4m5.1 0h4.9m22.6 0h4.9m17.6 0h2.4m27.6 0h4.9m2.6 0h2.4m2.6 0h9.9m20.1 0h9.9m5.1 0h4.9m5.1 0h2.4m2.6 0h4.9m7.6 0h4.9m20.1 0h2.4m47.6 0h2.4m2.6 0h2.4m5.1 0h14.9m5.1 0h2.4m2.6 0h2.4m7.6 0h2.4m2.6 0h2.4m2.6 0h2.4m5.1 0h2.4m7.6 0h12.4m5.1 0h2.4m2.6 0h2.4m7.6 0h14.9m2.6 0h19.9m2.6 0h4.9m2.6 0h7.4m7.6 0h4.9m35.1 0h4.9m2.6 0h4.9m12.6 0h4.9m10.1 0h2.4m55.1 0h2.4m7.6 0h4.9m25.1 0h2.4m2.6 0h2.4m10.1 0h2.4m12.6 0h7.4m2.6 0h4.9m7.6 0h2.4m5.1 0h2.4m40.1 0h7.4m42.6 0h4.9m27.6 0h2.4m5.1 0h9.9m5.1 0h7.4m5.1 0h2.4m10.1 0h4.9m2.6 0h2.4m17.6 0h2.4m2.6 0h4.9m5.1 0h9.9m5.1 0h9.9m2.6 0h2.4m7.6 0h4.9m7.6 0h2.4m12.6 0h2.4m12.6 0h2.4m15.1 0h2.4m10.1 0h2.4m7.6 0h4.9m12.6 0h4.9m12.6 0h2.4m7.6 0h2.4m2.6 0h2.4m7.6 0h2.4m7.6 0h2.4m5.1 0h2.4m20.1 0h14.9m5.1 0h12.4m37.6 0h4.9m5.1 0h4.9m7.6 0h2.4m20.1 0h2.4m2.6 0h4.9m7.6 0h2.4m12.6 0h2.4m2.6 0h2.4m5.1 0h4.9m5.1 0h2.4m15.1 0h2.4M252.5 548.8h4.9m1102.6 0h2.4M820 549.9h2.4m290.1 0h2.4m112.6 0h2.4M1120 551h2.4M145 552h2.4m12.6 0h2.4m17.6 0h2.4m110.1 0h2.4m250.1 0h2.4m37.6 0h4.9m10.1 0h2.4m50.1 0h2.4m17.6 0h2.4m105.1 0h2.4m12.6 0h2.4m67.6 0h2.4m17.6 0h2.4m40.1 0h2.4m2.6 0h9.9m30.1 0h2.4m37.6 0h4.9m12.6 0h2.4m85.1 0h2.4m12.6 0h2.4m167.6 0h2.4m35.1 0h2.4m12.6 0h2.4m20.1 0h2.4M160 553.1h2.4M97.5 554.2h2.4m50.1 0h4.9m67.6 0h4.9m65.1 0h2.4m50.1 0h4.9m155.1 0h2.4m70.1 0h2.4m50.1 0h2.4m12.6 0h2.4m210.1 0h2.4m157.6 0h2.4m40.1 0h2.4m62.6 0h2.4m232.6 0h2.4m35.1 0h2.4M267.5 555.3h2.4m370.1 0h2.4m350.1 0h2.4m30.1 0h2.4M160 556.3h2.4m852.6 0h2.4M75 557.4h2.4m72.6 0h2.4m7.6 0h2.4m167.6 0h2.4m162.6 0h2.4m170.1 0h2.4m270.1 0h2.4m170.1 0h2.4m20.1 0h2.4m162.6 0h2.4M285 558.5h2.4m7.6 0h2.4m117.6 0h2.4m97.6 0h4.9m677.6 0h2.4M335 559.6h4.9m650.1 0h2.4m117.6 0h2.4m15.1 0h2.4m142.6 0h2.4M145 560.7h2.4m35.1 0h2.4M55 561.7h2.4m222.6 0h2.4m110.1 0h2.4m117.6 0h2.4m7.6 0h2.4m100.1 0h2.4m27.6 0h2.4m20.1 0h2.4m72.6 0h2.4m317.6 0h2.4M1152.5 563.9h2.4M87.5 565h2.4m7.6 0h4.9m27.6 0h2.4m12.6 0h7.4m2.6 0h7.4m5.1 0h4.9m5.1 0h2.4m40.1 0h2.4m5.1 0h2.4m22.6 0h2.4m25.1 0h2.4m40.1 0h2.4m10.1 0h2.4m20.1 0h2.4m5.1 0h4.9m125.1 0h2.4m2.6 0h2.4m12.6 0h2.4m25.1 0h2.4m25.1 0h2.4m37.6 0h2.4m85.1 0h2.4m105.1 0h2.4m12.6 0h2.4m65.1 0h2.4m5.1 0h2.4m5.1 0h2.4m12.6 0h2.4m115.1 0h2.4m22.6 0h2.4m20.1 0h2.4m110.1 0h4.9m2.6 0h2.4m92.6 0h4.9m57.6 0h2.4m7.6 0h2.4m2.6 0h2.4m7.6 0h2.4m20.1 0h4.9m2.6 0h2.4M182.5 566h2.4m92.6 0h4.9m55.1 0h2.4m7.6 0h2.4m507.6 0h2.4m80.1 0h2.4m52.6 0h2.4m145.1 0h2.4m165.1 0h2.4m22.6 0h2.4M735 567.1h2.4M207.5 568.2h2.4m30.1 0h2.4M15 569.3h7.4m12.6 0h2.4m10.1 0h2.4m5.1 0h2.4m5.1 0h9.9m2.6 0h2.4m7.6 0h9.9m5.1 0h14.9m7.6 0h2.4m5.1 0h7.4m7.6 0h2.4m12.6 0h12.4m7.6 0h7.4m2.6 0h2.4m2.6 0h4.9m7.6 0h2.4m10.1 0h2.4m7.6 0h7.4m5.1 0h2.4m25.1 0h2.4m5.1 0h4.9m10.1 0h4.9m22.6 0h4.9m2.6 0h2.4m82.6 0h2.4m15.1 0h4.9m7.6 0h2.4m27.6 0h2.4m10.1 0h2.4m5.1 0h12.4m10.1 0h7.4m10.1 0h4.9m10.1 0h4.9m30.1 0h7.4m22.6 0h2.4m37.6 0h7.4m15.1 0h7.4m2.6 0h19.9m5.1 0h2.4m12.6 0h4.9m5.1 0h2.4m2.6 0h2.4m7.6 0h4.9m2.6 0h9.9m7.6 0h2.4m2.6 0h7.4m7.6 0h4.9m10.1 0h2.4m5.1 0h12.4m5.1 0h4.9m22.6 0h4.9m7.6 0h2.4m7.6 0h2.4m10.1 0h12.4m5.1 0h4.9m12.6 0h12.4m22.6 0h4.9m12.6 0h7.4m10.1 0h2.4m22.6 0h9.9m32.6 0h2.4m10.1 0h4.9m15.1 0h2.4m2.6 0h12.4m15.1 0h7.4m12.6 0h7.4m15.1 0h14.9m17.6 0h7.4m2.6 0h2.4m2.6 0h12.4m12.6 0h4.9m25.1 0h4.9m7.6 0h2.4m15.1 0h4.9m10.1 0h2.4m7.6 0h2.4m2.6 0h2.4m20.1 0h2.4m2.6 0h2.4m32.6 0h9.9M402.5 570.4h2.4m52.6 0h4.9M242.5 571.4h4.9m70.1 0h4.9m82.6 0h2.4m65.1 0h2.4m90.1 0h2.4M742.5 572.5h2.4m7.6 0h2.4m47.6 0h2.4m80.1 0h2.4m45.1 0h2.4m7.6 0h2.4m27.6 0h2.4m350.1 0h2.4M412.5 573.6h2.4m315.1 0h2.4m192.6 0h2.4m25.1 0h2.4m70.1 0h4.9m190.1 0h4.9m22.6 0h2.4m122.6 0h2.4M432.5 574.7h2.4m42.6 0h2.4m605.1 0h2.4m70.1 0h2.4M57.5 575.7h4.9m7.6 0h2.4m20.1 0h2.4m20.1 0h2.4m17.6 0h7.4m55.1 0h2.4m22.6 0h2.4m27.6 0h2.4m27.6 0h4.9m57.6 0h2.4m15.1 0h2.4m47.6 0h2.4m7.6 0h2.4m30.1 0h2.4m15.1 0h2.4m7.6 0h2.4m20.1 0h2.4m77.6 0h2.4m7.6 0h2.4m17.6 0h4.9m12.6 0h4.9m140.1 0h2.4m7.6 0h2.4m5.1 0h2.4m27.6 0h2.4m15.1 0h2.4m2.6 0h2.4m42.6 0h4.9m17.6 0h2.4m15.1 0h4.9m5.1 0h2.4m12.6 0h4.9m12.6 0h2.4m10.1 0h2.4m47.6 0h4.9m7.6 0h2.4m30.1 0h7.4m10.1 0h2.4m5.1 0h2.4m22.6 0h2.4m30.1 0h2.4m52.6 0h2.4m50.1 0h2.4m5.1 0h2.4m27.6 0h2.4m35.1 0h2.4M100 576.8h2.4m12.6 0h2.4m42.6 0h2.4m37.6 0h2.4m12.6 0h2.4m15.1 0h2.4m5.1 0h2.4m70.1 0h7.4m30.1 0h2.4m32.6 0h2.4m22.6 0h2.4m65.1 0h2.4m22.6 0h2.4m17.6 0h4.9m22.6 0h2.4m60.1 0h2.4m132.6 0h4.9m90.1 0h7.4m15.1 0h2.4m7.6 0h2.4m12.6 0h2.4m30.1 0h2.4m10.1 0h2.4m5.1 0h2.4m75.1 0h2.4m2.6 0h4.9m5.1 0h2.4m47.6 0h2.4m2.6 0h2.4m10.1 0h2.4m17.6 0h2.4m115.1 0h2.4m30.1 0h2.4m5.1 0h2.4m70.1 0h2.4m10.1 0h2.4m27.6 0h2.4M95 577.9h2.4m12.6 0h2.4m20.1 0h2.4m272.6 0h2.4m192.6 0h2.4m22.6 0h2.4m290.1 0h2.4m30.1 0h2.4m97.6 0h4.9M145 579h2.4m162.6 0h2.4M20 581.1h2.4m12.6 0h2.4m87.6 0h2.4m142.6 0h2.4m32.6 0h2.4m132.6 0h2.4m60.1 0h2.4m7.6 0h2.4m70.1 0h2.4m20.1 0h2.4m222.6 0h2.4m22.6 0h2.4m57.6 0h2.4m10.1 0h2.4m5.1 0h2.4m150.1 0h2.4m2.6 0h2.4m95.1 0h2.4m35.1 0h2.4m82.6 0h2.4m32.6 0h2.4M105 582.2h2.4m40.1 0h2.4m62.6 0h2.4m5.1 0h2.4m40.1 0h2.4m55.1 0h2.4m20.1 0h2.4m80.1 0h2.4m122.6 0h2.4m275.1 0h2.4m87.6 0h2.4m72.6 0h2.4m45.1 0h2.4m32.6 0h2.4m45.1 0h2.4m20.1 0h2.4m27.6 0h2.4m22.6 0h2.4m32.6 0h2.4m22.6 0h2.4m30.1 0h2.4m15.1 0h2.4m82.6 0h4.9m10.1 0h2.4M287.5 583.3h2.4m332.6 0h2.4m142.6 0h2.4m100.1 0h2.4m75.1 0h2.4m37.6 0h2.4M277.5 584.4h2.4m67.6 0h2.4m262.6 0h2.4M130 585.5h2.4m167.6 0h2.4m97.6 0h2.4m72.6 0h2.4m632.6 0h2.4m2.6 0h2.4m142.6 0h2.4M302.5 586.5h2.4m405.1 0h2.4m692.6 0h2.4M7.5 587.6h4.9m47.6 0h4.9m30.1 0h2.4m12.6 0h4.9m12.6 0h7.4m15.1 0h4.9m10.1 0h2.4m10.1 0h4.9m7.6 0h2.4m2.6 0h7.4m5.1 0h4.9m2.6 0h12.4m2.6 0h7.4m5.1 0h7.4m5.1 0h17.4m2.6 0h2.4m2.6 0h2.4m10.1 0h4.9m2.6 0h7.4m12.6 0h4.9m2.6 0h2.4m2.6 0h4.9m7.6 0h2.4m2.6 0h2.4m7.6 0h2.4m7.6 0h7.4m15.1 0h14.9m2.6 0h4.9m7.6 0h2.4m15.1 0h2.4m15.1 0h4.9m5.1 0h2.4m12.6 0h2.4m7.6 0h4.9m20.1 0h2.4m12.6 0h4.9m2.6 0h2.4m7.6 0h2.4m15.1 0h4.9m2.6 0h2.4m12.6 0h9.9m15.1 0h7.4m15.1 0h7.4m2.6 0h4.9m25.1 0h2.4m17.6 0h4.9m5.1 0h7.4m25.1 0h2.4m5.1 0h2.4m35.1 0h4.9m5.1 0h2.4m2.6 0h7.4m5.1 0h7.4m2.6 0h9.9m5.1 0h4.9m5.1 0h4.9m5.1 0h2.4m2.6 0h9.9m5.1 0h4.9m2.6 0h2.4m7.6 0h2.4m2.6 0h2.4m2.6 0h4.9m17.6 0h9.9m5.1 0h2.4m2.6 0h4.9m10.1 0h7.4m5.1 0h7.4m10.1 0h4.9m5.1 0h2.4m2.6 0h2.4m10.1 0h7.4m2.6 0h22.4m5.1 0h14.9m2.6 0h9.9m5.1 0h4.9m5.1 0h4.9m5.1 0h12.4m2.6 0h7.4m5.1 0h2.4m10.1 0h9.9m5.1 0h4.9m2.6 0h2.4m25.1 0h7.4m15.1 0h4.9m22.6 0h2.4m42.6 0h2.4m20.1 0h2.4m2.6 0h2.4m10.1 0h2.4m2.6 0h17.4m20.1 0h2.4m17.6 0h4.9M285 588.7h2.4m62.6 0h2.4m522.6 0h2.4m257.6 0h2.4m247.6 0h2.4M2.5 589.8h2.4m35.1 0h2.4m22.6 0h2.4m12.6 0h2.4m2.6 0h2.4m2.6 0h2.4m10.1 0h2.4m10.1 0h2.4m12.6 0h2.4m2.6 0h2.4m2.6 0h9.9m2.6 0h2.4m7.6 0h9.9m2.6 0h2.4m2.6 0h2.4m10.1 0h2.4m5.1 0h2.4m12.6 0h4.9m10.1 0h4.9m2.6 0h4.9m5.1 0h4.9m2.6 0h2.4m7.6 0h2.4m5.1 0h7.4m5.1 0h2.4m2.6 0h2.4m5.1 0h2.4m27.6 0h7.4m5.1 0h4.9m2.6 0h4.9m22.6 0h2.4m25.1 0h2.4m55.1 0h2.4m12.6 0h2.4m20.1 0h2.4m2.6 0h2.4m17.6 0h2.4m32.6 0h4.9m5.1 0h2.4m12.6 0h2.4m77.6 0h4.9m80.1 0h2.4m20.1 0h2.4m10.1 0h2.4m20.1 0h4.9m12.6 0h2.4m5.1 0h2.4m17.6 0h4.9m15.1 0h4.9m7.6 0h7.4m12.6 0h4.9m12.6 0h4.9m2.6 0h2.4m7.6 0h4.9m5.1 0h4.9m2.6 0h2.4m2.6 0h2.4m2.6 0h12.4m5.1 0h4.9m5.1 0h2.4m2.6 0h2.4m7.6 0h2.4m5.1 0h2.4m10.1 0h2.4m52.6 0h4.9m25.1 0h4.9m25.1 0h2.4m5.1 0h2.4m30.1 0h2.4m5.1 0h2.4m27.6 0h2.4m2.6 0h2.4m25.1 0h2.4m10.1 0h2.4m7.6 0h4.9m5.1 0h2.4m27.6 0h2.4m5.1 0h4.9m5.1 0h2.4m5.1 0h2.4m27.6 0h2.4M57.5 590.8h2.4m75.1 0h2.4m17.6 0h2.4m15.1 0h4.9m25.1 0h2.4m2.6 0h2.4m17.6 0h2.4m30.1 0h4.9m2.6 0h2.4m2.6 0h2.4m12.6 0h2.4m12.6 0h4.9m5.1 0h2.4m22.6 0h7.4m22.6 0h2.4m5.1 0h2.4m27.6 0h2.4m45.1 0h2.4m42.6 0h2.4m5.1 0h2.4m12.6 0h7.4m5.1 0h2.4m15.1 0h2.4m90.1 0h4.9m7.6 0h2.4m27.6 0h2.4m122.6 0h2.4m32.6 0h2.4m15.1 0h2.4m32.6 0h2.4m27.6 0h4.9m22.6 0h2.4m12.6 0h2.4m62.6 0h2.4m22.6 0h2.4m5.1 0h4.9m40.1 0h2.4m47.6 0h2.4m5.1 0h2.4m47.6 0h2.4m72.6 0h2.4m7.6 0h2.4m37.6 0h2.4m17.6 0h2.4m20.1 0h2.4M152.5 591.9h2.4m10.1 0h2.4m137.6 0h2.4m42.6 0h2.4m50.1 0h2.4m60.1 0h2.4m77.6 0h2.4m2.6 0h2.4m340.1 0h2.4m42.6 0h2.4m132.6 0h2.4m220.1 0h4.9m95.1 0h2.4" stroke="#000" stroke-width="2.4" fill="none"/></g>
<path d="M190.0 795.5 190.6 836.8 191.1 791.2 191.7 839.6 192.2 780.3 192.8 843.5 193.3 792.0 193.9 831.6 194.4 782.4 195.0 831.2 195.5 788.4 196.1 832.8 196.6 790.6 197.2 830.0 197.7 793.0 198.3 834.1 198.8 789.2 199.4 832.9 199.9 795.6 200.5 839.6 201.0 781.9 201.6 832.9 202.1 783.5 202.7 840.4 203.2 791.6 203.8 832.7 204.3 787.3 204.9 836.4 205.4 791.4 206.0 831.9 206.5 793.8 207.1 836.5 207.6 791.3 208.2 829.2 208.7 792.6 209.3 834.3 209.8 788.4 210.4 833.0 210.9 794.5 211.5 843.0 212.0 796.0 212.6 842.2 213.1 790.5 213.7 837.3 214.2 781.1 214.8 844.8 215.3 788.2 215.9 843.7 216.4 791.1 217.0 840.7 217.5 788.7 218.1 840.4 218.6 795.2 219.2 843.1 219.7 796.1 220.3 839.6 220.8 800.9 221.4 839.4 221.9 798.6 222.5 835.4 223.0 806.3 223.6 842.2 224.1 797.6 224.7 840.4 225.2 791.2 225.8 833.2 226.3 783.1 226.9 839.1 227.4 795.8 228.0 836.0 228.5 795.6 229.1 834.0 229.6 781.4 230.2 846.1 230.7 771.1 231.3 838.9 231.8 793.0 232.4 836.8 232.9 783.8 233.5 840.6 234.0 790.0 234.6 836.9 235.1 785.9 235.7 841.6 236.2 794.4 236.8 834.3 237.3 794.5 237.9 838.5 238.4 796.7 239.0 842.2 239.5 789.1 240.1 833.6 240.6 786.2 241.2 834.4 241.7 780.4 242.3 840.1 242.8 794.3 243.4 837.0 243.9 795.2 244.5 839.1 245.0 792.6 245.6 854.6 246.1 793.1 246.7 836.6 247.2 789.9 247.8 831.3 248.3 791.2 248.9 839.6 249.4 797.7 250.0 835.7 250.5 789.9 251.1 830.7 251.6 792.4 252.2 836.8 252.7 778.8 253.3 832.8 253.8 786.1 254.4 834.5 254.9 789.1 255.5 833.2 256.0 800.2 256.6 829.9 257.1 775.7 257.7 832.5 258.2 791.2 258.8 833.6 259.3 794.5 259.9 835.4 260.4 798.0 261.0 829.6 261.5 787.4 262.1 837.8 262.6 797.7 263.2 843.0 263.7 794.6 264.3 833.9 264.8 797.7 265.4 846.0 265.9 802.4 266.5 840.4 267.0 797.2 267.6 835.1 268.1 795.7 268.7 843.1 269.2 788.4 269.8 835.2 270.3 796.8 270.9 841.3 271.4 789.9 272.0 840.5 272.5 800.8 273.1 839.8 273.6 794.4 274.2 832.0 274.7 794.8 275.3 843.7 275.8 798.0 276.4 845.6 276.9 793.2 277.5 834.9 278.0 795.5 278.6 835.6 279.1 797.7 279.7 847.9 280.2 789.8 280.8 839.8 281.3 794.8 281.9 841.9 282.4 782.6 283.0 844.2 283.5 787.2 284.1 845.7 284.6 790.4 285.2 840.0 285.7 777.0 286.3 842.2 286.8 778.1 287.4 831.8 287.9 784.4 288.5 835.1 289.0 799.2 289.6 832.5 290.1 781.9 290.7 839.3 291.2 788.8 291.8 841.5 292.3 796.1 292.9 833.4 293.4 790.6 294.0 836.8 294.5 780.4 295.1 829.8 295.6 785.2 296.2 836.2 296.7 796.4 297.3 840.0 297.8 788.0 298.4 833.0 298.9 792.0 299.5 840.7 300.0 793.7 300.6 843.6 301.1 751.2 301.7 838.0 302.2 788.2 302.8 838.2 303.3 798.3 303.9 834.2 304.4 797.0 305.0 839.1 305.5 792.5 306.1 830.4 306.6 798.2 307.2 841.8 307.7 791.3 308.3 840.5 308.8 785.0 309.4 836.6 309.9 801.6 310.5 832.6 311.0 800.8 311.6 830.4 312.1 796.5 312.7 829.0 313.2 798.4 313.8 840.1 314.3 784.1 314.9 852.9 315.4 784.5 316.0 830.5 316.5 772.3 317.1 832.3 317.6 731.0 318.2 834.5 318.7 766.5 319.3 823.1 319.8 773.4 320.4 826.3 320.9 765.2 321.5 822.1 322.0 767.6 322.6 828.4 323.1 752.7 323.7 821.2 324.2 767.3 324.8 820.3 325.3 767.7 325.9 813.7 326.4 768.2 327.0 821.2 327.5 756.5 328.1 819.0 328.6 769.9 329.2 821.3 329.7 754.0 330.3 814.5 330.8 769.5 331.4 819.8 331.9 769.3 332.5 820.1 333.0 767.6 333.6 825.1 334.1 741.0 334.7 815.8 335.2 755.9 335.8 816.7 336.3 763.1 336.9 819.0 337.4 771.6 338.0 818.9 338.5 770.1 339.1 820.2 339.6 772.2 340.2 820.9 340.7 764.1 341.3 815.0 341.8 770.9 342.4 822.1 342.9 764.7 343.5 819.7 344.0 761.9 344.6 810.6 345.1 769.5 345.7 816.7 346.2 763.9 346.8 823.0 347.3 767.2 347.9 815.8 348.4 702.5 349.0 820.7 349.5 764.9 350.1 822.7 350.6 768.7 351.2 819.8 351.7 761.7 352.3 808.3 352.8 756.7 353.4 823.2 353.9 757.8 354.5 809.2 355.0 767.5 355.6 811.2 356.1 758.4 356.7 814.9 357.2 746.7 357.8 823.9 358.3 767.1 358.9 825.7 359.4 767.9 360.0 831.0 360.5 764.7 361.1 814.9 361.6 757.3 362.2 824.7 362.7 763.4 363.3 816.1 363.8 765.8 364.4 820.8 364.9 768.9 365.5 818.3 366.0 761.2 366.6 812.6 367.1 764.6 367.7 817.9 368.2 774.4 368.8 811.8 369.3 764.8 369.9 827.4 370.4 743.4 371.0 815.3 371.5 765.7 372.1 817.2 372.6 744.1 373.2 827.7 373.7 768.3 374.3 819.3 374.8 755.2 375.4 815.5 375.9 761.7 376.5 830.5 377.0 774.5 377.6 816.3 378.1 773.4 378.7 819.7 379.2 769.8 379.8 818.9 380.3 761.1 380.9 821.4 381.4 759.1 382.0 819.5 382.5 759.5 383.1 815.2 383.6 763.7 384.2 822.1 384.7 731.0 385.3 819.4 385.8 756.4 386.4 810.2 386.9 724.6 387.5 811.5 388.0 769.9 388.6 818.6 389.1 764.7 389.7 842.9 390.2 752.5 390.8 820.0 391.3 727.9 391.9 815.3 392.4 757.9 393.0 820.6 393.5 751.0 394.1 816.3 394.6 767.8 395.2 820.7 395.7 760.6 396.3 818.7 396.8 753.3 397.4 814.2 397.9 759.6 398.5 819.1 399.0 767.6 399.6 807.9 400.1 752.0 400.7 814.1 401.2 766.1 401.8 808.5 402.3 767.9 402.9 809.1 403.4 754.5 404.0 812.7 404.5 771.9 405.1 815.8 405.6 770.3 406.2 817.9 406.7 755.2 407.3 827.0 407.8 769.2 408.4 819.0 408.9 748.0 409.5 825.6 410.0 767.9 410.6 817.3 411.1 718.3 411.7 816.7 412.2 735.0 412.8 823.5 413.3 768.5 413.9 821.1 414.4 748.7 415.0 817.3 415.5 774.6 416.1 819.0 416.6 760.1 417.2 814.5 417.7 775.6 418.3 823.6 418.8 763.0 419.4 821.3 419.9 767.2 420.5 824.0 421.0 767.7 421.6 813.3 422.1 756.8 422.7 816.8 423.2 770.8 423.8 814.6 424.3 765.5 424.9 816.6 425.4 756.1 426.0 819.4 426.5 763.5 427.1 814.3 427.6 754.9 428.2 825.0 428.7 763.4 429.3 810.4 429.8 762.5 430.4 808.8 430.9 759.9 431.5 810.2 432.0 765.6 432.6 810.9 433.1 751.1 433.7 818.4 434.2 760.4 434.8 821.0 435.3 768.2 435.9 824.6 436.4 763.0 437.0 818.4 437.5 741.6 438.1 831.8 438.6 743.8 439.2 817.7 439.7 771.5 440.3 827.4 440.8 759.4 441.4 820.5 441.9 764.8 442.5 819.5 443.0 756.7 443.6 844.3 444.1 766.2 444.7 821.7 445.2 772.4 445.8 828.3 446.3 749.1 446.9 817.2 447.4 751.1 448.0 825.4 448.5 770.5 449.1 813.9 449.6 734.2 450.2 814.6 450.7 770.7 451.3 808.2 451.8 761.4 452.4 819.2 452.9 766.4 453.5 817.5 454.0 762.1 454.6 813.9 455.1 759.9 455.7 818.5 456.2 759.5 456.8 815.1 457.3 762.2 457.9 815.4 458.4 727.6 459.0 818.8 459.5 766.1 460.1 813.3 460.6 764.9 461.2 817.8 461.7 764.1 462.3 813.0 462.8 761.9 463.4 810.1 463.9 751.5 464.5 827.3 465.0 760.9 465.6 822.2 466.1 765.2 466.7 821.0 467.2 769.5 467.8 825.3 468.3 763.4 468.9 824.0 469.4 767.4 470.0 827.9 470.5 749.3 471.1 814.9 471.6 764.5 472.2 817.4 472.7 754.2 473.3 809.9 473.8 766.1 474.4 818.7 474.9 757.8 475.5 813.3 476.0 762.4 476.6 814.7 477.1 762.8 477.7 824.2 478.2 759.6 478.8 815.8 479.3 761.8 479.9 816.4 480.4 761.1 481.0 816.0 481.5 765.0 482.1 819.1 482.6 737.3 483.2 814.3 483.7 774.0 484.3 823.6 484.8 767.7 485.4 827.6 485.9 764.0 486.5 817.9 487.0 753.0 487.6 815.7 488.1 765.7 488.7 831.2 489.2 773.5 489.8 816.7 490.3 777.0 490.9 827.7 491.4 736.0 492.0 826.6 492.5 770.1 493.1 828.7 493.6 753.6 494.2 836.5 494.7 749.8 495.3 816.0 495.8 771.3 496.4 821.9 496.9 777.3 497.5 816.7 498.0 743.4 498.6 832.9 499.1 745.8 499.7 827.7 500.2 771.9 500.8 830.2 501.3 765.0 501.9 826.2 502.4 772.1 503.0 822.8 503.5 775.3 504.1 832.4 504.6 773.4 505.2 820.7 505.7 777.5 506.3 832.2 506.8 771.0 507.4 828.3 507.9 762.8 508.5 826.4 509.0 767.0 509.6 826.5 510.1 777.2 510.7 835.1 511.2 769.4 511.8 821.5 512.3 772.7 512.9 832.1 513.4 780.0 514.0 842.7 514.5 779.8 515.1 824.9 515.6 778.4 516.2 825.3 516.7 786.1 517.3 832.1 517.8 775.5 518.4 823.8 518.9 778.4 519.5 822.5 520.0 765.3 520.6 841.5 521.1 784.2 521.7 826.9 522.2 777.5 522.8 824.7 523.3 765.3 523.9 822.0 524.4 772.6 525.0 825.4 525.5 781.9 526.1 820.9 526.6 791.3 527.2 833.4 527.7 760.1 528.3 827.5 528.8 779.8 529.4 831.5 529.9 774.7 530.5 834.2 531.0 786.9 531.6 840.3 532.1 784.3 532.7 826.9 533.2 783.2 533.8 830.1 534.3 790.3 534.9 823.4 535.4 788.9 536.0 827.2 536.5 786.2 537.1 825.8 537.6 775.4 538.2 831.5 538.7 783.6 539.3 832.7 539.8 786.9 540.4 832.9 540.9 775.0 541.5 826.2 542.0 769.0 542.6 834.3 543.1 790.0 543.7 834.8 544.2 781.3 544.8 839.1 545.3 787.4 545.9 828.2 546.4 785.5 547.0 828.2 547.5 787.7 548.1 835.2 548.6 774.6 549.2 838.3 549.7 793.5 550.3 837.6 550.8 760.8 551.4 831.5 551.9 798.6 552.5 837.7 553.0 733.2 553.6 832.5 554.1 787.7 554.7 835.0 555.2 785.9 555.8 830.6 556.3 779.3 556.9 832.2 557.4 793.0 558.0 835.3 558.5 795.4 559.1 833.4 559.6 790.3 560.2 827.5 560.7 789.3 561.3 835.2 561.8 796.3 562.4 831.5 562.9 792.1 563.5 834.5 564.0 782.2 564.6 836.4 565.1 791.6 565.7 847.7 566.2 778.5 566.8 831.6 567.3 776.4 567.9 834.1 568.4 787.6 569.0 836.5 569.5 785.4 570.1 832.2 570.6 786.1 571.2 831.7 571.7 789.8 572.3 829.8 572.8 791.0 573.4 825.4 573.9 797.6 574.5 829.9 575.0 786.3 575.6 837.7 576.1 788.7 576.7 837.1 577.2 795.2 577.8 834.4 578.3 795.2 578.9 836.9 579.4 779.4 580.0 828.4 580.5 790.2 581.1 832.0 581.6 798.3 582.2 833.7 582.7 780.4 583.3 829.4 583.8 795.2 584.4 842.9 584.9 801.6 585.5 832.4 586.0 789.7 586.6 843.2 587.1 799.4 587.7 838.3 588.2 800.3 588.8 833.3 589.3 784.1 589.9 834.7 590.4 792.8 591.0 833.7 591.5 798.7 592.1 840.0 592.6 776.7 593.2 834.8 593.7 776.2 594.3 833.7 594.8 798.0 595.4 836.6 595.9 786.2 596.5 833.5 597.0 786.4 597.6 835.7 598.1 778.9 598.7 839.3 599.2 776.2 599.8 842.8 600.3 784.6 600.9 840.5 601.4 790.6 602.0 845.0 602.5 799.0 603.1 836.5 603.6 790.4 604.2 839.2 604.7 793.5 605.3 847.1 605.8 800.0 606.4 829.7 606.9 714.2 607.5 838.0 608.0 796.2 608.6 837.4 609.1 794.0 609.7 837.0 610.2 794.0 610.8 852.8 611.3 793.4 611.9 840.0 612.4 794.3 613.0 841.3 613.5 784.3 614.1 835.8 614.6 793.3 615.2 838.2 615.7 790.8 616.3 830.9 616.8 785.6 617.4 831.4 617.9 789.1 618.5 839.7 619.0 774.6 619.6 832.2 620.1 789.2 620.7 826.6 621.2 788.8 621.8 832.5 622.3 787.8 622.9 833.8 623.4 799.0 624.0 843.8 624.5 799.0 625.1 845.9 625.6 795.1 626.2 830.2 626.7 798.3 627.3 833.8 627.8 792.9 628.4 833.4 628.9 772.9 629.5 833.6 630.0 791.1 630.6 835.7 631.1 801.7 631.7 834.7 632.2 798.8 632.8 844.8 633.3 792.5 633.9 832.0 634.4 794.4 635.0 839.3 635.5 773.8 636.1 841.8 636.6 799.1 637.2 830.7 637.7 803.1 638.3 834.0 638.8 792.8 639.4 840.6 639.9 789.2 640.5 846.6 641.0 784.1 641.6 828.6 642.1 777.2 642.7 833.8 643.2 789.5 643.8 837.2 644.3 789.4 644.9 832.5 645.4 792.8 646.0 837.3 646.5 785.8 647.1 837.5 647.6 782.7 648.2 835.1 648.7 790.3 649.3 836.7 649.8 788.4 650.4 845.6 650.9 790.5 651.5 839.0 652.0 788.2 652.6 848.7 653.1 790.6 653.7 833.1 654.2 780.7 654.8 833.8 655.3 790.5 655.9 829.9 656.4 788.8 657.0 835.0 657.5 788.4 658.1 836.0 658.6 794.3 659.2 841.1 659.7 785.7 660.3 844.5 660.8 763.2 661.4 846.7 661.9 795.3 662.5 842.1 663.0 782.7 663.6 841.4 664.1 705.7 664.7 847.0 665.2 783.5 665.8 834.0 666.3 792.3 666.9 835.0 667.4 791.8 668.0 835.2 668.5 793.0 669.1 834.4 669.6 795.8 670.2 834.0 670.7 791.8 671.3 837.0 671.8 787.4 672.4 830.4 672.9 789.2 673.5 834.8 674.0 789.6 674.6 834.1 675.1 792.4 675.7 832.3 676.2 794.8 676.8 838.6 677.3 785.9 677.9 837.0 678.4 792.2 679.0 838.0 679.5 765.6 680.1 836.7 680.6 785.8 681.2 834.7 681.7 778.7 682.3 828.9 682.8 785.7 683.4 834.3 683.9 788.7 684.5 836.0 685.0 793.6 685.6 844.9 686.1 795.3 686.7 838.2 687.2 793.8 687.8 841.1 688.3 784.1 688.9 844.9 689.4 797.3 690.0 836.3 690.5 783.8 691.1 834.4 691.6 791.2 692.2 835.9 692.7 785.0 693.3 844.4 693.8 788.8 694.4 836.3 694.9 795.0 695.5 841.1 696.0 794.3 696.6 837.5 697.1 788.0 697.7 841.5 698.2 781.2 698.8 839.8 699.3 791.3 699.9 851.0 700.4 797.7 701.0 838.2 701.5 776.9 702.1 836.4 702.6 788.2 703.2 839.0 703.7 799.6 704.3 840.1 704.8 800.7 705.4 836.8 705.9 787.1 706.5 835.7 707.0 791.1 707.6 835.0 708.1 800.1 708.7 835.1 709.2 791.0 709.8 844.5 710.3 786.0 710.9 838.2 711.4 787.2 712.0 840.0 712.5 798.2 713.1 839.1 713.6 781.5 714.2 837.4 714.7 799.6 715.3 833.7 715.8 796.0 716.4 840.5 716.9 793.3 717.5 834.6 718.0 796.9 718.6 831.7 719.1 799.5 719.7 849.7 720.2 797.9 720.8 844.4 721.3 792.9 721.9 835.4 722.4 798.5 723.0 841.4 723.5 800.2 724.1 837.1 724.6 790.1 725.2 833.5 725.7 776.4 726.3 830.7 726.8 790.1 727.4 841.4 727.9 734.1 728.5 845.7 729.0 782.5 729.6 842.8 730.1 778.1 730.7 839.9 731.2 788.3 731.8 834.4 732.3 793.1 732.9 842.4 733.4 778.3 734.0 836.7 734.5 774.8 735.1 837.6 735.6 791.8 736.2 833.8 736.7 771.3 737.3 841.4 737.8 776.7 738.4 838.9 738.9 782.6 739.5 841.6 740.0 788.8 740.6 835.7 741.1 797.7 741.7 839.2 742.2 795.6 742.8 832.6 743.3 788.3 743.9 840.0 744.4 794.8 745.0 846.3 745.5 790.6 746.1 830.4 746.6 797.8 747.2 833.0 747.7 797.0 748.3 844.8 748.8 800.7 749.4 834.2 749.9 795.0 750.5 832.2 751.0 799.0 751.6 835.3 752.1 794.9 752.7 834.9 753.2 792.5 753.8 833.2 754.3 798.2 754.9 839.5 755.4 799.0 756.0 833.4 756.5 789.0 757.1 837.4 757.6 795.1 758.2 836.8 758.7 792.1 759.3 832.6 759.8 793.4 760.4 838.1 760.9 782.1 761.5 846.9 762.0 793.3 762.6 838.2 763.1 797.6 763.7 835.1 764.2 790.8 764.8 838.9 765.3 779.1 765.9 842.9 766.4 793.9 767.0 836.8 767.5 787.4 768.1 838.6 768.6 789.0 769.2 841.9 769.7 782.7 770.3 843.8 770.8 789.1 771.4 831.4 771.9 786.9 772.5 829.2 773.0 796.6 773.6 830.2 774.1 771.8 774.7 828.7 775.2 793.6 775.8 829.9 776.3 795.3 776.9 844.4 777.4 793.8 778.0 832.6 778.5 797.5 779.1 832.6 779.6 795.8 780.2 838.3 780.7 799.5 781.3 839.7 781.8 789.7 782.4 843.1 782.9 785.0 783.5 841.6 784.0 785.4 784.6 839.3 785.1 798.5 785.7 840.9 786.2 796.4 786.8 838.1 787.3 783.5 787.9 836.9 788.4 789.2 789.0 835.8 789.5 792.1 790.1 833.5 790.6 795.9 791.2 834.6 791.7 784.1 792.3 836.6 792.8 774.7 793.4 845.7 793.9 777.6 794.5 839.9 795.0 782.0 795.6 832.9 796.1 794.2 796.7 846.4 797.2 759.7 797.8 839.0 798.3 790.4 798.9 842.0 799.4 780.6 800.0 832.9 800.5 792.5 801.1 833.4 801.6 789.3 802.2 836.4 802.7 789.5 803.3 839.5 803.8 791.1 804.4 847.2 804.9 802.6 805.5 846.1 806.0 790.0 806.6 838.4 807.1 781.2 807.7 843.7 808.2 799.4 808.8 841.0 809.3 790.6 809.9 832.9 810.4 797.0 811.0 832.0 811.5 790.5 812.1 834.5 812.6 785.0 813.2 836.3 813.7 795.9 814.3 833.8 814.8 796.5 815.4 836.0 815.9 800.4 816.5 842.7 817.0 788.3 817.6 845.7 818.1 797.0 818.7 835.8 819.2 798.4 819.8 833.6 820.3 792.9 820.9 832.8 821.4 797.2 822.0 841.4 822.5 790.9 823.1 828.6 823.6 779.2 824.2 833.2 824.7 763.2 825.3 834.2 825.8 777.7 826.4 837.8 826.9 798.4 827.5 833.5 828.0 791.3 828.6 850.0 829.1 782.4 829.7 843.0 830.2 790.1 830.8 832.6 831.3 795.8 831.9 828.3 832.4 787.6 833.0 841.4 833.5 792.6 834.1 832.1 834.6 787.3 835.2 831.2 835.7 794.9 836.3 841.9 836.8 788.3 837.4 833.2 837.9 790.5 838.5 838.2 839.0 786.7 839.6 848.1 840.1 781.5 840.7 842.8 841.2 783.9 841.8 838.6 842.3 800.8 842.9 838.0 843.4 780.5 844.0 845.0 844.5 795.5 845.1 833.8 845.6 802.2 846.2 841.6 846.7 796.2 847.3 838.4 847.8 787.0 848.4 838.1 848.9 789.5 849.5 839.6 850.0 793.5 850.6 835.2 851.1 795.8 851.7 834.4 852.2 787.7 852.8 836.8 853.3 794.0 853.9 836.8 854.4 773.6 855.0 846.3 855.5 795.4 856.1 831.9 856.6 799.3 857.2 838.7 857.7 790.7 858.3 833.3 858.8 798.4 859.4 828.7 859.9 789.6 860.5 834.8 861.0 797.0 861.6 832.8 862.1 775.6 862.7 838.1 863.2 786.0 863.8 845.0 864.3 787.9 864.9 835.8 865.4 765.7 866.0 838.3 866.5 787.8 867.1 838.4 867.6 780.0 868.2 828.4 868.7 792.1 869.3 831.7 869.8 789.4 870.4 835.5 870.9 780.1 871.5 832.4 872.0 800.6 872.6 840.0 873.1 798.4 873.7 836.5 874.2 791.7 874.8 845.3 875.3 794.1 875.9 841.4 876.4 797.5 877.0 843.2 877.5 782.9 878.1 836.9 878.6 790.9 879.2 835.3 879.7 791.1 880.3 839.4 880.8 789.5 881.4 838.8 881.9 780.9 882.5 837.1 883.0 788.3 883.6 852.5 884.1 780.3 884.7 835.0 885.2 733.2 885.8 837.3 886.3 796.9 886.9 841.2 887.4 781.3 888.0 830.5 888.5 791.8 889.1 830.3 889.6 783.2 890.2 833.5 890.7 779.7 891.3 832.7 891.8 756.0 892.4 835.8 892.9 784.6 893.5 834.3 894.0 794.6 894.6 834.9 895.1 788.7 895.7 833.8 896.2 793.3 896.8 832.6 897.3 777.7 897.9 834.0 898.4 775.0 899.0 833.2 899.5 786.7 900.1 845.1 900.6 794.9 901.2 836.6 901.7 798.3 902.3 834.3 902.8 787.0 903.4 838.4 903.9 788.5 904.5 837.6 905.0 790.1 905.6 831.1 906.1 790.4 906.7 834.6 907.2 787.2 907.8 832.1 908.3 795.3 908.9 827.9 909.4 795.2 910.0 838.6 910.5 785.3 911.1 834.1 911.6 787.8 912.2 851.9 912.7 795.4 913.3 840.2 913.8 791.7 914.4 838.0 914.9 729.8 915.5 839.5 916.0 788.3 916.6 842.2 917.1 801.6 917.7 841.2 918.2 803.5 918.8 838.3 919.3 801.8 919.9 853.2 920.4 733.2 921.0 840.1 921.5 793.4 922.1 851.3 922.6 783.8 923.2 838.0 923.7 797.0 924.3 838.2 924.8 784.8 925.4 833.1 925.9 783.2 926.5 833.1 927.0 775.0 927.6 838.4 928.1 785.9 928.7 835.5 929.2 793.0 929.8 830.8 930.3 778.6 930.9 836.9 931.4 794.4 932.0 834.3 932.5 802.8 933.1 832.8 933.6 797.2 934.2 834.2 934.7 799.4 935.3 837.0 935.8 789.1 936.4 839.8 936.9 786.0 937.5 839.4 938.0 800.1 938.6 841.7 939.1 802.3 939.7 842.8 940.2 802.8 940.8 844.4 941.3 787.2 941.9 842.8 942.4 789.1 943.0 832.8 943.5 788.8 944.1 835.1 944.6 777.5 945.2 838.4 945.7 788.0 946.3 830.5 946.8 778.6 947.4 831.7 947.9 793.8 948.5 835.1 949.0 797.9 949.6 829.5 950.1 776.0 950.7 832.9 951.2 787.4 951.8 836.7 952.3 777.0 952.9 840.8 953.4 778.5 954.0 837.7 954.5 780.8 955.1 831.6 955.6 785.0 956.2 834.5 956.7 783.6 957.3 836.2 957.8 768.3 958.4 837.5 958.9 788.4 959.5 848.1 960.0 795.5 960.6 839.4 961.1 789.3 961.7 835.9 962.2 794.2 962.8 836.9 963.3 797.9 963.9 834.0 964.4 799.7 965.0 834.4 965.5 799.2 966.1 842.8 966.6 792.3 967.2 848.0 967.7 776.6 968.3 838.0 968.8 788.6 969.4 836.0 969.9 791.6 970.5 836.2 971.0 715.2 971.6 846.8 972.1 785.3 972.7 838.2 973.2 793.8 973.8 838.1 974.3 795.5 974.9 833.6 975.4 797.6 976.0 842.2 976.5 802.5 977.1 830.8 977.6 796.7 978.2 830.8 978.7 792.3 979.3 833.1 979.8 797.0 980.4 831.5 980.9 796.0 981.5 844.1 982.0 791.0 982.6 842.5 983.1 800.0 983.7 842.9 984.2 792.6 984.8 841.9 985.3 799.8 985.9 844.9 986.4 794.0 987.0 837.2 987.5 785.2 988.1 836.7 988.6 788.3 989.2 847.3 989.7 792.5 990.3 832.4 990.8 791.9 991.4 838.7 991.9 779.6 992.5 832.3 993.0 794.7 993.6 833.4 994.1 782.8 994.7 831.6 995.2 794.7 995.8 843.1 996.3 767.0 996.9 833.8 997.4 766.7 998.0 824.0 998.5 773.2 999.1 826.9 999.6 778.3 1000.2 818.4 1000.7 774.9 1001.3 809.2 1001.8 772.3 1002.4 806.2 1002.9 768.7 1003.5 800.8 1004.0 763.4 1004.6 812.5 1005.1 753.6 1005.7 813.9 1006.2 759.7 1006.8 814.1 1007.3 762.3 1007.9 815.6 1008.4 756.1 1009.0 816.3 1009.5 756.7 1010.1 812.8 1010.6 749.0 1011.2 812.8 1011.7 762.4 1012.3 808.3 1012.8 767.5 1013.4 811.7 1013.9 767.1 1014.5 804.2 1015.0 769.1 1015.6 803.2 1016.1 743.6 1016.7 809.0 1017.2 773.5 1017.8 808.9 1018.3 764.8 1018.9 807.1 1019.4 753.4 1020.0 808.7 1020.5 736.0 1021.1 810.9 1021.6 761.9 1022.2 822.4 1022.7 769.0 1023.3 806.8 1023.8 759.3 1024.4 815.6 1024.9 761.4 1025.5 814.2 1026.0 763.1 1026.6 813.6 1027.1 763.5 1027.7 808.5 1028.2 758.8 1028.8 809.2 1029.3 762.4 1029.9 808.0 1030.4 762.5 1031.0 812.4 1031.5 747.1 1032.1 815.9 1032.6 765.7 1033.2 816.9 1033.7 759.8 1034.3 813.9 1034.8 770.8 1035.4 818.9 1035.9 753.0 1036.5 806.0 1037.0 767.9 1037.6 817.5 1038.1 769.8 1038.7 823.5 1039.2 756.2 1039.8 822.4 1040.3 771.1 1040.9 815.7 1041.4 749.3 1042.0 819.3 1042.5 750.7 1043.1 815.9 1043.6 763.6 1044.2 814.6 1044.7 753.1 1045.3 818.2 1045.8 716.1 1046.4 821.5 1046.9 763.7 1047.5 822.3 1048.0 764.1 1048.6 819.0 1049.1 758.8 1049.7 811.7 1050.2 765.3 1050.8 810.5 1051.3 761.3 1051.9 810.8 1052.4 765.2 1053.0 810.0 1053.5 762.0 1054.1 816.1 1054.6 754.7 1055.2 811.8 1055.7 742.1 1056.3 814.4 1056.8 760.3 1057.4 808.9 1057.9 768.5 1058.5 809.9 1059.0 764.8 1059.6 814.0 1060.1 772.3 1060.7 807.3 1061.2 771.2 1061.8 807.0 1062.3 756.5 1062.9 811.1 1063.4 747.7 1064.0 816.6 1064.5 764.6 1065.1 815.5 1065.6 760.3 1066.2 819.8 1066.7 755.0 1067.3 805.8 1067.8 759.2 1068.4 816.8 1068.9 758.9 1069.5 818.7 1070.0 755.7 1070.6 806.3 1071.1 735.6 1071.7 817.7 1072.2 757.3 1072.8 809.9 1073.3 738.2 1073.9 804.5 1074.4 768.2 1075.0 810.7 1075.5 764.1 1076.1 819.6 1076.6 769.2 1077.2 815.8 1077.7 769.8 1078.3 808.6 1078.8 761.3 1079.4 813.8 1079.9 757.7 1080.5 818.8 1081.0 773.5 1081.6 815.8 1082.1 720.5 1082.7 815.4 1083.2 772.3 1083.8 820.5 1084.3 757.1 1084.9 815.9 1085.4 767.0 1086.0 815.1 1086.5 766.0 1087.1 816.3 1087.6 768.7 1088.2 813.1 1088.7 729.1 1089.3 811.2 1089.8 764.9 1090.4 817.7 1090.9 764.1 1091.5 808.5 1092.0 766.2 1092.6 815.9 1093.1 755.0 1093.7 815.2 1094.2 771.9 1094.8 820.6 1095.3 763.5 1095.9 806.3 1096.4 765.4 1097.0 821.4 1097.5 769.7 1098.1 818.4 1098.6 750.0 1099.2 820.2 1099.7 770.1 1100.3 811.5 1100.8 773.0 1101.4 808.7 1101.9 754.5 1102.5 813.0 1103.0 769.0 1103.6 808.3 1104.1 740.2 1104.7 814.0 1105.2 760.0 1105.8 818.0 1106.3 744.6 1106.9 815.4 1107.4 759.4 1108.0 816.0 1108.5 757.4 1109.1 812.9 1109.6 755.2 1110.2 823.9 1110.7 757.6 1111.3 816.3 1111.8 751.5 1112.4 821.8 1112.9 769.5 1113.5 814.1 1114.0 769.5 1114.6 816.8 1115.1 768.1 1115.7 819.8 1116.2 756.8 1116.8 810.9 1117.3 757.3 1117.9 813.4 1118.4 764.7 1119.0 808.1 1119.5 733.2 1120.1 814.2 1120.6 762.0 1121.2 817.1 1121.7 764.2 1122.3 807.9 1122.8 767.4 1123.4 812.4 1123.9 741.6 1124.5 808.5 1125.0 767.9 1125.6 809.6 1126.1 768.9 1126.7 809.3 1127.2 761.7 1127.8 815.0 1128.3 762.0 1128.9 817.2 1129.4 772.2 1130.0 808.2 1130.5 762.4 1131.1 810.0 1131.6 751.0 1132.2 820.7 1132.7 758.9 1133.3 807.9 1133.8 759.2 1134.4 816.5 1134.9 760.9 1135.5 809.1 1136.0 740.2 1136.6 810.8 1137.1 763.1 1137.7 819.6 1138.2 756.9 1138.8 822.8 1139.3 750.9 1139.9 811.7 1140.4 769.5 1141.0 808.8 1141.5 762.1 1142.1 819.2 1142.6 767.9 1143.2 804.1 1143.7 767.8 1144.3 802.7 1144.8 737.1 1145.4 810.8 1145.9 767.5 1146.5 819.8 1147.0 761.5 1147.6 804.6 1148.1 770.0 1148.7 811.6 1149.2 768.6 1149.8 813.5 1150.3 764.1 1150.9 806.7 1151.4 759.7 1152.0 819.8 1152.5 759.8 1153.1 829.7 1153.6 770.2 1154.2 821.5 1154.7 761.1 1155.3 813.9 1155.8 766.1 1156.4 826.1 1156.9 763.7 1157.5 810.2 1158.0 760.9 1158.6 816.7 1159.1 766.9 1159.7 822.7 1160.2 770.8 1160.8 821.5 1161.3 767.7 1161.9 830.3 1162.4 764.7 1163.0 809.0 1163.5 767.1 1164.1 811.3 1164.6 771.1 1165.2 818.5 1165.7 760.8 1166.3 821.7 1166.8 737.8 1167.4 811.0 1167.9 757.5 1168.5 818.4 1169.0 766.0 1169.6 807.5 1170.1 767.3 1170.7 812.8 1171.2 761.6 1171.8 808.5 1172.3 752.4 1172.9 808.3 1173.4 757.6 1174.0 806.3 1174.5 754.2 1175.1 807.6 1175.6 753.7 1176.2 807.9 1176.7 755.2 1177.3 821.8 1177.8 769.6 1178.4 821.0 1178.9 746.2 1179.5 811.8 1180.0 756.6 1180.6 808.9 1181.1 756.5 1181.7 821.1 1182.2 762.7 1182.8 814.8 1183.3 702.5 1183.9 819.6 1184.4 725.7 1185.0 819.1 1185.5 745.4 1186.1 812.0 1186.6 741.8 1187.2 813.9 1187.7 764.3 1188.3 804.2 1188.8 756.9 1189.4 811.7 1189.9 739.1 1190.5 812.0 1191.0 767.8 1191.6 809.6 1192.1 774.7 1192.7 808.9 1193.2 773.8 1193.8 815.3 1194.3 761.8 1194.9 810.0 1195.4 753.7 1196.0 804.7 1196.5 763.1 1197.1 815.9 1197.6 765.7 1198.2 814.1 1198.7 738.4 1199.3 812.9 1199.8 760.2 1200.4 811.8 1200.9 769.9 1201.5 828.1 1202.0 766.6 1202.6 807.5 1203.1 772.5 1203.7 819.4 1204.2 771.8 1204.8 813.0 1205.3 761.7 1205.9 812.4 1206.4 762.9 1207.0 805.2 1207.5 767.8 1208.1 809.4 1208.6 754.3 1209.2 814.5 1209.7 761.2 1210.3 814.2 1210.8 770.1 1211.4 811.9 1211.9 749.7 1212.5 807.0 1213.0 745.4 1213.6 815.8 1214.1 764.3 1214.7 805.2 1215.2 724.8 1215.8 816.8 1216.3 764.7 1216.9 806.2 1217.4 758.7 1218.0 817.0 1218.5 772.8 1219.1 814.5 1219.6 744.1 1220.2 809.7 1220.7 764.6 1221.3 816.0 1221.8 764.5 1222.4 819.6 1222.9 771.7 1223.5 810.0 1224.0 771.4 1224.6 822.5 1225.1 771.7 1225.7 815.1 1226.2 770.8 1226.8 809.7 1227.3 765.4 1227.9 814.7 1228.4 755.7 1229.0 807.9 1229.5 758.4 1230.1 810.7 1230.6 758.8 1231.2 811.4 1231.7 762.4 1232.3 815.4 1232.8 758.4 1233.4 811.2 1233.9 760.2 1234.5 813.0 1235.0 763.1 1235.6 816.6 1236.1 769.5 1236.7 811.0 1237.2 760.6 1237.8 819.2 1238.3 767.3 1238.9 812.7 1239.4 761.2 1240.0 817.7 1240.5 754.2 1241.1 812.5 1241.6 767.7 1242.2 811.4 1242.7 754.0 1243.3 817.2 1243.8 764.2 1244.4 811.6 1244.9 761.0 1245.5 814.1 1246.0 761.8 1246.6 815.6 1247.1 752.1 1247.7 807.3 1248.2 765.4 1248.8 813.4 1249.3 760.8 1249.9 813.3 1250.4 770.9 1251.0 813.9 1251.5 751.5 1252.1 812.9 1252.6 762.5 1253.2 811.2 1253.7 769.6 1254.3 817.7 1254.8 763.2 1255.4 810.9 1255.9 764.5 1256.5 811.9 1257.0 749.8 1257.6 820.9 1258.1 758.5 1258.7 831.9 1259.2 751.4 1259.8 823.5 1260.3 768.9 1260.9 813.3 1261.4 726.7 1262.0 818.1 1262.5 764.8 1263.1 813.4 1263.6 760.0 1264.2 819.8 1264.7 760.9 1265.3 813.4 1265.8 772.7 1266.4 815.4 1266.9 765.1 1267.5 816.0 1268.0 759.5 1268.6 823.1 1269.1 751.2 1269.7 820.5 1270.2 754.9 1270.8 819.2 1271.3 757.5 1271.9 819.2 1272.4 755.5 1273.0 816.3 1273.5 764.3 1274.1 814.6 1274.6 766.1 1275.2 822.9 1275.7 756.3 1276.3 814.2 1276.8 757.6 1277.4 815.1 1277.9 764.2 1278.5 812.1 1279.0 767.4 1279.6 819.3 1280.1 765.9 1280.7 812.3 1281.2 769.8 1281.8 813.3 1282.3 767.8 1282.9 810.9 1283.4 769.4 1284.0 810.1 1284.5 770.4 1285.1 820.7 1285.6 747.6 1286.2 810.3 1286.7 771.1 1287.3 815.4 1287.8 765.4 1288.4 804.5 1288.9 762.3 1289.5 813.6 1290.0 759.3 1290.6 812.4 1291.1 760.8 1291.7 810.2 1292.2 754.9 1292.8 812.4 1293.3 770.6 1293.9 809.5 1294.4 735.0 1295.0 811.9 1295.5 771.6 1296.1 826.1 1296.6 772.0 1297.2 811.5 1297.7 761.3 1298.3 809.7 1298.8 754.5 1299.4 807.9 1299.9 763.0 1300.5 811.4 1301.0 762.5 1301.6 811.7 1302.1 762.5 1302.7 815.9 1303.2 748.5 1303.8 829.9 1304.3 755.9 1304.9 815.6 1305.4 755.5 1306.0 812.7 1306.5 760.1 1307.1 812.8 1307.6 756.5 1308.2 813.4 1308.7 724.8 1309.3 814.2 1309.8 760.7 1310.4 817.1 1310.9 758.0 1311.5 813.8 1312.0 768.7 1312.6 814.4 1313.1 760.5 1313.7 815.3 1314.2 764.5 1314.8 817.7 1315.3 758.9 1315.9 807.2 1316.4 769.9 1317.0 810.8 1317.5 771.6 1318.1 806.6 1318.6 766.1 1319.2 817.7 1319.7 761.5 1320.3 811.4 1320.8 774.3 1321.4 815.9 1321.9 760.3 1322.5 811.3 1323.0 733.7 1323.6 808.2 1324.1 766.5 1324.7 814.3 1325.2 744.0 1325.8 809.9 1326.3 761.7 1326.9 805.4 1327.4 761.8 1328.0 806.4 1328.5 759.4 1329.1 815.0 1329.6 770.7 1330.2 812.7 1330.7 775.8 1331.3 808.6 1331.8 768.3 1332.4 811.3 1332.9 756.6 1333.5 816.7 1334.0 755.0 1334.6 808.2 1335.1 760.3 1335.7 806.9 1336.2 757.8 1336.8 810.0 1337.3 758.7 1337.9 817.2 1338.4 761.6 1339.0 809.5 1339.5 764.1 1340.1 816.7 1340.6 737.3 1341.2 811.4 1341.7 754.1 1342.3 810.9 1342.8 757.0 1343.4 816.9 1343.9 759.3 1344.5 817.4 1345.0 748.2 1345.6 810.1 1346.1 757.7 1346.7 817.8 1347.2 759.1 1347.8 816.8 1348.3 752.2 1348.9 818.2 1349.4 759.4 1350.0 816.2 1350.5 749.8 1351.1 824.3 1351.6 759.3 1352.2 820.0 1352.7 770.2 1353.3 810.5 1353.8 761.1 1354.4 821.0 1354.9 759.1 1355.5 814.9 1356.0 768.6 1356.6 809.2 1357.1 770.1 1357.7 807.0 1358.2 763.6 1358.8 812.8 1359.3 759.2 1359.9 804.7 1360.4 753.1 1361.0 801.9 1361.5 765.6 1362.1 804.8 1362.6 749.3 1363.2 814.9 1363.7 759.8 1364.3 804.8 1364.8 754.9 1365.4 825.5 1365.9 753.2 1366.5 813.1 1367.0 739.1 1367.6 808.1 1368.1 758.2 1368.7 823.7 1369.2 752.0 1369.8 823.6 1370.3 763.4 1370.9 821.9 1371.4 754.2 1372.0 809.9 1372.5 736.0 1373.1 826.6 1373.6 769.2 1374.2 813.2 1374.7 731.5 1375.3 810.9 1375.8 767.4 1376.4 813.8 1376.9 761.1 1377.5 822.0 1378.0 777.5 1378.6 822.3 1379.1 781.2 1379.7 827.3 1380.2 789.6 1380.8 823.0 1381.3 780.4 1381.9 834.1 1382.4 782.9 1383.0 822.4 1383.5 767.0 1384.1 831.1 1384.6 774.7 1385.2 833.4 1385.7 780.8 1386.3 826.0 1386.8 786.9 1387.4 829.4 1387.9 791.2 1388.5 835.0 1389.0 790.3 1389.6 828.0 1390.1 787.7 1390.7 832.2 1391.2 775.9 1391.8 830.5 1392.3 791.7 1392.9 838.1 1393.4 777.3 1394.0 836.6 1394.5 781.1 1395.1 836.6 1395.6 786.8 1396.2 828.5 1396.7 787.9 1397.3 846.3 1397.8 785.1 1398.4 828.2 1398.9 789.6 1399.5 833.8 1400.0 784.1 1400.6 821.8 1401.1 794.7 1401.7 824.4 1402.2 793.1 1402.8 829.0 1403.3 788.0 1403.9 831.8 1404.4 790.0 1405.0 824.4 1405.5 797.8 1406.1 828.3 1406.6 795.8 1407.2 829.1 1407.7 773.5 1408.3 837.3 1408.8 791.8 1409.4 825.9 1409.9 787.9 1410.5 832.3 1411.0 774.8 1411.6 826.5 1412.1 784.2 1412.7 829.5 1413.2 727.5 1413.8 838.3 1414.3 783.8 1414.9 827.4 1415.4 789.7 1416.0 829.9 1416.5 790.0 1417.1 833.8 1417.6 793.1 1418.2 826.0 1418.7 784.0 1419.3 826.5 1419.8 788.4 1420.4 826.7 1420.9 775.2 1421.5 829.1 1422.0 776.8 1422.6 835.6 1423.1 775.0 1423.7 833.4 1424.2 780.2 1424.8 828.5 1425.3 741.7 1425.9 829.7 1426.4 778.4 1427.0 832.8 1427.5 784.9 1428.1 834.1 1428.6 768.6 1429.2 835.4 1429.7 783.8 1430.3 830.0 1430.8 782.0 1431.4 834.7 1431.9 781.2 1432.5 829.3 1433.0 769.7 1433.6 829.9 1434.1 780.3 1434.7 832.4 1435.2 781.7 1435.8 824.9 1436.3 793.1 1436.9 832.8 1437.4 782.0 1438.0 834.4 1438.5 790.6 1439.1 824.0 1439.6 794.1 1440.2 821.8 1440.7 790.6 1441.3 827.1 1441.8 783.7 1442.4 831.9 1442.9 771.2 1443.5 833.1 1444.0 772.9 1444.6 824.9 1445.1 767.3 1445.7 825.5 1446.2 784.0 1446.8 835.7 1447.3 777.9 1447.9 824.0 1448.4 779.6 1449.0 824.1 1449.5 773.8 1450.1 824.3 1450.6 789.1 1451.2 829.6 1451.7 793.6 1452.3 830.0 1452.8 786.2 1453.4 825.9 1453.9 788.7 1454.5 830.6 1455.0 791.9 1455.6 840.0 1456.1 777.8 1456.7 829.0 1457.2 766.4 1457.8 828.0 1458.3 779.5 1458.9 829.3 1459.4 791.8 1460.0 836.8 1460.5 784.6 1461.1 834.2 1461.6 791.3 1462.2 831.1 1462.7 782.7 1463.3 823.9 1463.8 788.7 1464.4 839.9 1464.9 775.5 1465.5 830.1 1466.0 787.5 1466.6 832.1 1467.1 774.5 1467.7 836.6 1468.2 787.3 1468.8 826.0 1469.3 782.3 1469.9 829.7 1470.4 779.5 1471.0 823.4 1471.5 783.2 1472.1 825.6 1472.6 785.6 1473.2 828.9 1473.7 792.6 1474.3 833.1 1474.8 786.1 1475.4 827.6 1475.9 794.3 1476.5 825.1 1477.0 773.6 1477.6 827.2 1478.1 775.3 1478.7 836.5 1479.2 788.6 1479.8 831.1 1480.3 778.1 1480.9 833.3 1481.4 779.0 1482.0 830.8 1482.5 758.1 1483.1 834.0 1483.6 782.3 1484.2 832.4 1484.7 786.4 1485.3 821.9 1485.8 779.8 1486.4 834.6 1486.9 765.4 1487.5 840.9 1488.0 774.3 1488.6 830.7 1489.1 775.1 1489.7 829.5 1490.2 769.2 1490.8 827.1 1491.3 773.6 1491.9 823.0 1492.4 785.4 1493.0 826.7 1493.5 782.8 1494.1 822.0 1494.6 787.7 1495.2 822.6 1495.7 785.5 1496.3 827.8 1496.8 756.9 1497.4 829.3 1497.9 774.6 1498.5 831.3 1499.0 785.5 1499.6 833.7 1500.1 780.3 1500.7 836.3 1501.2 776.4 1501.8 834.2 1502.3 792.8 1502.9 842.2 1503.4 784.7 1504.0 835.8 1504.5 793.0 1505.1 833.6 1505.6 791.9 1506.2 836.4 1506.7 775.9 1507.3 832.0 1507.8 790.1 1508.4 825.7 1508.9 783.6 1509.5 827.8 1510.0 783.8 1510.6 828.9 1511.1 784.4 1511.7 825.7 1512.2 782.4 1512.8 824.7 1513.3 788.7 1513.9 826.8 1514.4 786.3 1515.0 832.5 1515.5 785.8 1516.1 835.1 1516.6 787.0 1517.2 836.7 1517.7 786.4 1518.3 824.2 1518.8 792.6 1519.4 834.7 1519.9 787.2 1520.5 824.9 1521.0 743.8 1521.6 829.6 1522.1 791.6 1522.7 825.8 1523.2 771.6 1523.8 831.4 1524.3 783.1 1524.9 837.2 1525.4 800.6 1526.0 826.5 1526.5 782.0 1527.1 823.5 1527.6 786.7 1528.2 828.5 1528.7 784.5 1529.3 823.7 1529.8 785.2 1530.4 831.0 1530.9 790.8 1531.5 833.9 1532.0 782.3 1532.6 837.3 1533.1 788.4 1533.7 838.0 1534.2 781.4 1534.8 827.7 1535.3 783.7 1535.9 836.0 1536.4 780.3 1537.0 823.8 1537.5 776.2 1538.1 830.9 1538.6 779.2 1539.2 825.3 1539.7 785.4 1540.3 826.4 1540.8 789.2 1541.4 823.8 1541.9 780.1 1542.5 829.4 1543.0 782.2 1543.6 827.5 1544.1 783.0 1544.7 841.4 1545.2 791.0 1545.8 828.6 1546.3 781.0 1546.9 829.9 1547.4 780.8 1548.0 832.0 1548.5 721.7 1549.1 842.9 1549.6 769.1 1550.2 833.5 1550.7 773.1 1551.3 831.9 1551.8 770.5 1552.4 835.1 1552.9 771.4 1553.5 823.0 1554.0 764.3 1554.6 825.0 1555.1 785.5 1555.7 825.3 1556.2 775.2 1556.8 833.9 1557.3 787.7 1557.9 829.3 1558.4 754.0 1559.0 825.6 1559.5 785.3 1560.1 825.6 1560.6 778.0 1561.2 823.4 1561.7 781.7 1562.3 839.2 1562.8 758.0 1563.4 829.6 1563.9 782.9 1564.5 825.5 1565.0 775.2 1565.6 823.0 1566.1 760.2 1566.7 828.9 1567.2 786.4 1567.8 833.3 1568.3 783.8 1568.9 831.8 1569.4 783.4 1570.0 836.9 1570.5 779.2 1571.1 831.2 1571.6 771.2 1572.2 829.0 1572.7 771.6 1573.3 829.8 1573.8 789.4 1574.4 828.7 1574.9 778.7 1575.5 835.6 1576.0 789.4 1576.6 828.3 1577.1 794.8 1577.7 826.7 1578.2 786.0 1578.8 836.2 1579.3 795.8 1579.9 829.5 1580.4 786.0 1581.0 823.5 1581.5 787.5 1582.1 827.6 1582.6 729.1 1583.2 827.4 1583.7 782.8 1584.3 824.7 1584.8 776.5 1585.4 827.0 1585.9 789.5 1586.5 826.9 1587.0 771.6 1587.6 830.3 1588.1 781.6 1588.7 827.2 1589.2 759.4 1589.8 829.9 1590.3 778.2 1590.9 835.0 1591.4 788.0 1592.0 826.3 1592.5 723.0 1593.1 828.4 1593.6 779.8 1594.2 822.8 1594.7 767.9 1595.3 824.3 1595.8 769.4 1596.4 830.7 1596.9 776.6 1597.5 845.3 1598.0 776.8 1598.6 836.3 1599.1 762.7 1599.7 830.7 1600.2 772.5 1600.8 829.4 1601.3 776.0 1601.9 834.2 1602.4 780.0 1603.0 823.8 1603.5 779.2 1604.1 822.2" stroke="#000" stroke-width="3.4" fill="none" stroke-linejoin="round"/>
<path d="M190.0 1063.7C190.8 1063.7 192.8 1063.6 195.0 1063.6C197.2 1063.6 200.3 1063.6 203.0 1063.6C205.7 1063.6 208.3 1063.6 211.0 1063.6C213.7 1063.6 216.3 1063.6 219.0 1063.6C221.7 1063.6 224.3 1063.6 227.0 1063.6C229.7 1063.6 232.3 1063.6 235.0 1063.6C237.7 1063.6 240.3 1063.6 243.0 1063.6C245.7 1063.6 248.3 1063.6 251.0 1063.6C253.7 1063.6 256.3 1063.6 259.0 1063.6C261.7 1063.6 264.3 1063.6 267.0 1063.6C269.7 1063.6 272.3 1063.6 275.0 1063.6C277.7 1063.6 280.3 1063.6 283.0 1063.6C285.7 1063.6 288.3 1063.6 291.0 1063.6C293.7 1063.6 296.3 1063.6 299.0 1063.6C301.7 1063.6 304.6 1063.6 307.0 1063.6C309.4 1063.6 311.6 1064.6 313.2 1063.4C314.8 1062.2 315.5 1060.1 316.7 1056.4C317.9 1052.7 319.0 1046.9 320.2 1041.3C321.4 1035.7 322.4 1027.1 323.7 1022.7C324.9 1018.3 326.5 1015.8 327.7 1014.8C328.9 1013.8 329.6 1015.4 330.7 1016.9C331.8 1018.4 333.1 1024.1 334.1 1023.9C335.2 1023.7 336.1 1018.5 337.0 1015.7C337.9 1012.9 338.4 1008.4 339.4 1007.0C340.4 1005.6 341.8 1008.0 342.8 1007.6C343.8 1007.2 344.4 1004.7 345.5 1004.7C346.6 1004.7 347.9 1006.8 349.2 1007.6C350.5 1008.4 351.6 1008.5 353.3 1009.4C355.1 1010.3 357.9 1013.1 359.7 1012.8C361.5 1012.5 362.9 1009.0 364.3 1007.6C365.8 1006.2 367.2 1004.2 368.4 1004.1C369.6 1004.0 370.4 1005.5 371.3 1007.0C372.2 1008.5 372.7 1012.9 373.6 1012.8C374.5 1012.7 375.4 1010.0 376.5 1006.5C377.6 1003.0 378.9 992.9 380.0 991.9C381.1 990.9 382.0 996.2 382.9 1000.7C383.8 1005.2 384.6 1018.2 385.5 1019.2C386.4 1020.2 387.3 1010.2 388.1 1006.5C388.9 1002.8 389.7 997.6 390.5 997.2C391.3 996.8 392.1 1001.6 392.8 1004.1C393.5 1006.6 393.7 1013.1 394.5 1012.3C395.3 1011.5 396.3 1004.4 397.4 999.5C398.5 994.6 399.8 984.8 400.9 983.2C402.0 981.7 402.7 986.7 403.8 990.2C404.9 993.7 406.1 1000.8 407.3 1004.1C408.5 1007.4 409.6 1008.5 410.8 1009.9C412.0 1011.3 413.2 1012.7 414.3 1012.8C415.4 1012.9 416.2 1010.2 417.2 1010.5C418.2 1010.8 419.0 1012.1 420.1 1014.6C421.2 1017.1 422.1 1022.5 423.6 1025.6C425.2 1028.7 427.8 1031.8 429.4 1033.2C430.9 1034.7 431.6 1033.3 432.9 1034.3C434.1 1035.3 435.4 1038.5 436.9 1039.0C438.4 1039.5 440.5 1036.4 442.1 1037.2C443.8 1038.0 445.1 1040.4 446.8 1043.6C448.6 1046.8 451.1 1054.9 452.6 1056.4C454.2 1058.0 454.9 1054.8 456.1 1052.9C457.4 1051.0 458.9 1045.2 460.1 1044.8C461.4 1044.4 462.1 1047.4 463.6 1050.6C465.1 1053.8 466.8 1061.7 468.9 1063.9C471.0 1066.1 473.5 1063.9 476.0 1063.9C478.5 1063.9 481.3 1063.9 484.0 1063.9C486.7 1063.9 489.3 1063.9 492.0 1063.9C494.7 1063.9 497.3 1063.9 500.0 1063.9C502.7 1063.9 505.3 1063.9 508.0 1063.9C510.7 1063.9 513.3 1063.9 516.0 1063.9C518.7 1063.9 521.3 1063.9 524.0 1063.9C526.7 1063.9 529.3 1063.9 532.0 1063.9C534.7 1063.9 537.3 1063.9 540.0 1063.9C542.7 1063.9 545.3 1063.9 548.0 1063.9C550.7 1063.9 553.3 1063.9 556.0 1063.9C558.7 1063.9 561.3 1063.9 564.0 1063.9C566.7 1063.9 569.3 1063.9 572.0 1063.9C574.7 1063.9 577.3 1063.9 580.0 1063.9C582.7 1063.9 585.3 1063.9 588.0 1063.9C590.7 1063.9 593.3 1063.9 596.0 1063.9C598.7 1063.9 601.3 1063.9 604.0 1063.9C606.7 1063.9 609.3 1063.9 612.0 1063.9C614.7 1063.9 617.3 1063.9 620.0 1063.9C622.7 1063.9 625.3 1063.9 628.0 1063.9C630.7 1063.9 633.3 1063.9 636.0 1063.9C638.7 1063.9 641.3 1063.9 644.0 1063.9C646.7 1063.9 649.3 1063.9 652.0 1063.9C654.7 1063.9 657.3 1063.9 660.0 1063.9C662.7 1063.9 665.3 1063.9 668.0 1063.9C670.7 1063.9 673.3 1063.9 676.0 1063.9C678.7 1063.9 681.3 1063.9 684.0 1063.9C686.7 1063.9 689.3 1063.9 692.0 1063.9C694.7 1063.9 697.3 1063.9 700.0 1063.9C702.7 1063.9 705.3 1063.9 708.0 1063.9C710.7 1063.9 713.3 1063.9 716.0 1063.9C718.7 1063.9 721.3 1063.9 724.0 1063.9C726.7 1063.9 729.3 1063.9 732.0 1063.9C734.7 1063.9 737.3 1063.9 740.0 1063.9C742.7 1063.9 745.3 1063.9 748.0 1063.9C750.7 1063.9 753.3 1063.9 756.0 1063.9C758.7 1063.9 761.3 1063.9 764.0 1063.9C766.7 1063.9 769.3 1063.9 772.0 1063.9C774.7 1063.9 777.3 1063.9 780.0 1063.9C782.7 1063.9 785.3 1063.9 788.0 1063.9C790.7 1063.9 793.3 1063.9 796.0 1063.9C798.7 1063.9 801.3 1063.9 804.0 1063.9C806.7 1063.9 809.3 1063.9 812.0 1063.9C814.7 1063.9 817.3 1063.9 820.0 1063.9C822.7 1063.9 825.3 1063.9 828.0 1063.9C830.7 1063.9 833.3 1063.9 836.0 1063.9C838.7 1063.9 841.3 1063.9 844.0 1063.9C846.7 1063.9 849.3 1063.9 852.0 1063.9C854.7 1063.9 857.3 1063.9 860.0 1063.9C862.7 1063.9 865.3 1063.9 868.0 1063.9C870.7 1063.9 873.3 1063.9 876.0 1063.9C878.7 1063.9 881.3 1063.9 884.0 1063.9C886.7 1063.9 889.3 1063.9 892.0 1063.9C894.7 1063.9 897.3 1063.9 900.0 1063.9C902.7 1063.9 905.3 1063.9 908.0 1063.9C910.7 1063.9 913.3 1063.9 916.0 1063.9C918.7 1063.9 921.3 1063.9 924.0 1063.9C926.7 1063.9 929.3 1063.9 932.0 1063.9C934.7 1063.9 937.3 1063.9 940.0 1063.9C942.7 1063.9 945.3 1063.9 948.0 1063.9C950.7 1063.9 953.3 1063.9 956.0 1063.9C958.7 1063.9 961.3 1063.9 964.0 1063.9C966.7 1063.9 969.3 1063.9 972.0 1063.9C974.7 1063.9 977.3 1063.9 980.0 1063.9C982.7 1063.9 984.7 1064.0 988.0 1063.9C991.3 1063.9 996.6 1063.4 1000.0 1063.6C1003.4 1063.8 1006.0 1065.6 1008.1 1065.0C1010.2 1064.4 1011.4 1062.8 1012.8 1060.1C1014.2 1057.3 1015.1 1052.2 1016.3 1048.5C1017.4 1044.8 1018.6 1038.0 1019.7 1038.0C1020.9 1038.0 1022.2 1045.9 1023.2 1048.5C1024.2 1051.1 1024.6 1053.5 1025.6 1053.7C1026.6 1053.9 1027.7 1049.0 1029.0 1049.6C1030.3 1050.2 1032.2 1056.8 1033.7 1057.2C1035.2 1057.6 1036.2 1051.9 1037.7 1052.0C1039.2 1052.1 1041.0 1059.5 1043.0 1057.8C1045.0 1056.0 1048.2 1046.5 1049.9 1041.5C1051.6 1036.5 1052.2 1034.0 1053.4 1027.6C1054.6 1021.2 1055.6 1006.6 1056.9 1003.2C1058.2 999.8 1059.3 1009.3 1061.0 1007.2C1062.7 1005.1 1065.2 991.6 1066.8 990.4C1068.3 989.1 1069.1 996.6 1070.3 999.7C1071.5 1002.8 1072.6 1007.8 1073.8 1009.0C1075.0 1010.2 1075.8 1005.9 1077.2 1006.7C1078.7 1007.5 1080.5 1013.2 1082.5 1013.6C1084.5 1014.0 1087.0 1008.0 1088.9 1009.0C1090.8 1010.0 1092.3 1022.2 1094.1 1019.4C1095.9 1016.6 1097.8 994.2 1099.9 992.1C1102.0 990.0 1104.2 1002.0 1106.9 1006.7C1109.6 1011.5 1113.7 1017.5 1116.1 1020.6C1118.5 1023.7 1119.9 1025.0 1121.4 1025.2C1123.0 1025.4 1123.8 1024.9 1125.4 1021.8C1127.0 1018.7 1128.8 1004.5 1131.2 1006.7C1133.6 1008.9 1137.5 1033.9 1140.0 1035.1C1142.5 1036.2 1144.5 1018.7 1146.3 1013.6C1148.1 1008.5 1149.6 1005.4 1151.0 1004.3C1152.4 1003.2 1153.2 1008.0 1154.5 1007.2C1155.8 1006.4 1157.3 1004.2 1159.1 999.7C1160.9 995.2 1163.2 983.3 1165.5 979.9C1167.8 976.5 1171.1 977.4 1173.1 979.4C1175.1 981.4 1176.0 990.1 1177.7 991.6C1179.4 993.1 1181.7 989.3 1183.5 988.1C1185.3 986.9 1187.0 984.3 1188.7 984.6C1190.4 984.9 1191.6 989.4 1193.4 989.8C1195.2 990.2 1197.6 988.1 1199.3 986.9C1201.0 985.6 1202.5 981.5 1203.7 982.3C1204.9 983.1 1205.4 987.6 1206.3 991.6C1207.2 995.6 1208.0 1004.4 1209.2 1006.1C1210.4 1007.8 1211.8 1002.6 1213.2 1002.0C1214.7 1001.4 1216.0 1005.7 1217.9 1002.6C1219.8 999.5 1223.1 989.7 1224.8 983.4C1226.5 977.1 1227.0 970.4 1228.3 964.8C1229.6 959.2 1231.3 951.1 1232.7 949.7C1234.1 948.4 1234.9 951.9 1236.5 956.7C1238.1 961.6 1240.6 975.2 1242.3 978.8C1244.0 982.4 1245.5 975.5 1246.9 978.2C1248.4 980.9 1249.7 988.9 1251.0 995.0C1252.3 1001.1 1253.0 1014.5 1254.5 1014.8C1256.0 1015.1 1257.9 994.5 1259.7 996.8C1261.5 999.1 1263.8 1025.1 1265.5 1028.7C1267.2 1032.3 1268.5 1020.8 1270.1 1018.3C1271.6 1015.8 1273.1 1015.5 1274.8 1013.6C1276.5 1011.8 1278.3 1010.6 1280.0 1007.2C1281.7 1003.8 1283.2 995.1 1284.7 993.3C1286.2 991.5 1287.8 998.1 1289.3 996.2C1290.8 994.3 1291.9 976.3 1294.0 981.7C1296.1 987.1 1300.1 1022.4 1302.1 1028.7C1304.1 1035.0 1304.6 1018.9 1306.1 1019.4C1307.5 1019.9 1309.0 1029.2 1310.8 1031.6C1312.5 1034.0 1314.4 1039.8 1316.6 1034.0C1318.8 1028.2 1322.1 998.6 1324.1 996.8C1326.1 994.9 1327.1 1012.4 1328.8 1022.9C1330.5 1033.3 1332.3 1056.6 1334.0 1059.5C1335.7 1062.4 1337.7 1046.4 1339.2 1040.3C1340.8 1034.2 1341.5 1023.9 1343.3 1022.9C1345.1 1021.9 1347.7 1031.6 1350.3 1034.0C1352.9 1036.4 1356.7 1035.5 1359.0 1037.4C1361.3 1039.3 1362.1 1048.5 1364.2 1045.6C1366.3 1042.7 1369.3 1017.2 1371.8 1020.0C1374.3 1022.8 1376.3 1055.1 1379.3 1062.4C1382.3 1069.7 1387.2 1063.4 1390.0 1063.6C1392.8 1063.8 1393.7 1063.6 1396.0 1063.6C1398.3 1063.6 1401.3 1063.6 1404.0 1063.6C1406.7 1063.6 1409.3 1063.6 1412.0 1063.6C1414.7 1063.6 1417.3 1063.6 1420.0 1063.6C1422.7 1063.6 1425.3 1063.6 1428.0 1063.6C1430.7 1063.6 1433.3 1063.6 1436.0 1063.6C1438.7 1063.6 1441.3 1063.6 1444.0 1063.6C1446.7 1063.6 1449.3 1063.6 1452.0 1063.6C1454.7 1063.6 1457.3 1063.6 1460.0 1063.6C1462.7 1063.6 1466.0 1065.0 1468.0 1063.6C1470.0 1062.2 1470.8 1057.7 1472.0 1055.0C1473.2 1052.3 1474.1 1047.3 1475.3 1047.3C1476.5 1047.3 1477.7 1052.3 1479.0 1055.0C1480.3 1057.7 1481.2 1062.2 1483.0 1063.6C1484.8 1065.0 1487.5 1063.5 1490.0 1063.5C1492.5 1063.5 1495.3 1063.5 1498.0 1063.5C1500.7 1063.5 1503.3 1063.5 1506.0 1063.5C1508.7 1063.5 1511.3 1063.5 1514.0 1063.5C1516.7 1063.5 1519.3 1063.5 1522.0 1063.5C1524.7 1063.5 1527.3 1063.5 1530.0 1063.5C1532.7 1063.5 1535.3 1063.5 1538.0 1063.5C1540.7 1063.5 1543.3 1063.5 1546.0 1063.5C1548.7 1063.5 1551.3 1063.5 1554.0 1063.5C1556.7 1063.5 1559.3 1063.5 1562.0 1063.5C1564.7 1063.5 1567.0 1063.5 1570.0 1063.5C1573.0 1063.5 1577.7 1064.3 1580.0 1063.4C1582.3 1062.5 1582.7 1061.6 1584.0 1058.0C1585.3 1054.4 1586.8 1045.8 1588.0 1042.0C1589.2 1038.2 1590.2 1035.0 1591.4 1035.2C1592.6 1035.4 1593.7 1039.2 1595.0 1043.0C1596.3 1046.8 1597.4 1054.6 1599.0 1058.0C1600.6 1061.4 1603.5 1062.7 1604.4 1063.6" stroke="#000" stroke-width="3.4" fill="none" stroke-linejoin="round"/>
<path d="M242.6 1093.4V1149.8M245.4 1093.4V1149.8M247.8 1093.4V1149.8M276.2 1093.4V1149.8M278.2 1093.4V1149.8M293.5 1093.4V1149.8M299.0 1093.4V1149.8M313.2 1093.4V1149.8M507.0 1093.4V1149.8M520.9 1093.4V1149.8M530.8 1093.4V1149.8M546.2 1093.4V1149.8M564.1 1093.4V1149.8M568.8 1093.4V1149.8M580.7 1093.4V1149.8M585.9 1093.4V1149.8M592.0 1093.4V1149.8M615.5 1093.4V1149.8M648.4 1093.4V1149.8M662.0 1093.4V1149.8M673.9 1093.4V1149.8M688.5 1093.4V1149.8M743.9 1093.4V1149.8M753.5 1093.4V1149.8M756.5 1093.4V1149.8M778.4 1093.4V1149.8M835.8 1093.4V1149.8M856.4 1093.4V1149.8M893.8 1093.4V1149.8M932.5 1093.4V1149.8M935.5 1093.4V1149.8M960.5 1093.4V1149.8M963.5 1093.4V1149.8M988.1 1093.4V1149.8M1419.7 1093.4V1149.8M1429.0 1093.4V1149.8M1432.0 1093.4V1149.8M1435.0 1093.4V1149.8M1515.0 1093.4V1149.8M1518.0 1093.4V1149.8M1520.0 1093.4V1149.8M1557.4 1093.4V1149.8M1573.7 1093.4V1149.8" stroke="#808080" stroke-width="3.8"/>
<path d="M252.8 1155.6V1213.9M956.9 1155.6V1213.9" stroke="#c45e5e" stroke-width="3.6"/>
<path d="M314.0 1219.1V1276.3M483.0 1219.1V1276.3M491.0 1219.1V1276.3M507.0 1219.1V1276.3M554.0 1219.1V1276.3M570.9 1219.1V1276.3M606.8 1219.1V1276.3M646.0 1219.1V1276.3M664.6 1219.1V1276.3M700.0 1219.1V1276.3M743.0 1219.1V1276.3M875.9 1219.1V1276.3M895.9 1219.1V1276.3M971.7 1219.1V1276.3M1464.8 1219.1V1276.3M1471.8 1219.1V1276.3M1520.2 1219.1V1276.3M1582.6 1219.1V1276.3" stroke="#0b8383" stroke-width="3.6"/>
<path d="M318.3 67.9V661.0M318.3 683.4V865.1M318.3 888.4V1070.5M318.3 1093.4V1276.3M333.9 67.9V661.0M333.9 683.4V865.1M333.9 888.4V1070.5M333.9 1093.4V1276.3M349.0 67.9V661.0M349.0 683.4V865.1M349.0 888.4V1070.5M349.0 1093.4V1276.3M370.9 67.9V661.0M370.9 683.4V865.1M370.9 888.4V1070.5M370.9 1093.4V1276.3M385.3 67.9V661.0M385.3 683.4V865.1M385.3 888.4V1070.5M385.3 1093.4V1276.3M412.3 67.9V661.0M412.3 683.4V865.1M412.3 888.4V1070.5M412.3 1093.4V1276.3M459.1 67.9V661.0M459.1 683.4V865.1M459.1 888.4V1070.5M459.1 1093.4V1276.3M482.8 67.9V661.0M482.8 683.4V865.1M482.8 888.4V1070.5M482.8 1093.4V1276.3M491.3 67.9V661.0M491.3 683.4V865.1M491.3 888.4V1070.5M491.3 1093.4V1276.3M498.7 67.9V661.0M498.7 683.4V865.1M498.7 888.4V1070.5M498.7 1093.4V1276.3M553.9 67.9V661.0M553.9 683.4V865.1M553.9 888.4V1070.5M553.9 1093.4V1276.3M606.8 67.9V661.0M606.8 683.4V865.1M606.8 888.4V1070.5M606.8 1093.4V1276.3M664.5 67.9V661.0M664.5 683.4V865.1M664.5 888.4V1070.5M664.5 1093.4V1276.3M727.9 67.9V661.0M727.9 683.4V865.1M727.9 888.4V1070.5M727.9 1093.4V1276.3M885.4 67.9V661.0M885.4 683.4V865.1M885.4 888.4V1070.5M885.4 1093.4V1276.3M915.7 67.9V661.0M915.7 683.4V865.1M915.7 888.4V1070.5M915.7 1093.4V1276.3M920.8 67.9V661.0M920.8 683.4V865.1M920.8 888.4V1070.5M920.8 1093.4V1276.3M971.7 67.9V661.0M971.7 683.4V865.1M971.7 888.4V1070.5M971.7 1093.4V1276.3M1045.5 67.9V661.0M1045.5 683.4V865.1M1045.5 888.4V1070.5M1045.5 1093.4V1276.3M1073.6 67.9V661.0M1073.6 683.4V865.1M1073.6 888.4V1070.5M1073.6 1093.4V1276.3M1088.5 67.9V661.0M1088.5 683.4V865.1M1088.5 888.4V1070.5M1088.5 1093.4V1276.3M1104.3 67.9V661.0M1104.3 683.4V865.1M1104.3 888.4V1070.5M1104.3 1093.4V1276.3M1119.6 67.9V661.0M1119.6 683.4V865.1M1119.6 888.4V1070.5M1119.6 1093.4V1276.3M1135.8 67.9V661.0M1135.8 683.4V865.1M1135.8 888.4V1070.5M1135.8 1093.4V1276.3M1183.2 67.9V661.0M1183.2 683.4V865.1M1183.2 888.4V1070.5M1183.2 1093.4V1276.3M1199.0 67.9V661.0M1199.0 683.4V865.1M1199.0 888.4V1070.5M1199.0 1093.4V1276.3M1214.8 67.9V661.0M1214.8 683.4V865.1M1214.8 888.4V1070.5M1214.8 1093.4V1276.3M1261.8 67.9V661.0M1261.8 683.4V865.1M1261.8 888.4V1070.5M1261.8 1093.4V1276.3M1309.1 67.9V661.0M1309.1 683.4V865.1M1309.1 888.4V1070.5M1309.1 1093.4V1276.3M1324.8 67.9V661.0M1324.8 683.4V865.1M1324.8 888.4V1070.5M1324.8 1093.4V1276.3M1340.7 67.9V661.0M1340.7 683.4V865.1M1340.7 888.4V1070.5M1340.7 1093.4V1276.3M1372.0 67.9V661.0M1372.0 683.4V865.1M1372.0 888.4V1070.5M1372.0 1093.4V1276.3M1520.9 67.9V661.0M1520.9 683.4V865.1M1520.9 888.4V1070.5M1520.9 1093.4V1276.3M1548.8 67.9V661.0M1548.8 683.4V865.1M1548.8 888.4V1070.5M1548.8 1093.4V1276.3M1582.6 67.9V661.0M1582.6 683.4V865.1M1582.6 888.4V1070.5M1582.6 1093.4V1276.3M1592.8 67.9V661.0M1592.8 683.4V865.1M1592.8 888.4V1070.5M1592.8 1093.4V1276.3" stroke="rgba(226,60,60,0.27)" stroke-width="3.6" fill="none"/>
<path d="M333.9 67.9V661.0M333.9 683.4V865.1M333.9 888.4V1070.5M333.9 1093.4V1276.3M412.3 67.9V661.0M412.3 683.4V865.1M412.3 888.4V1070.5M412.3 1093.4V1276.3M1073.6 67.9V661.0M1073.6 683.4V865.1M1073.6 888.4V1070.5M1073.6 1093.4V1276.3" stroke="rgba(226,60,60,0.27)" stroke-width="3.6" fill="none"/>
<circle cx="318.4" cy="731.0" r="4.7" fill="#f21d1d"/>
<circle cx="333.9" cy="741.0" r="4.7" fill="#f21d1d"/>
<circle cx="349.1" cy="702.5" r="4.7" fill="#f21d1d"/>
<circle cx="370.9" cy="743.4" r="4.7" fill="#f21d1d"/>
<circle cx="385.3" cy="731.0" r="4.7" fill="#f21d1d"/>
<circle cx="411.9" cy="718.3" r="4.7" fill="#f21d1d"/>
<circle cx="412.7" cy="735.0" r="4.7" fill="#f21d1d"/>
<circle cx="459.1" cy="727.6" r="4.7" fill="#f21d1d"/>
<circle cx="482.5" cy="737.3" r="4.7" fill="#f21d1d"/>
<circle cx="491.3" cy="736.0" r="4.7" fill="#f21d1d"/>
<circle cx="498.5" cy="743.4" r="4.7" fill="#f21d1d"/>
<circle cx="553.7" cy="733.2" r="4.7" fill="#f21d1d"/>
<circle cx="606.7" cy="714.2" r="4.7" fill="#f21d1d"/>
<circle cx="664.3" cy="705.7" r="4.7" fill="#f21d1d"/>
<circle cx="727.9" cy="734.1" r="4.7" fill="#f21d1d"/>
<circle cx="885.5" cy="733.2" r="4.7" fill="#f21d1d"/>
<circle cx="915.6" cy="729.8" r="4.7" fill="#f21d1d"/>
<circle cx="920.8" cy="733.2" r="4.7" fill="#f21d1d"/>
<circle cx="971.7" cy="715.2" r="4.7" fill="#f21d1d"/>
<circle cx="1045.7" cy="716.1" r="4.7" fill="#f21d1d"/>
<circle cx="1073.2" cy="723.9" r="4.7" fill="#f21d1d"/>
<circle cx="1073.9" cy="738.2" r="4.7" fill="#f21d1d"/>
<circle cx="1088.6" cy="729.1" r="4.7" fill="#f21d1d"/>
<circle cx="1104.4" cy="740.2" r="4.7" fill="#f21d1d"/>
<circle cx="1119.5" cy="733.2" r="4.7" fill="#f21d1d"/>
<circle cx="1136.0" cy="740.2" r="4.7" fill="#f21d1d"/>
<circle cx="1183.4" cy="702.5" r="4.7" fill="#f21d1d"/>
<circle cx="1199.2" cy="738.4" r="4.7" fill="#f21d1d"/>
<circle cx="1215.0" cy="724.8" r="4.7" fill="#f21d1d"/>
<circle cx="1262.0" cy="726.7" r="4.7" fill="#f21d1d"/>
<circle cx="1309.2" cy="724.8" r="4.7" fill="#f21d1d"/>
<circle cx="1325.0" cy="744.0" r="4.7" fill="#f21d1d"/>
<circle cx="1340.8" cy="737.3" r="4.7" fill="#f21d1d"/>
<circle cx="1372.4" cy="736.0" r="4.7" fill="#f21d1d"/>
<circle cx="1521.2" cy="743.8" r="4.7" fill="#f21d1d"/>
<circle cx="1548.7" cy="721.7" r="4.7" fill="#f21d1d"/>
<circle cx="1582.7" cy="729.1" r="4.7" fill="#f21d1d"/>
<circle cx="1592.7" cy="723.0" r="4.7" fill="#f21d1d"/>
<text transform="matrix(0.92 0 0 1.055 48.6 52.4)" font-size="62" fill="#231f20" font-weight="bold" font-family='"Liberation Sans", Arial, Helvetica, sans-serif'>a</text>
<text x="140.0" y="59.3" font-size="45.2" fill="#231f20" text-anchor="start" font-weight="normal" font-family='"Liberation Sans", Arial, Helvetica, sans-serif'>Spiking activity</text>
<circle cx="739.5" cy="42.2" r="8" fill="#e8242b"/>
<text x="753.5" y="58.6" font-size="45.2" fill="#d7262e" text-anchor="start" font-weight="normal" font-family='"Liberation Sans", Arial, Helvetica, sans-serif'>Synchronous events</text>
<text x="90.0" y="741.4" font-size="45.2" fill="#231f20" text-anchor="start" font-weight="normal" font-family='"Liberation Sans", Arial, Helvetica, sans-serif'>Mean firing</text>
<text x="90.5" y="793.8" font-size="45.2" fill="#231f20" text-anchor="start" font-weight="normal" font-family='"Liberation Sans", Arial, Helvetica, sans-serif'>rate</text>
<text x="162.0" y="993.6" font-size="45.2" fill="#231f20" text-anchor="start" font-weight="normal" font-family='"Liberation Sans", Arial, Helvetica, sans-serif'>Speed</text>
<text x="217.0" y="1136.4" font-size="45.2" fill="#808080" text-anchor="end" font-weight="normal" font-family='"Liberation Sans", Arial, Helvetica, sans-serif'>SPW-R</text>
<text x="218.5" y="1202.4" font-size="45.2" fill="#c45e5e" text-anchor="end" font-weight="normal" font-family='"Liberation Sans", Arial, Helvetica, sans-serif'>DS1</text>
<text x="218.5" y="1265.8" font-size="45.2" fill="#0b8383" text-anchor="end" font-weight="normal" font-family='"Liberation Sans", Arial, Helvetica, sans-serif'>DS2</text>
<path d="M1612.3 272.7H1619.3V381.7H1612.3" stroke="#000" stroke-width="2.2" fill="none"/>
<text x="1658.5" y="414.0" font-size="45.2" fill="#231f20" text-anchor="start" font-weight="normal" font-family='"Liberation Sans", Arial, Helvetica, sans-serif' transform="rotate(-90 1658.5 414.0)">100 cells</text>
<path d="M1609 746.9H1618.5V861.9H1609" stroke="#000" stroke-width="2.2" fill="none"/>
<text x="1626.5" y="762.4" font-size="40" fill="#000" text-anchor="start" font-weight="normal" font-family='"DejaVu Sans", "Liberation Sans", sans-serif'>10</text>
<text x="1626.5" y="877.5" font-size="40" fill="#000" text-anchor="start" font-weight="normal" font-family='"DejaVu Sans", "Liberation Sans", sans-serif'>0</text>
<text x="1673.6" y="830.0" font-size="40" fill="#000" text-anchor="start" font-weight="normal" font-family='"DejaVu Sans", "Liberation Sans", sans-serif' transform="rotate(-90 1673.6 830.0)">Hz</text>
<path d="M1609 923.1H1616.5V1064H1609" stroke="#000" stroke-width="2.2" fill="none"/>
<text x="1626.5" y="938.5" font-size="40" fill="#000" text-anchor="start" font-weight="normal" font-family='"DejaVu Sans", "Liberation Sans", sans-serif'>20</text>
<text x="1626.0" y="1079.0" font-size="40" fill="#000" text-anchor="start" font-weight="normal" font-family='"DejaVu Sans", "Liberation Sans", sans-serif'>0</text>
<text x="1677.3" y="1049.5" font-size="40" fill="#000" text-anchor="start" font-weight="normal" font-family='"DejaVu Sans", "Liberation Sans", sans-serif' transform="rotate(-90 1677.3 1049.5)">cm/s</text>
<path d="M1438.4 1321.5H1595.6" stroke="#000" stroke-width="2.4"/>
<text x="1481.5" y="1315.9" font-size="45.2" fill="#000" text-anchor="start" font-weight="normal" font-family='"Liberation Sans", Arial, Helvetica, sans-serif'>30s</text>
<text x="44.0" y="1373.0" font-size="62" fill="#231f20" text-anchor="start" font-weight="bold" font-family='"Liberation Sans", Arial, Helvetica, sans-serif'>b</text>
<text x="62.4" y="1447.0" font-size="45.2" fill="#000" text-anchor="start" font-weight="normal" font-family='"Liberation Sans", Arial, Helvetica, sans-serif'>Rest</text>
<circle cx="161.5" cy="1577" r="114" fill="#b0b0b0"/>
<path d="M161.5 1577L275.5 1577A114 114 0 0 1 85.7 1662.1Z" fill="#676767"/>
<text x="144.6" y="1746.0" font-size="45.2" fill="#000" text-anchor="start" font-weight="normal" font-family='"Liberation Sans", Arial, Helvetica, sans-serif'>Run</text>
<text x="311.5" y="1374.5" font-size="62" fill="#231f20" text-anchor="start" font-weight="bold" font-family='"Liberation Sans", Arial, Helvetica, sans-serif'>c</text>
<path d="M454.3 1397V1795.5M445.4 1590.5H454.3M445.4 1782.7H454.3" stroke="#000" stroke-width="2.2" fill="none"/>
<text x="435.5" y="1414.3" font-size="45.2" fill="#000" text-anchor="end" font-weight="normal" font-family='"Liberation Sans", Arial, Helvetica, sans-serif'>1.0</text>
<text x="435.5" y="1606.5" font-size="45.2" fill="#000" text-anchor="end" font-weight="normal" font-family='"Liberation Sans", Arial, Helvetica, sans-serif'>0.5</text>
<text x="435.5" y="1798.7" font-size="45.2" fill="#000" text-anchor="end" font-weight="normal" font-family='"Liberation Sans", Arial, Helvetica, sans-serif'>0.0</text>
<text x="356.5" y="1757.0" font-size="45.2" fill="#000" text-anchor="start" font-weight="normal" font-family='"Liberation Sans", Arial, Helvetica, sans-serif' transform="rotate(-90 356.5 1757.0)">Event Rate (Hz)</text>
<text x="514.5" y="1399.2" font-size="45.2" fill="#000" text-anchor="start" font-weight="normal" font-family='"Liberation Sans", Arial, Helvetica, sans-serif'>Rest</text>
<text x="725.0" y="1399.2" font-size="45.2" fill="#000" text-anchor="start" font-weight="normal" font-family='"Liberation Sans", Arial, Helvetica, sans-serif'>Run</text>
<text x="648.0" y="1441.0" font-size="37.516" fill="#000" text-anchor="start" font-weight="normal" font-family='"Liberation Sans", Arial, Helvetica, sans-serif'>ns</text>
<path d="M555.7 1447.6H775.7" stroke="#000" stroke-width="2.6"/>
<path d="M498.3 1753.4H626.8M709.9 1740H842" stroke="#000" stroke-width="3.6"/>
<circle cx="477.4" cy="1756.4" r="7.4" fill="#ababab"/>
<circle cx="493.8" cy="1758.8" r="7.4" fill="#ababab"/>
<circle cx="508.1" cy="1739.9" r="7.4" fill="#ababab"/>
<circle cx="510.8" cy="1760.0" r="7.4" fill="#ababab"/>
<circle cx="524.3" cy="1743.5" r="7.4" fill="#ababab"/>
<circle cx="527.6" cy="1760.0" r="7.4" fill="#ababab"/>
<circle cx="541.0" cy="1744.4" r="7.4" fill="#ababab"/>
<circle cx="544.6" cy="1729.5" r="7.4" fill="#ababab"/>
<circle cx="544.6" cy="1761.8" r="7.4" fill="#ababab"/>
<circle cx="544.6" cy="1774.9" r="7.4" fill="#ababab"/>
<circle cx="556.6" cy="1750.4" r="7.4" fill="#ababab"/>
<circle cx="561.0" cy="1732.5" r="7.4" fill="#ababab"/>
<circle cx="561.0" cy="1761.8" r="7.4" fill="#ababab"/>
<circle cx="561.0" cy="1775.8" r="7.4" fill="#ababab"/>
<circle cx="573.0" cy="1748.0" r="7.4" fill="#ababab"/>
<circle cx="575.4" cy="1768.3" r="7.4" fill="#ababab"/>
<circle cx="588.6" cy="1743.5" r="7.4" fill="#ababab"/>
<circle cx="588.6" cy="1761.5" r="7.4" fill="#ababab"/>
<circle cx="605.0" cy="1740.8" r="7.4" fill="#ababab"/>
<circle cx="605.0" cy="1760.0" r="7.4" fill="#ababab"/>
<circle cx="621.7" cy="1758.8" r="7.4" fill="#ababab"/>
<circle cx="638.2" cy="1756.4" r="7.4" fill="#ababab"/>
<circle cx="647.1" cy="1754.9" r="7.4" fill="#ababab"/>
<circle cx="775.7" cy="1470.3" r="7.4" fill="#666666"/>
<circle cx="775.7" cy="1699.6" r="7.4" fill="#666666"/>
<circle cx="731.4" cy="1725.0" r="7.4" fill="#666666"/>
<circle cx="747.0" cy="1731.0" r="7.4" fill="#666666"/>
<circle cx="759.2" cy="1739.3" r="7.4" fill="#666666"/>
<circle cx="770.3" cy="1728.6" r="7.4" fill="#666666"/>
<circle cx="775.7" cy="1741.4" r="7.4" fill="#666666"/>
<circle cx="786.7" cy="1732.5" r="7.4" fill="#666666"/>
<circle cx="803.7" cy="1731.9" r="7.4" fill="#666666"/>
<circle cx="819.6" cy="1727.4" r="7.4" fill="#666666"/>
<circle cx="835.4" cy="1723.5" r="7.4" fill="#666666"/>
<circle cx="796.3" cy="1751.3" r="7.4" fill="#666666"/>
<circle cx="766.4" cy="1757.9" r="7.4" fill="#666666"/>
<circle cx="783.1" cy="1757.9" r="7.4" fill="#666666"/>
<circle cx="774.2" cy="1768.3" r="7.4" fill="#666666"/>
<circle cx="709.9" cy="1772.2" r="7.4" fill="#666666"/>
<circle cx="725.4" cy="1778.2" r="7.4" fill="#666666"/>
<circle cx="741.9" cy="1780.3" r="7.4" fill="#666666"/>
<circle cx="758.9" cy="1780.9" r="7.4" fill="#666666"/>
<circle cx="775.7" cy="1781.2" r="7.4" fill="#666666"/>
<circle cx="792.7" cy="1780.3" r="7.4" fill="#666666"/>
<circle cx="809.1" cy="1779.4" r="7.4" fill="#666666"/>
<circle cx="825.6" cy="1776.4" r="7.4" fill="#666666"/>
<text x="902.5" y="1374.5" font-size="62" fill="#231f20" text-anchor="start" font-weight="bold" font-family='"Liberation Sans", Arial, Helvetica, sans-serif'>d</text>
<path d="M1084.3 1702.6 1112.8 1701.8 1141.4 1701.0 1169.9 1701.0 1198.5 1700.3 1227.0 1699.5 1255.6 1701.0 1284.1 1701.8 1312.7 1699.5 1341.2 1691.9 1369.8 1697.3 1398.3 1701.5 1426.9 1703.3 1455.5 1702.6 1484.0 1701.8 1512.5 1698.8 1541.1 1700.3 1569.7 1701.0 1598.2 1701.8 1626.8 1701.8 1655.3 1703.3 L1655.3 1707.0 1626.8 1705.4 1598.2 1705.4 1569.7 1704.7 1541.1 1703.9 1512.5 1702.4 1484.0 1705.4 1455.5 1706.2 1426.9 1707.0 1398.3 1705.1 1369.8 1700.9 1341.2 1695.6 1312.7 1703.2 1284.1 1705.4 1255.6 1704.7 1227.0 1703.2 1198.5 1703.9 1169.9 1704.7 1141.4 1704.7 1112.8 1705.4 1084.3 1706.2Z" fill="rgba(196,94,94,0.35)"/>
<path d="M1084.3 1698.3 1112.8 1699.1 1141.4 1698.3 1169.9 1697.6 1198.5 1699.1 1227.0 1698.3 1255.6 1696.8 1284.1 1697.6 1312.7 1690.0 1341.2 1622.5 1369.8 1534.5 1398.3 1688.5 1426.9 1699.1 1455.5 1699.1 1484.0 1699.1 1512.5 1699.8 1541.1 1700.6 1569.7 1700.6 1598.2 1700.6 1626.8 1699.8 1655.3 1699.1 L1655.3 1703.6 1626.8 1704.4 1598.2 1705.1 1569.7 1705.1 1541.1 1705.1 1512.5 1704.4 1484.0 1703.6 1455.5 1703.6 1426.9 1703.6 1398.3 1693.0 1369.8 1595.2 1341.2 1649.8 1312.7 1694.5 1284.1 1702.1 1255.6 1701.3 1227.0 1702.9 1198.5 1703.6 1169.9 1702.1 1141.4 1702.9 1112.8 1703.6 1084.3 1702.9Z" fill="rgba(128,128,128,0.35)"/>
<path d="M1084.3 1697.3 1112.8 1698.0 1141.4 1699.5 1169.9 1698.8 1198.5 1700.3 1227.0 1699.5 1255.6 1698.8 1284.1 1699.5 1312.7 1695.0 1341.2 1616.4 1369.8 1410.1 1398.3 1685.9 1426.9 1702.6 1455.5 1702.6 1484.0 1701.8 1512.5 1701.0 1541.1 1700.3 1569.7 1701.0 1598.2 1701.8 1626.8 1701.0 1655.3 1699.5 L1655.3 1703.2 1626.8 1704.7 1598.2 1705.4 1569.7 1704.7 1541.1 1703.9 1512.5 1704.7 1484.0 1705.4 1455.5 1706.2 1426.9 1706.2 1398.3 1689.5 1369.8 1473.8 1341.2 1634.6 1312.7 1698.6 1284.1 1703.2 1255.6 1702.4 1227.0 1703.2 1198.5 1703.9 1169.9 1702.4 1141.4 1703.2 1112.8 1701.7 1084.3 1700.9Z" fill="rgba(11,131,131,0.35)"/>
<path d="M1084.3 1704.4 1112.8 1703.6 1141.4 1702.9 1169.9 1702.9 1198.5 1702.1 1227.0 1701.3 1255.6 1702.9 1284.1 1703.6 1312.7 1701.3 1341.2 1693.8 1369.8 1699.1 1398.3 1703.3 1426.9 1705.1 1455.5 1704.4 1484.0 1703.6 1512.5 1700.6 1541.1 1702.1 1569.7 1702.9 1598.2 1703.6 1626.8 1703.6 1655.3 1705.1" stroke="#c45e5e" stroke-width="3.4" fill="none" stroke-linejoin="round"/>
<path d="M1084.3 1700.6 1112.8 1701.3 1141.4 1700.6 1169.9 1699.8 1198.5 1701.3 1227.0 1700.6 1255.6 1699.1 1284.1 1699.8 1312.7 1692.2 1341.2 1636.1 1369.8 1564.8 1398.3 1690.7 1426.9 1701.3 1455.5 1701.3 1484.0 1701.3 1512.5 1702.1 1541.1 1702.9 1569.7 1702.9 1598.2 1702.9 1626.8 1702.1 1655.3 1701.3" stroke="#808080" stroke-width="3.4" fill="none" stroke-linejoin="round"/>
<path d="M1084.3 1699.1 1112.8 1699.8 1141.4 1701.3 1169.9 1700.6 1198.5 1702.1 1227.0 1701.3 1255.6 1700.6 1284.1 1701.3 1312.7 1696.8 1341.2 1625.5 1369.8 1441.9 1398.3 1687.7 1426.9 1704.4 1455.5 1704.4 1484.0 1703.6 1512.5 1702.9 1541.1 1702.1 1569.7 1702.9 1598.2 1703.6 1626.8 1702.9 1655.3 1701.3" stroke="#148a8a" stroke-width="4.2" fill="none" stroke-linejoin="round"/>
<path d="M1369.8 1392V1720" stroke="#c8c8c8" stroke-width="2.8" stroke-dasharray="10 6"/>
<circle cx="1369.8" cy="1365.9" r="8" fill="#e8242b"/>
<path d="M1084.8 1391.5V1720.8H1655.8M1076 1705.9H1084.8M1076 1554.2H1084.8M1076 1402.5H1084.8M1084.3 1720.8V1729.6M1227.0 1720.8V1729.6M1369.8 1720.8V1729.6M1512.5 1720.8V1729.6M1655.3 1720.8V1729.6" stroke="#000" stroke-width="2.2" fill="none"/>
<text x="1066.0" y="1721.9" font-size="45.2" fill="#000" text-anchor="end" font-weight="normal" font-family='"Liberation Sans", Arial, Helvetica, sans-serif'>0</text>
<text x="1066.0" y="1570.2" font-size="45.2" fill="#000" text-anchor="end" font-weight="normal" font-family='"Liberation Sans", Arial, Helvetica, sans-serif'>10</text>
<text x="1066.0" y="1418.5" font-size="45.2" fill="#000" text-anchor="end" font-weight="normal" font-family='"Liberation Sans", Arial, Helvetica, sans-serif'>20</text>
<text x="1084.3" y="1771.1" font-size="45.2" fill="#000" text-anchor="middle" font-weight="normal" font-family='"Liberation Sans", Arial, Helvetica, sans-serif'>−0.2</text>
<text x="1227.0" y="1771.1" font-size="45.2" fill="#000" text-anchor="middle" font-weight="normal" font-family='"Liberation Sans", Arial, Helvetica, sans-serif'>−0.1</text>
<text x="1369.8" y="1771.1" font-size="45.2" fill="#000" text-anchor="middle" font-weight="normal" font-family='"Liberation Sans", Arial, Helvetica, sans-serif'>0.0</text>
<text x="1512.5" y="1771.1" font-size="45.2" fill="#000" text-anchor="middle" font-weight="normal" font-family='"Liberation Sans", Arial, Helvetica, sans-serif'>0.1</text>
<text x="1655.3" y="1771.1" font-size="45.2" fill="#000" text-anchor="middle" font-weight="normal" font-family='"Liberation Sans", Arial, Helvetica, sans-serif'>0.2</text>
<text x="1369.8" y="1820.0" font-size="45.2" fill="#000" text-anchor="middle" font-weight="normal" font-family='"Liberation Sans", Arial, Helvetica, sans-serif'>Time (s)</text>
<text x="952.6" y="1742.0" font-size="45.2" fill="#000" text-anchor="start" font-weight="normal" font-family='"Liberation Sans", Arial, Helvetica, sans-serif' transform="rotate(-90 952.6 1742.0)">% Occurence w/</text>
<text x="1007.5" y="1783.3" font-size="45.2" fill="#000" text-anchor="start" font-weight="normal" font-family='"Liberation Sans", Arial, Helvetica, sans-serif' transform="rotate(-90 1007.5 1783.3)">Synchronous Events</text>
<text x="1091.0" y="1439.0" font-size="45.2" fill="#888888" text-anchor="start" font-weight="normal" font-family='"Liberation Sans", Arial, Helvetica, sans-serif'>SPW-R</text>
<text x="1093.0" y="1488.0" font-size="45.2" fill="#c45e5e" text-anchor="start" font-weight="normal" font-family='"Liberation Sans", Arial, Helvetica, sans-serif'>DS1</text>
<text x="1095.0" y="1537.0" font-size="45.2" fill="#148a8a" text-anchor="start" font-weight="normal" font-family='"Liberation Sans", Arial, Helvetica, sans-serif'>DS2</text>
<text x="1239.7" y="1595.6" font-size="33.8" fill="#000" text-anchor="start" font-weight="normal" font-family='"Liberation Sans", Arial, Helvetica, sans-serif' transform="rotate(-90 1239.7 1595.6)"><tspan font-style="italic">P</tspan>&lt;0.0001</text>
<text x="1279.2" y="1529.3" font-size="33.8" fill="#000" text-anchor="start" font-weight="normal" font-family='"Liberation Sans", Arial, Helvetica, sans-serif' transform="rotate(-90 1279.2 1529.3)"><tspan font-style="italic">P</tspan>=0.0002</text>
<text x="1321.3" y="1532.5" font-size="33.8" fill="#000" text-anchor="start" font-weight="normal" font-family='"Liberation Sans", Arial, Helvetica, sans-serif' transform="rotate(-90 1321.3 1532.5)"><tspan font-style="italic">P</tspan>=0.04</text>
<path d="M1204.3 1471.5H1208.2V1532.7H1204.3" stroke="#000" stroke-width="2.2" fill="none"/>
<path d="M1244.8 1422.2H1248V1483.4H1244.8" stroke="#000" stroke-width="2.2" fill="none"/>
<path d="M1285 1422.2H1290.7V1530.6H1285" stroke="#000" stroke-width="2.2" fill="none"/>
</svg></body></html>
